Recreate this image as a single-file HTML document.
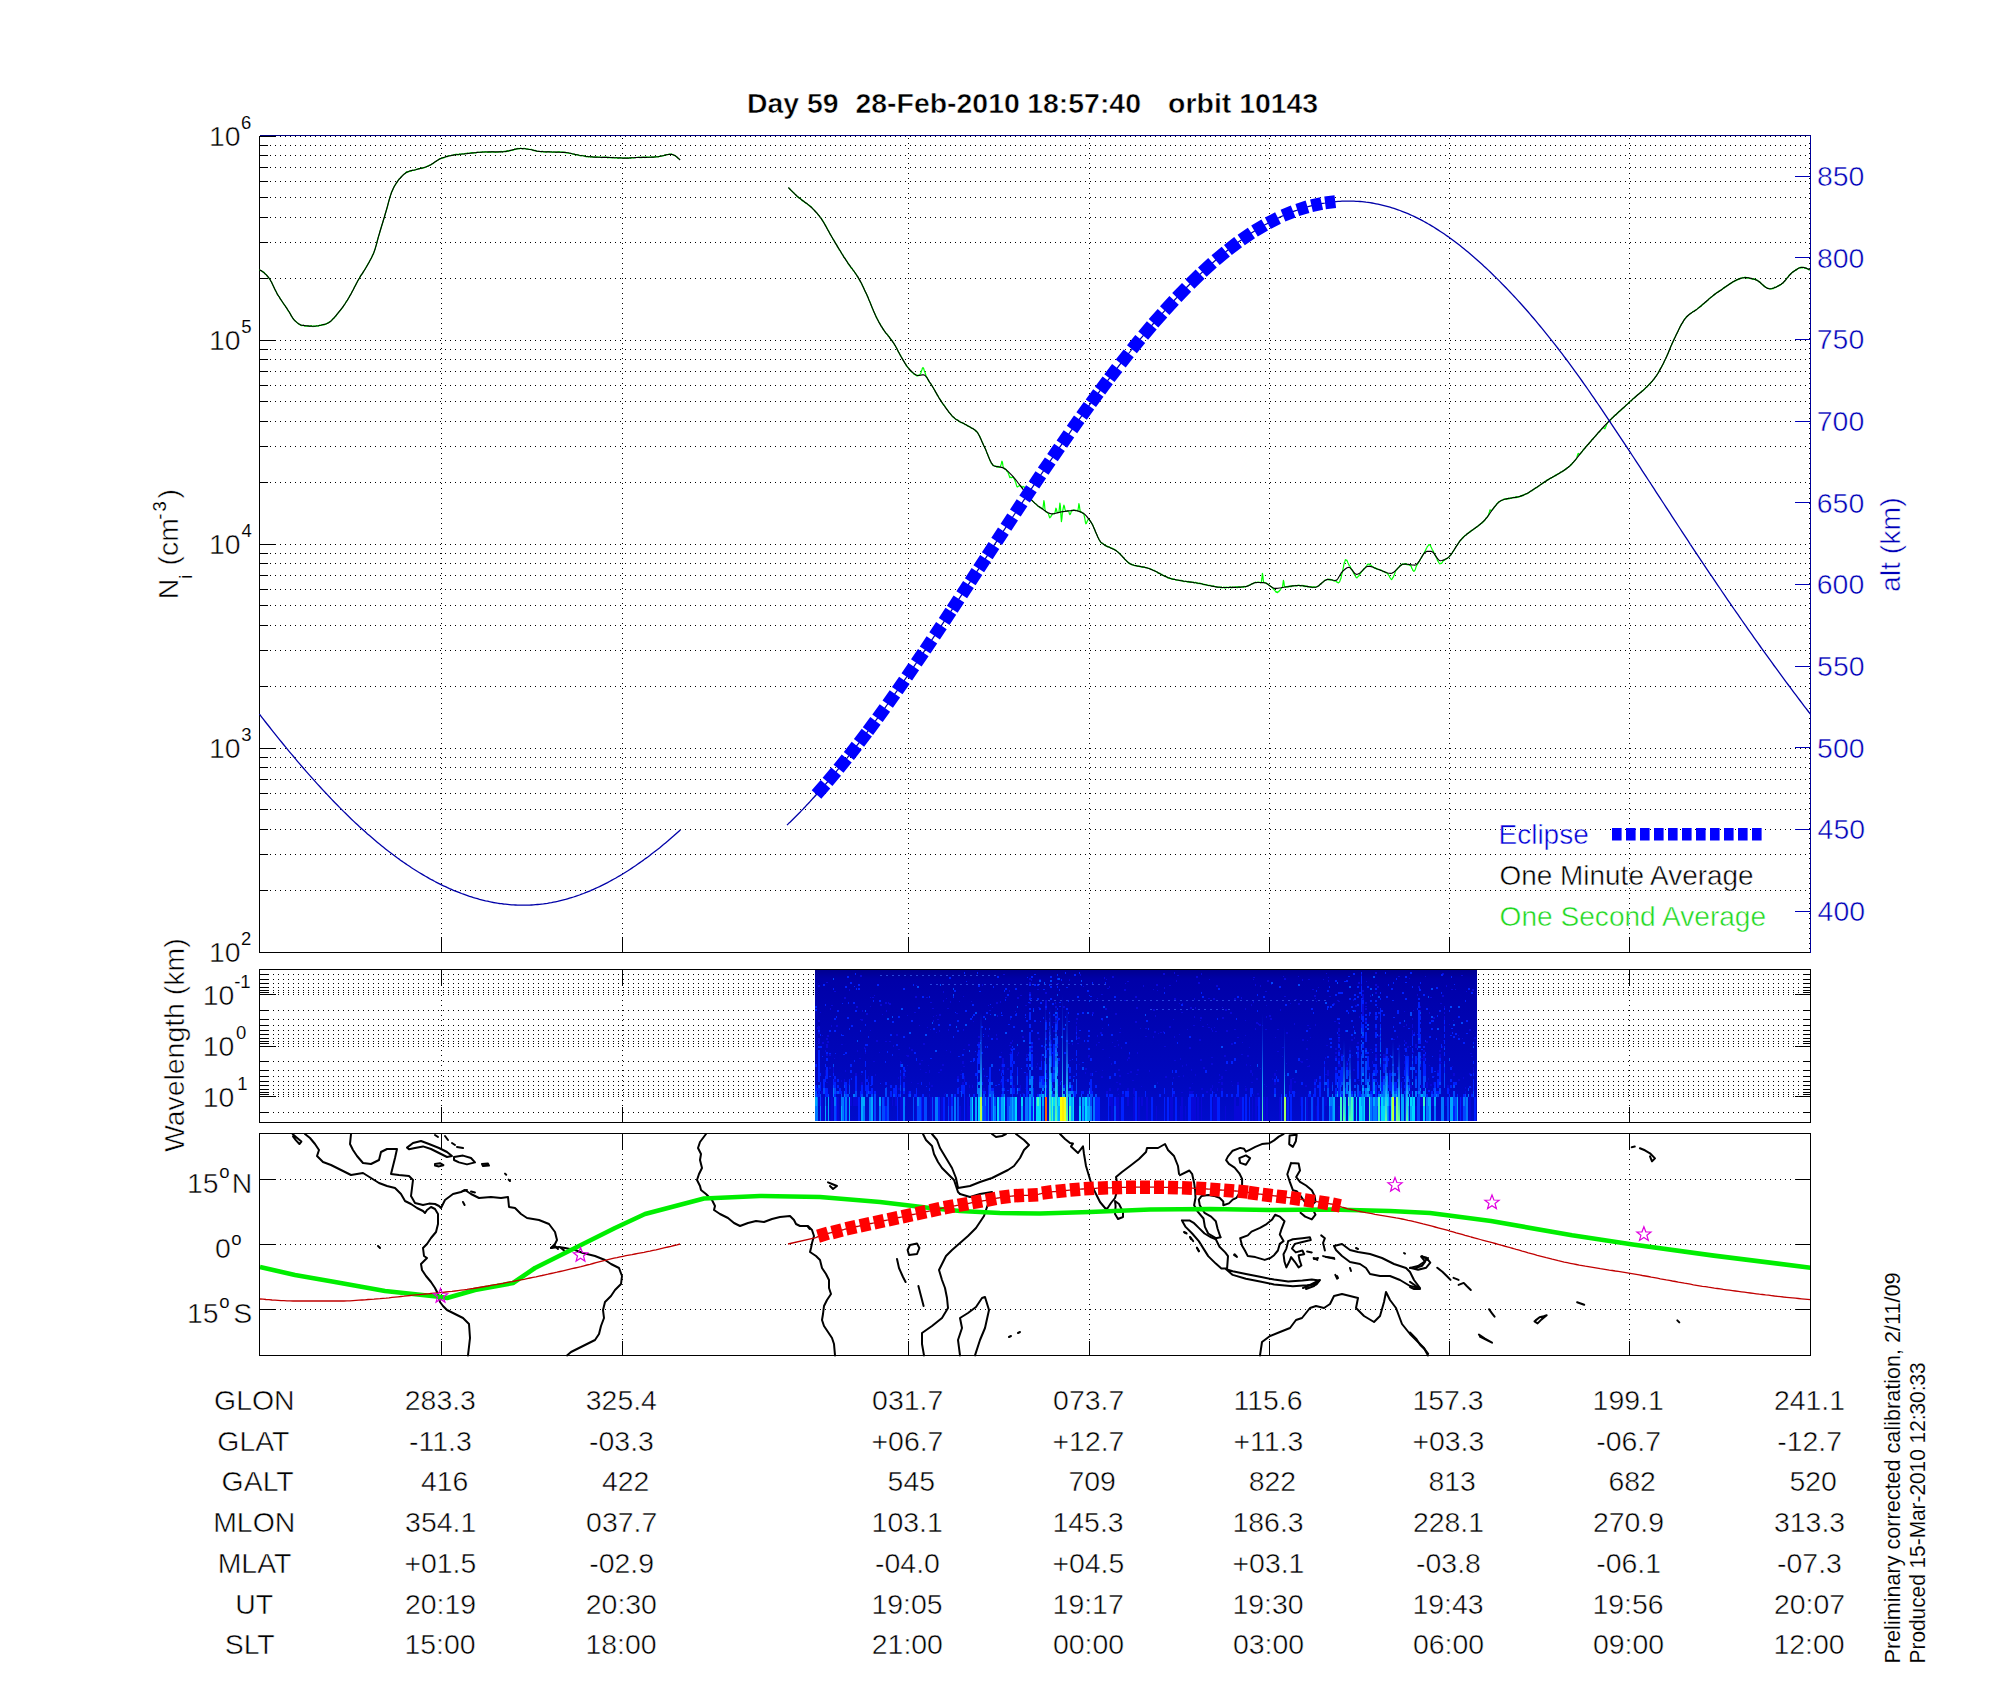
<!DOCTYPE html><html><head><meta charset="utf-8"><style>html,body{margin:0;padding:0;background:#fff;}svg{display:block;}text{font-family:"Liberation Sans",sans-serif;stroke:#fff;stroke-width:0.5;paint-order:fill stroke;}</style></head><body>
<svg width="2000" height="1700" viewBox="0 0 2000 1700">
<rect x="0" y="0" width="2000" height="1700" fill="#fff"/>
<text x="746.9" y="113" font-size="28" fill="#000" font-weight="bold" textLength="91.6" lengthAdjust="spacingAndGlyphs">Day 59</text>
<text x="855.5" y="113" font-size="28" fill="#000" font-weight="bold" textLength="164.3" lengthAdjust="spacingAndGlyphs">28-Feb-2010</text>
<text x="1027.2" y="113" font-size="28" fill="#000" font-weight="bold" textLength="113.8" lengthAdjust="spacingAndGlyphs">18:57:40</text>
<text x="1168.1" y="113" font-size="28" fill="#000" font-weight="bold" textLength="150.1" lengthAdjust="spacingAndGlyphs">orbit 10143</text>
<g shape-rendering="crispEdges">
<line x1="264.5" y1="890.5" x2="1810.5" y2="890.5" stroke="#000" stroke-width="1" stroke-dasharray="1 4" stroke-dashoffset="0"/>
<line x1="264.5" y1="854.5" x2="1810.5" y2="854.5" stroke="#000" stroke-width="1" stroke-dasharray="1 4" stroke-dashoffset="0"/>
<line x1="264.5" y1="829.5" x2="1810.5" y2="829.5" stroke="#000" stroke-width="1" stroke-dasharray="1 4" stroke-dashoffset="0"/>
<line x1="264.5" y1="809.5" x2="1810.5" y2="809.5" stroke="#000" stroke-width="1" stroke-dasharray="1 4" stroke-dashoffset="0"/>
<line x1="264.5" y1="793.5" x2="1810.5" y2="793.5" stroke="#000" stroke-width="1" stroke-dasharray="1 4" stroke-dashoffset="0"/>
<line x1="264.5" y1="779.5" x2="1810.5" y2="779.5" stroke="#000" stroke-width="1" stroke-dasharray="1 4" stroke-dashoffset="0"/>
<line x1="264.5" y1="767.5" x2="1810.5" y2="767.5" stroke="#000" stroke-width="1" stroke-dasharray="1 4" stroke-dashoffset="0"/>
<line x1="264.5" y1="757.5" x2="1810.5" y2="757.5" stroke="#000" stroke-width="1" stroke-dasharray="1 4" stroke-dashoffset="0"/>
<line x1="264.5" y1="748.5" x2="1810.5" y2="748.5" stroke="#000" stroke-width="1" stroke-dasharray="1 4" stroke-dashoffset="0"/>
<line x1="264.5" y1="686.5" x2="1810.5" y2="686.5" stroke="#000" stroke-width="1" stroke-dasharray="1 4" stroke-dashoffset="0"/>
<line x1="264.5" y1="650.5" x2="1810.5" y2="650.5" stroke="#000" stroke-width="1" stroke-dasharray="1 4" stroke-dashoffset="0"/>
<line x1="264.5" y1="625.5" x2="1810.5" y2="625.5" stroke="#000" stroke-width="1" stroke-dasharray="1 4" stroke-dashoffset="0"/>
<line x1="264.5" y1="605.5" x2="1810.5" y2="605.5" stroke="#000" stroke-width="1" stroke-dasharray="1 4" stroke-dashoffset="0"/>
<line x1="264.5" y1="589.5" x2="1810.5" y2="589.5" stroke="#000" stroke-width="1" stroke-dasharray="1 4" stroke-dashoffset="0"/>
<line x1="264.5" y1="575.5" x2="1810.5" y2="575.5" stroke="#000" stroke-width="1" stroke-dasharray="1 4" stroke-dashoffset="0"/>
<line x1="264.5" y1="563.5" x2="1810.5" y2="563.5" stroke="#000" stroke-width="1" stroke-dasharray="1 4" stroke-dashoffset="0"/>
<line x1="264.5" y1="553.5" x2="1810.5" y2="553.5" stroke="#000" stroke-width="1" stroke-dasharray="1 4" stroke-dashoffset="0"/>
<line x1="264.5" y1="544.5" x2="1810.5" y2="544.5" stroke="#000" stroke-width="1" stroke-dasharray="1 4" stroke-dashoffset="0"/>
<line x1="264.5" y1="482.5" x2="1810.5" y2="482.5" stroke="#000" stroke-width="1" stroke-dasharray="1 4" stroke-dashoffset="0"/>
<line x1="264.5" y1="446.5" x2="1810.5" y2="446.5" stroke="#000" stroke-width="1" stroke-dasharray="1 4" stroke-dashoffset="0"/>
<line x1="264.5" y1="421.5" x2="1810.5" y2="421.5" stroke="#000" stroke-width="1" stroke-dasharray="1 4" stroke-dashoffset="0"/>
<line x1="264.5" y1="401.5" x2="1810.5" y2="401.5" stroke="#000" stroke-width="1" stroke-dasharray="1 4" stroke-dashoffset="0"/>
<line x1="264.5" y1="385.5" x2="1810.5" y2="385.5" stroke="#000" stroke-width="1" stroke-dasharray="1 4" stroke-dashoffset="0"/>
<line x1="264.5" y1="371.5" x2="1810.5" y2="371.5" stroke="#000" stroke-width="1" stroke-dasharray="1 4" stroke-dashoffset="0"/>
<line x1="264.5" y1="359.5" x2="1810.5" y2="359.5" stroke="#000" stroke-width="1" stroke-dasharray="1 4" stroke-dashoffset="0"/>
<line x1="264.5" y1="349.5" x2="1810.5" y2="349.5" stroke="#000" stroke-width="1" stroke-dasharray="1 4" stroke-dashoffset="0"/>
<line x1="264.5" y1="340.5" x2="1810.5" y2="340.5" stroke="#000" stroke-width="1" stroke-dasharray="1 4" stroke-dashoffset="0"/>
<line x1="264.5" y1="278.5" x2="1810.5" y2="278.5" stroke="#000" stroke-width="1" stroke-dasharray="1 4" stroke-dashoffset="0"/>
<line x1="264.5" y1="242.5" x2="1810.5" y2="242.5" stroke="#000" stroke-width="1" stroke-dasharray="1 4" stroke-dashoffset="0"/>
<line x1="264.5" y1="217.5" x2="1810.5" y2="217.5" stroke="#000" stroke-width="1" stroke-dasharray="1 4" stroke-dashoffset="0"/>
<line x1="264.5" y1="197.5" x2="1810.5" y2="197.5" stroke="#000" stroke-width="1" stroke-dasharray="1 4" stroke-dashoffset="0"/>
<line x1="264.5" y1="181.5" x2="1810.5" y2="181.5" stroke="#000" stroke-width="1" stroke-dasharray="1 4" stroke-dashoffset="0"/>
<line x1="264.5" y1="167.5" x2="1810.5" y2="167.5" stroke="#000" stroke-width="1" stroke-dasharray="1 4" stroke-dashoffset="0"/>
<line x1="264.5" y1="155.5" x2="1810.5" y2="155.5" stroke="#000" stroke-width="1" stroke-dasharray="1 4" stroke-dashoffset="0"/>
<line x1="264.5" y1="145.5" x2="1810.5" y2="145.5" stroke="#000" stroke-width="1" stroke-dasharray="1 4" stroke-dashoffset="0"/>
<line x1="264.5" y1="136.5" x2="1810.5" y2="136.5" stroke="#000" stroke-width="1" stroke-dasharray="1 4" stroke-dashoffset="0"/>
<line x1="441.5" y1="138" x2="441.5" y2="952.5" stroke="#000" stroke-width="1" stroke-dasharray="1 4" stroke-dashoffset="0"/>
<line x1="622.5" y1="138" x2="622.5" y2="952.5" stroke="#000" stroke-width="1" stroke-dasharray="1 4" stroke-dashoffset="0"/>
<line x1="908.5" y1="138" x2="908.5" y2="952.5" stroke="#000" stroke-width="1" stroke-dasharray="1 4" stroke-dashoffset="0"/>
<line x1="1089.5" y1="138" x2="1089.5" y2="952.5" stroke="#000" stroke-width="1" stroke-dasharray="1 4" stroke-dashoffset="0"/>
<line x1="1269.5" y1="138" x2="1269.5" y2="952.5" stroke="#000" stroke-width="1" stroke-dasharray="1 4" stroke-dashoffset="0"/>
<line x1="1449.5" y1="138" x2="1449.5" y2="952.5" stroke="#000" stroke-width="1" stroke-dasharray="1 4" stroke-dashoffset="0"/>
<line x1="1629.5" y1="138" x2="1629.5" y2="952.5" stroke="#000" stroke-width="1" stroke-dasharray="1 4" stroke-dashoffset="0"/>
<line x1="259.5" y1="952.5" x2="275.5" y2="952.5" stroke="#000" stroke-width="1"/>
<line x1="259.5" y1="890.5" x2="268" y2="890.5" stroke="#000" stroke-width="1"/>
<line x1="259.5" y1="854.5" x2="268" y2="854.5" stroke="#000" stroke-width="1"/>
<line x1="259.5" y1="829.5" x2="268" y2="829.5" stroke="#000" stroke-width="1"/>
<line x1="259.5" y1="809.5" x2="268" y2="809.5" stroke="#000" stroke-width="1"/>
<line x1="259.5" y1="793.5" x2="268" y2="793.5" stroke="#000" stroke-width="1"/>
<line x1="259.5" y1="779.5" x2="268" y2="779.5" stroke="#000" stroke-width="1"/>
<line x1="259.5" y1="767.5" x2="268" y2="767.5" stroke="#000" stroke-width="1"/>
<line x1="259.5" y1="757.5" x2="268" y2="757.5" stroke="#000" stroke-width="1"/>
<line x1="259.5" y1="748.5" x2="275.5" y2="748.5" stroke="#000" stroke-width="1"/>
<line x1="259.5" y1="686.5" x2="268" y2="686.5" stroke="#000" stroke-width="1"/>
<line x1="259.5" y1="650.5" x2="268" y2="650.5" stroke="#000" stroke-width="1"/>
<line x1="259.5" y1="625.5" x2="268" y2="625.5" stroke="#000" stroke-width="1"/>
<line x1="259.5" y1="605.5" x2="268" y2="605.5" stroke="#000" stroke-width="1"/>
<line x1="259.5" y1="589.5" x2="268" y2="589.5" stroke="#000" stroke-width="1"/>
<line x1="259.5" y1="575.5" x2="268" y2="575.5" stroke="#000" stroke-width="1"/>
<line x1="259.5" y1="563.5" x2="268" y2="563.5" stroke="#000" stroke-width="1"/>
<line x1="259.5" y1="553.5" x2="268" y2="553.5" stroke="#000" stroke-width="1"/>
<line x1="259.5" y1="544.5" x2="275.5" y2="544.5" stroke="#000" stroke-width="1"/>
<line x1="259.5" y1="482.5" x2="268" y2="482.5" stroke="#000" stroke-width="1"/>
<line x1="259.5" y1="446.5" x2="268" y2="446.5" stroke="#000" stroke-width="1"/>
<line x1="259.5" y1="421.5" x2="268" y2="421.5" stroke="#000" stroke-width="1"/>
<line x1="259.5" y1="401.5" x2="268" y2="401.5" stroke="#000" stroke-width="1"/>
<line x1="259.5" y1="385.5" x2="268" y2="385.5" stroke="#000" stroke-width="1"/>
<line x1="259.5" y1="371.5" x2="268" y2="371.5" stroke="#000" stroke-width="1"/>
<line x1="259.5" y1="359.5" x2="268" y2="359.5" stroke="#000" stroke-width="1"/>
<line x1="259.5" y1="349.5" x2="268" y2="349.5" stroke="#000" stroke-width="1"/>
<line x1="259.5" y1="340.5" x2="275.5" y2="340.5" stroke="#000" stroke-width="1"/>
<line x1="259.5" y1="278.5" x2="268" y2="278.5" stroke="#000" stroke-width="1"/>
<line x1="259.5" y1="242.5" x2="268" y2="242.5" stroke="#000" stroke-width="1"/>
<line x1="259.5" y1="217.5" x2="268" y2="217.5" stroke="#000" stroke-width="1"/>
<line x1="259.5" y1="197.5" x2="268" y2="197.5" stroke="#000" stroke-width="1"/>
<line x1="259.5" y1="181.5" x2="268" y2="181.5" stroke="#000" stroke-width="1"/>
<line x1="259.5" y1="167.5" x2="268" y2="167.5" stroke="#000" stroke-width="1"/>
<line x1="259.5" y1="155.5" x2="268" y2="155.5" stroke="#000" stroke-width="1"/>
<line x1="259.5" y1="145.5" x2="268" y2="145.5" stroke="#000" stroke-width="1"/>
<line x1="259.5" y1="136.5" x2="275.5" y2="136.5" stroke="#000" stroke-width="1"/>
<line x1="441.5" y1="936.5" x2="441.5" y2="952.5" stroke="#000" stroke-width="1"/>
<line x1="622.5" y1="936.5" x2="622.5" y2="952.5" stroke="#000" stroke-width="1"/>
<line x1="908.5" y1="936.5" x2="908.5" y2="952.5" stroke="#000" stroke-width="1"/>
<line x1="1089.5" y1="936.5" x2="1089.5" y2="952.5" stroke="#000" stroke-width="1"/>
<line x1="1269.5" y1="936.5" x2="1269.5" y2="952.5" stroke="#000" stroke-width="1"/>
<line x1="1449.5" y1="936.5" x2="1449.5" y2="952.5" stroke="#000" stroke-width="1"/>
<line x1="1629.5" y1="936.5" x2="1629.5" y2="952.5" stroke="#000" stroke-width="1"/>
<line x1="1794.5" y1="911.5" x2="1810.5" y2="911.5" stroke="#0000b8" stroke-width="1"/>
<line x1="1794.5" y1="829.5" x2="1810.5" y2="829.5" stroke="#0000b8" stroke-width="1"/>
<line x1="1794.5" y1="747.5" x2="1810.5" y2="747.5" stroke="#0000b8" stroke-width="1"/>
<line x1="1794.5" y1="666.5" x2="1810.5" y2="666.5" stroke="#0000b8" stroke-width="1"/>
<line x1="1794.5" y1="584.5" x2="1810.5" y2="584.5" stroke="#0000b8" stroke-width="1"/>
<line x1="1794.5" y1="502.5" x2="1810.5" y2="502.5" stroke="#0000b8" stroke-width="1"/>
<line x1="1794.5" y1="421.5" x2="1810.5" y2="421.5" stroke="#0000b8" stroke-width="1"/>
<line x1="1794.5" y1="339.5" x2="1810.5" y2="339.5" stroke="#0000b8" stroke-width="1"/>
<line x1="1794.5" y1="257.5" x2="1810.5" y2="257.5" stroke="#0000b8" stroke-width="1"/>
<line x1="1794.5" y1="176.5" x2="1810.5" y2="176.5" stroke="#0000b8" stroke-width="1"/>
<line x1="259.5" y1="135.5" x2="259.5" y2="953" stroke="#000" stroke-width="1"/>
<line x1="259.5" y1="952.5" x2="1810.5" y2="952.5" stroke="#000" stroke-width="1"/>
<line x1="1810.5" y1="135.5" x2="1810.5" y2="953" stroke="#00009a" stroke-width="1"/>
<line x1="1809.5" y1="143" x2="1809.5" y2="952.5" stroke="#000" stroke-width="1" stroke-dasharray="1 4" stroke-dashoffset="0"/>
<line x1="259.5" y1="135.5" x2="1811" y2="135.5" stroke="#000080" stroke-width="1"/>
</g>
<text x="208.9" y="962" font-size="28" fill="#000" textLength="31.6" lengthAdjust="spacingAndGlyphs">10</text>
<text x="241.1" y="945.2" font-size="18.5" fill="#000" style="stroke-width:0.1">2</text>
<text x="208.9" y="758" font-size="28" fill="#000" textLength="31.6" lengthAdjust="spacingAndGlyphs">10</text>
<text x="241.3" y="741.2" font-size="18.5" fill="#000" style="stroke-width:0.1">3</text>
<text x="208.9" y="554" font-size="28" fill="#000" textLength="31.6" lengthAdjust="spacingAndGlyphs">10</text>
<text x="241.6" y="537.2" font-size="18.5" fill="#000" style="stroke-width:0.1">4</text>
<text x="208.9" y="350" font-size="28" fill="#000" textLength="31.6" lengthAdjust="spacingAndGlyphs">10</text>
<text x="241.3" y="333.2" font-size="18.5" fill="#000" style="stroke-width:0.1">5</text>
<text x="208.9" y="146" font-size="28" fill="#000" textLength="31.6" lengthAdjust="spacingAndGlyphs">10</text>
<text x="241.1" y="129.2" font-size="18.5" fill="#000" style="stroke-width:0.1">6</text>
<text x="1817.6" y="920.9" font-size="28" fill="#0000b8" textLength="47.4" lengthAdjust="spacingAndGlyphs">400</text>
<text x="1817.6" y="839.2" font-size="28" fill="#0000b8" textLength="47.4" lengthAdjust="spacingAndGlyphs">450</text>
<text x="1817.1" y="757.6" font-size="28" fill="#0000b8" textLength="47.4" lengthAdjust="spacingAndGlyphs">500</text>
<text x="1817.1" y="675.9" font-size="28" fill="#0000b8" textLength="47.4" lengthAdjust="spacingAndGlyphs">550</text>
<text x="1816.8" y="594.2" font-size="28" fill="#0000b8" textLength="47.4" lengthAdjust="spacingAndGlyphs">600</text>
<text x="1816.8" y="512.6" font-size="28" fill="#0000b8" textLength="47.4" lengthAdjust="spacingAndGlyphs">650</text>
<text x="1816.8" y="430.9" font-size="28" fill="#0000b8" textLength="47.4" lengthAdjust="spacingAndGlyphs">700</text>
<text x="1816.8" y="349.2" font-size="28" fill="#0000b8" textLength="47.4" lengthAdjust="spacingAndGlyphs">750</text>
<text x="1817" y="267.6" font-size="28" fill="#0000b8" textLength="47.4" lengthAdjust="spacingAndGlyphs">800</text>
<text x="1817" y="185.9" font-size="28" fill="#0000b8" textLength="47.4" lengthAdjust="spacingAndGlyphs">850</text>
<g transform="translate(178,597) rotate(-90)">
<text x="-2.3" y="0" font-size="28" fill="#000" textLength="20.5" lengthAdjust="spacingAndGlyphs">N</text>
<text x="18.3" y="14" font-size="18.5" fill="#000" style="stroke-width:0.1">i</text>
<text x="31.6" y="0" font-size="28" fill="#000" textLength="47.3" lengthAdjust="spacingAndGlyphs">(cm</text>
<text x="77.3" y="-12.5" font-size="18.5" fill="#000" style="stroke-width:0.1">-</text>
<text x="85.5" y="-12.3" font-size="18.5" fill="#000" style="stroke-width:0.1">3</text>
<text x="98.4" y="0" font-size="28" fill="#000" textLength="9.5" lengthAdjust="spacingAndGlyphs">)</text>
</g>
<g transform="translate(1899.5,590.9) rotate(-90)">
<text x="-1.2" y="0" font-size="28" fill="#0000b8" textLength="94.7" lengthAdjust="spacingAndGlyphs">alt (km)</text>
</g>
<polyline points="259.5,269.7 260.3,270.3 261.1,270.5 261.9,271.2 262.7,271.8 263.5,271.9 264.3,272.5 265.1,274.1 265.9,274.3 266.7,275.1 267.5,276.8 268.3,277.1 269.1,278.5 269.9,279.3 270.7,280.8 271.5,281.8 272.3,283.9 273.1,285.8 273.9,287.2 274.7,289.1 275.5,290.7 276.3,291.7 277.1,293.9 277.9,295.1 278.7,296.1 279.5,297 280.3,299.1 281.1,299.9 281.9,301.3 282.7,302.6 283.5,303.6 284.3,305 285.1,305.6 285.9,307.2 286.7,308 287.5,309.8 288.3,311.1 289.1,311.7 289.9,313.1 290.7,314.5 291.5,316.6 292.3,317.3 293.1,318.7 293.9,319.4 294.7,320.6 295.5,321.2 296.3,321.8 297.1,322.7 297.9,323.3 298.7,324.2 299.5,324.4 300.3,325.1 301.1,325.4 301.9,325.7 302.7,325.5 303.5,325.1 304.3,325.9 305.1,326.1 305.9,326.2 306.7,325.9 307.5,326.1 308.3,325.7 309.1,326.4 309.9,326.2 310.7,325.9 311.5,325.7 312.3,326.5 313.1,326.7 313.9,325.8 314.7,326.5 315.5,326 316.3,325.7 317.1,325.8 317.9,326.1 318.7,326.1 319.5,325.1 320.3,325.5 321.1,324.8 321.9,325.2 322.7,324.6 323.5,325 324.3,324.8 325.1,324.1 325.9,324.4 326.7,323.4 327.5,322.9 328.3,323 329.1,322 329.9,321.6 330.7,321.2 331.5,320.7 332.3,319.4 333.1,318.5 333.9,318.4 334.7,317 335.5,316.7 336.3,315.6 337.1,314.1 337.9,313.2 338.7,312.3 339.5,311.4 340.3,310.3 341.1,309.3 341.9,308.3 342.7,307.6 343.5,306 344.3,304.7 345.1,303.8 345.9,302.1 346.7,300.9 347.5,300.3 348.3,298.5 349.1,297.2 349.9,295.3 350.7,294.3 351.5,293 352.3,291 353.1,290 353.9,288.5 354.7,286.3 355.5,285.3 356.3,283.6 357.1,282.3 357.9,280.5 358.7,279.5 359.5,278.1 360.3,276.1 361.1,274.9 361.9,274.2 362.7,273.3 363.5,271.3 364.3,270.3 365.1,269.2 365.9,267.6 366.7,266.3 367.5,264.8 368.3,263.4 369.1,262.3 369.9,260.5 370.7,259.1 371.5,258 372.3,255.6 373.1,254.4 373.9,252.6 374.7,250.1 375.5,247.4 376.3,245.2 377.1,241.6 377.9,238.5 378.7,235.9 379.5,233.4 380.3,230.2 381.1,227.7 381.9,225 382.7,222.9 383.5,219.8 384.3,217.6 385.1,214.3 385.9,211.7 386.7,209.2 387.5,206.5 388.3,203.1 389.1,200 389.9,197.1 390.7,194.9 391.5,192.3 392.3,190.9 393.1,189.3 393.9,187 394.7,185.6 395.5,184.7 396.3,183.3 397.1,182.3 397.9,180.7 398.7,179.5 399.5,178.7 400.3,178.3 401.1,176.9 401.9,176.1 402.7,175.4 403.5,174.6 404.3,173.9 405.1,173.7 405.9,172.4 406.7,171.7 407.5,172.3 408.3,171.9 409.1,171.7 409.9,170.9 410.7,171.2 411.5,171 412.3,170.1 413.1,170.5 413.9,170.4 414.7,170.1 415.5,169.8 416.3,169.4 417.1,169.2 417.9,168.9 418.7,168.5 419.5,168.8 420.3,168.3 421.1,168.6 421.9,167.6 422.7,168.3 423.5,167.8 424.3,167.8 425.1,167.5 425.9,167.3 426.7,166.7 427.5,165.8 428.3,166.2 429.1,165.3 429.9,165 430.7,165 431.5,164.3 432.3,163.7 433.1,163.7 433.9,162.9 434.7,162 435.5,161.4 436.3,161.5 437.1,160.5 437.9,160.3 438.7,159.4 439.5,158.8 440.3,158.7 441.1,158.7 441.9,157.7 442.7,158.1 443.5,157.9 444.3,157.6 445.1,157.3 445.9,156.3 446.7,156.7 447.5,156.7 448.3,155.7 449.1,155.7 449.9,155.6 450.7,155.6 451.5,155.4 452.3,155.3 453.1,155.5 453.9,154.6 454.7,154.5 455.5,154.4 456.3,154.3 457.1,154.2 457.9,155 458.7,154.8 459.5,153.9 460.3,154.2 461.1,154 461.9,153.9 462.7,153.8 463.5,154 464.3,153.9 465.1,153.6 465.9,153.4 466.7,153.4 467.5,153.1 468.3,153.5 469.1,153.5 469.9,153.1 470.7,152.7 471.5,152.7 472.3,152.8 473.1,153 473.9,153.1 474.7,152.6 475.5,152.9 476.3,152.7 477.1,152.4 477.9,152.3 478.7,152.3 479.5,152.5 480.3,152.1 481.1,152.3 481.9,152.1 482.7,151.8 483.5,152.1 484.3,152.2 485.1,151.6 485.9,151.9 486.7,151.9 487.5,152.3 488.3,152.4 489.1,151.8 489.9,152.3 490.7,152.2 491.5,151.7 492.3,151.9 493.1,151.5 493.9,152.2 494.7,152.1 495.5,152.3 496.3,152.2 497.1,152 497.9,152.1 498.7,151.9 499.5,151.5 500.3,151.9 501.1,151.3 501.9,151.5 502.7,152.1 503.5,151.3 504.3,151.3 505.1,151.2 505.9,151.8 506.7,151 507.5,150.6 508.3,151.3 509.1,150.4 509.9,150.9 510.7,150.5 511.5,150.4 512.3,150.3 513.1,149.8 513.9,149.8 514.7,148.8 515.5,149.4 516.3,149 517.1,149 517.9,148.3 518.7,148.8 519.5,149 520.3,148.1 521.1,148.3 521.9,148.6 522.7,148.9 523.5,148.4 524.3,148.4 525.1,148.5 525.9,149 526.7,149.3 527.5,149 528.3,149.1 529.1,149.3 529.9,149.3 530.7,149.5 531.5,149.3 532.3,149.9 533.1,150.6 533.9,150.2 534.7,150.8 535.5,150.4 536.3,151.2 537.1,151.4 537.9,151.5 538.7,151.4 539.5,151.5 540.3,151.7 541.1,152 541.9,151.3 542.7,151.3 543.5,152 544.3,152.2 545.1,151.8 545.9,151.8 546.7,152.1 547.5,151.5 548.3,151.7 549.1,151.6 549.9,152 550.7,151.8 551.5,151.7 552.3,152.2 553.1,152.5 553.9,151.8 554.7,152.2 555.5,152 556.3,152.4 557.1,152.2 557.9,151.9 558.7,151.9 559.5,151.7 560.3,152.2 561.1,152.1 561.9,152 562.7,152.2 563.5,152.2 564.3,152.7 565.1,152.1 565.9,153 566.7,152.6 567.5,152.8 568.3,152.8 569.1,153.3 569.9,153.5 570.7,153.4 571.5,153.5 572.3,153.9 573.1,154.3 573.9,154 574.7,154.5 575.5,155 576.3,154.6 577.1,154.6 577.9,154.7 578.7,155.4 579.5,155.5 580.3,155.9 581.1,155.9 581.9,155.4 582.7,155.5 583.5,155.7 584.3,155.8 585.1,156.4 585.9,156.7 586.7,156.8 587.5,156.3 588.3,157 589.1,156.5 589.9,156.7 590.7,157.1 591.5,156.5 592.3,156.6 593.1,157.4 593.9,156.9 594.7,157 595.5,157.2 596.3,157.3 597.1,156.7 597.9,157 598.7,157.2 599.5,157.2 600.3,157 601.1,157.4 601.9,157.7 602.7,157.2 603.5,157.4 604.3,157 605.1,157.1 605.9,157.5 606.7,157 607.5,157.8 608.3,157.8 609.1,157.1 609.9,157.9 610.7,157.4 611.5,157.8 612.3,157.8 613.1,157.4 613.9,157.8 614.7,157.8 615.5,158 616.3,157.5 617.1,158.1 617.9,158.3 618.7,158.1 619.5,158 620.3,157.6 621.1,158 621.9,157.9 622.7,158.3 623.5,158.2 624.3,158.1 625.1,157.8 625.9,158.2 626.7,158.2 627.5,157.8 628.3,158.4 629.1,158.2 629.9,157.6 630.7,158.4 631.5,157.5 632.3,157.7 633.1,158 633.9,157.8 634.7,157.7 635.5,157.7 636.3,157.5 637.1,157.3 637.9,157.2 638.7,157 639.5,157.6 640.3,157.7 641.1,157.4 641.9,157.6 642.7,157.2 643.5,157.1 644.3,157.2 645.1,157.7 645.9,156.8 646.7,157.3 647.5,157 648.3,157.5 649.1,157.1 649.9,157 650.7,157.1 651.5,157.2 652.3,157.4 653.1,157 653.9,157.4 654.7,156.6 655.5,156.8 656.3,156.5 657.1,156.5 657.9,157 658.7,156.8 659.5,156.1 660.3,156 661.1,156 661.9,156.2 662.7,156 663.5,155.8 664.3,155.4 665.1,154.8 665.9,154.9 666.7,154.5 667.5,154.7 668.3,154.6 669.1,154.1 669.9,154.1 670.7,154.6 671.5,153.8 672.3,154.7 673.1,155 673.9,155.4 674.7,155.3 675.5,156 676.3,156.6 677.1,157.3 677.9,158.3 678.7,158.8 679.5,159.1" fill="none" stroke="#00ff00" stroke-width="1.2" stroke-linejoin="round"/>
<polyline points="788.4,187.9 788.9,188 789.4,188.7 789.9,189.3 790.4,189.1 790.9,190.4 791.4,190.8 791.9,191.1 792.4,191.7 792.9,192.1 793.4,192.3 793.9,193.2 794.4,193.2 794.9,194.1 795.4,194.7 795.9,195 796.4,195.6 796.9,196.4 797.4,196.8 797.9,196.5 798.4,197.6 798.9,197.8 799.4,197.7 799.9,198.4 800.4,198.7 800.9,198.9 801.4,199.7 801.9,200.5 802.4,200.2 802.9,201.2 803.4,201.3 803.9,201.1 804.4,202.2 804.9,202.3 805.4,203 805.9,203.1 806.4,203.5 806.9,203.4 807.4,204.3 807.9,204.8 808.4,205.1 808.9,205.1 809.4,205.9 809.9,206 810.4,206.1 810.9,206.5 811.4,207 811.9,207.6 812.4,208 812.9,208.8 813.4,209.5 813.9,209.9 814.4,210.3 814.9,211.1 815.4,211.2 815.9,212 816.4,212.8 816.9,213 817.4,213.4 817.9,214.7 818.4,215.1 818.9,215.4 819.4,216 819.9,216.8 820.4,217.5 820.9,217.9 821.4,218.4 821.9,219.3 822.4,220.7 822.9,220.8 823.4,221.9 823.9,222.5 824.4,223.4 824.9,224.2 825.4,225.4 825.9,226 826.4,226.8 826.9,227.8 827.4,228.8 827.9,230 828.4,230.5 828.9,231.4 829.4,232.7 829.9,233.6 830.4,234.8 830.9,235 831.4,236.3 831.9,237.1 832.4,237.6 832.9,239.4 833.4,239.5 833.9,240.2 834.4,241.4 834.9,241.9 835.4,243.2 835.9,243.8 836.4,244.4 836.9,245.1 837.4,246.7 837.9,247 838.4,248.4 838.9,248.9 839.4,250.2 839.9,250.3 840.4,251.1 840.9,251.9 841.4,253.3 841.9,253.9 842.4,254.4 842.9,255 843.4,256.4 843.9,257.4 844.4,257.9 844.9,258 845.4,258.8 845.9,259.7 846.4,260.5 846.9,261.1 847.4,261.9 847.9,263.2 848.4,264.2 848.9,264.2 849.4,265.6 849.9,265.8 850.4,266.8 850.9,267.6 851.4,268.3 851.9,268 852.4,269 852.9,270 853.4,271 853.9,270.8 854.4,271.7 854.9,272.9 855.4,272.9 855.9,273.9 856.4,274.6 856.9,275.7 857.4,276.7 857.9,276.8 858.4,278.2 858.9,279 859.4,280 859.9,280.6 860.4,281.9 860.9,282.3 861.4,283.3 861.9,284.1 862.4,285.7 862.9,286.4 863.4,287.3 863.9,288.2 864.4,289.9 864.9,290.8 865.4,292 865.9,292.7 866.4,293.9 866.9,294.7 867.4,296.4 867.9,296.8 868.4,298.4 868.9,299.9 869.4,301 869.9,301.7 870.4,303 870.9,304.8 871.4,305.8 871.9,307.3 872.4,308.5 872.9,309.3 873.4,310.9 873.9,311.9 874.4,312.7 874.9,313.9 875.4,314.7 875.9,316.1 876.4,317.7 876.9,317.9 877.4,319.4 877.9,319.9 878.4,320.8 878.9,322.3 879.4,322.8 879.9,323.5 880.4,324.4 880.9,325.7 881.4,326.5 881.9,326.7 882.4,327.7 882.9,329.2 883.4,329.2 883.9,330.3 884.4,330.8 884.9,331.9 885.4,332.4 885.9,333.2 886.4,333.6 886.9,333.9 887.4,334.5 887.9,335 888.4,336.4 888.9,336.3 889.4,336.8 889.9,338.4 890.4,338.3 890.9,339.6 891.4,339.5 891.9,340.5 892.4,341 892.9,342.3 893.4,342.8 893.9,343.6 894.4,344.5 894.9,345.5 895.4,345.8 895.9,347 896.4,347.7 896.9,348.3 897.4,350 897.9,350.7 898.4,351.9 898.9,352.2 899.4,353.5 899.9,354.4 900.4,355.6 900.9,355.8 901.4,357 901.9,358 902.4,358.4 902.9,359.7 903.4,360.7 903.9,361.3 904.4,362.3 904.9,363.1 905.4,363.6 905.9,364.5 906.4,366 906.9,366.1 907.4,366.9 907.9,367.2 908.4,368 908.9,368.5 909.4,369.8 909.9,370.1 910.4,370.8 910.9,371.4 911.4,371.5 911.9,372.3 912.4,372.4 912.9,372.7 913.4,373.7 913.9,374 914.4,374.5 914.9,374.4 915.4,375 915.9,374.9 916.4,375.7 916.9,375.8 917.4,375.3 917.9,376 918.4,375.2 918.9,375.1 919.4,375.4 919.9,374.6 920.4,374 920.9,373 921.4,370.9 921.9,370 922.4,368.2 922.9,367.7 923.4,367.9 923.9,369.3 924.4,371 924.9,372.3 925.4,373.7 925.9,375.3 926.4,376.5 926.9,377.2 927.4,378.1 927.9,379.6 928.4,380.3 928.9,381.5 929.4,382.3 929.9,383 930.4,383.2 930.9,383.7 931.4,384.6 931.9,385.6 932.4,386.4 932.9,387.3 933.4,387.9 933.9,389.3 934.4,389.6 934.9,390.7 935.4,392 935.9,392.8 936.4,393.2 936.9,394 937.4,395.5 937.9,395.5 938.4,396.5 938.9,397.8 939.4,398.6 939.9,399 940.4,399.7 940.9,400.6 941.4,401.8 941.9,402.3 942.4,403.5 942.9,404 943.4,405 943.9,404.7 944.4,405.6 944.9,406.1 945.4,407.3 945.9,407.9 946.4,408.3 946.9,409.5 947.4,409.7 947.9,410.6 948.4,411.2 948.9,412.4 949.4,412.6 949.9,413.1 950.4,413.5 950.9,414.4 951.4,415.2 951.9,415.8 952.4,416.6 952.9,417 953.4,416.9 953.9,417.2 954.4,418.3 954.9,418.7 955.4,418.8 955.9,419.5 956.4,419.6 956.9,419.6 957.4,419.8 957.9,420 958.4,420.9 958.9,421.5 959.4,421.8 959.9,421.6 960.4,422 960.9,422.6 961.4,422.7 961.9,422.7 962.4,422.8 962.9,423.2 963.4,423.1 963.9,423.3 964.4,424.1 964.9,424.7 965.4,424.5 965.9,424.6 966.4,424.8 966.9,425.2 967.4,425.9 967.9,425.8 968.4,426.6 968.9,426.1 969.4,426.5 969.9,427 970.4,427.2 970.9,427.9 971.4,428.1 971.9,428.5 972.4,428.5 972.9,428.2 973.4,429.1 973.9,429.4 974.4,429.7 974.9,429.8 975.4,430.6 975.9,431.3 976.4,430.9 976.9,432 977.4,432.2 977.9,433.1 978.4,434.2 978.9,435.2 979.4,435.9 979.9,436.5 980.4,438.3 980.9,438.7 981.4,440 981.9,441.7 982.4,442.3 982.9,443.4 983.4,445.1 983.9,446.1 984.4,446.6 984.9,447.8 985.4,448.8 985.9,449.9 986.4,451.3 986.9,453.3 987.4,453.6 987.9,455.1 988.4,456.3 988.9,457.4 989.4,459 989.9,460.4 990.4,461.5 990.9,462.3 991.4,463.4 991.9,463.4 992.4,464.4 992.9,465.6 993.4,465.1 993.9,465.6 994.4,466 994.9,465.9 995.4,466.4 995.9,466 996.4,466.2 996.9,467.1 997.4,466.3 997.9,467.1 998.4,466.5 998.9,467.4 999.4,467.1 999.9,467.1 1000.4,466.3 1000.9,465 1001.4,463.4 1001.9,461.2 1002.4,462.1 1002.9,465.4 1003.4,467.5 1003.9,467.6 1004.4,469 1004.9,468.9 1005.4,469.1 1005.9,469.3 1006.4,470.1 1006.9,471.3 1007.4,471.4 1007.9,472.3 1008.4,473.6 1008.9,474.9 1009.4,476.3 1009.9,477.7 1010.4,477.2 1010.9,477.3 1011.4,477.7 1011.9,477.4 1012.4,477.3 1012.9,476.7 1013.4,477.2 1013.9,478.5 1014.4,479.1 1014.9,480.6 1015.4,481.8 1015.9,483.2 1016.4,485.1 1016.9,486.5 1017.4,487 1017.9,486.7 1018.4,486.2 1018.9,485.9 1019.4,485.6 1019.9,485.7 1020.4,486.3 1020.9,486.1 1021.4,487 1021.9,487.6 1022.4,487.5 1022.9,486.4 1023.4,486.8 1023.9,486.8 1024.4,487.1 1024.9,488.8 1025.4,490.6 1025.9,492 1026.4,494.1 1026.9,494.4 1027.4,495.6 1027.9,495.5 1028.4,496 1028.9,497.5 1029.4,498 1029.9,498.8 1030.4,499 1030.9,499.4 1031.4,500.2 1031.9,500 1032.4,500.9 1032.9,501.3 1033.4,501.5 1033.9,502.4 1034.4,502.6 1034.9,503.2 1035.4,503.5 1035.9,503.9 1036.4,504.4 1036.9,505 1037.4,505.8 1037.9,506.2 1038.4,506.5 1038.9,506.8 1039.4,506.7 1039.9,507.7 1040.4,507.4 1040.9,507.6 1041.4,508.3 1041.9,508.8 1042.4,508.7 1042.9,508.6 1043.4,504.6 1043.9,500.7 1044.4,503.1 1044.9,508.8 1045.4,510.9 1045.9,511.8 1046.4,512.2 1046.9,512.1 1047.4,512.5 1047.9,513.3 1048.4,513.7 1048.9,515.4 1049.4,517.1 1049.9,517.8 1050.4,516.9 1050.9,516.9 1051.4,515.3 1051.9,515.1 1052.4,514 1052.9,513.6 1053.4,513.8 1053.9,514 1054.4,513.4 1054.9,513.1 1055.4,510.7 1055.9,508.2 1056.4,509 1056.9,511.6 1057.4,512.5 1057.9,512.6 1058.4,512.7 1058.9,512.1 1059.4,508.1 1059.9,503.1 1060.4,506.2 1060.9,514.9 1061.4,521.6 1061.9,518.6 1062.4,512.8 1062.9,509.9 1063.4,507.2 1063.9,505.1 1064.4,506.4 1064.9,509.1 1065.4,510.5 1065.9,511.3 1066.4,511.4 1066.9,511.4 1067.4,511.4 1067.9,510.9 1068.4,511.3 1068.9,511.6 1069.4,513.9 1069.9,514.5 1070.4,514 1070.9,512.7 1071.4,510.8 1071.9,510.3 1072.4,510.8 1072.9,510.5 1073.4,510 1073.9,509.9 1074.4,510.3 1074.9,510 1075.4,510.8 1075.9,510.2 1076.4,510.4 1076.9,510.6 1077.4,510.8 1077.9,510.3 1078.4,507.5 1078.9,503.6 1079.4,505.7 1079.9,509.7 1080.4,512.2 1080.9,512.3 1081.4,511.9 1081.9,512.4 1082.4,513 1082.9,513.5 1083.4,513.2 1083.9,514.2 1084.4,516.5 1084.9,519 1085.4,522.2 1085.9,523.8 1086.4,523.3 1086.9,522.1 1087.4,520.7 1087.9,519.9 1088.4,518.9 1088.9,519.3 1089.4,519.5 1089.9,520.7 1090.4,520.8 1090.9,522.4 1091.4,522.8 1091.9,523.7 1092.4,524.1 1092.9,525.3 1093.4,526.6 1093.9,528.1 1094.4,529 1094.9,529.9 1095.4,531.9 1095.9,532.8 1096.4,533.8 1096.9,534.7 1097.4,535.9 1097.9,537.6 1098.4,537.9 1098.9,539.3 1099.4,540.3 1099.9,540.8 1100.4,541.9 1100.9,542.6 1101.4,543 1101.9,543.3 1102.4,543.2 1102.9,543.4 1103.4,544.2 1103.9,544.4 1104.4,544.6 1104.9,545.5 1105.4,545.2 1105.9,546 1106.4,546.4 1106.9,545.8 1107.4,546.9 1107.9,546.6 1108.4,546.6 1108.9,546.8 1109.4,546.9 1109.9,547.6 1110.4,547.7 1110.9,548.3 1111.4,548.5 1111.9,548 1112.4,548.6 1112.9,548.8 1113.4,548.8 1113.9,549.2 1114.4,549.4 1114.9,550.2 1115.4,550.1 1115.9,550.2 1116.4,550.6 1116.9,551.2 1117.4,551.7 1117.9,551.8 1118.4,552.7 1118.9,552.7 1119.4,553.6 1119.9,554 1120.4,554.1 1120.9,555.2 1121.4,555.4 1121.9,556 1122.4,556.6 1122.9,557.2 1123.4,557.6 1123.9,557.7 1124.4,559 1124.9,559.6 1125.4,559.7 1125.9,560.3 1126.4,560.5 1126.9,561.6 1127.4,561.9 1127.9,561.8 1128.4,562.9 1128.9,563.4 1129.4,563.1 1129.9,564.1 1130.4,563.9 1130.9,563.8 1131.4,564.6 1131.9,564.4 1132.4,565 1132.9,565 1133.4,564.7 1133.9,565.2 1134.4,565.7 1134.9,565.4 1135.4,565.6 1135.9,566 1136.4,565.7 1136.9,565.9 1137.4,566.1 1137.9,566.4 1138.4,565.9 1138.9,565.8 1139.4,566.6 1139.9,566.5 1140.4,566.3 1140.9,567 1141.4,567.1 1141.9,566.8 1142.4,567.4 1142.9,567.3 1143.4,567.3 1143.9,566.9 1144.4,566.8 1144.9,567.5 1145.4,567.7 1145.9,567.5 1146.4,567.7 1146.9,567.9 1147.4,567.8 1147.9,568.4 1148.4,568.4 1148.9,568.4 1149.4,568.3 1149.9,568.9 1150.4,568.9 1150.9,569.5 1151.4,569.2 1151.9,569.6 1152.4,569.6 1152.9,570.1 1153.4,570.5 1153.9,570.2 1154.4,570.4 1154.9,571.1 1155.4,571.1 1155.9,571.6 1156.4,571.5 1156.9,571.7 1157.4,572.4 1157.9,573.1 1158.4,573.3 1158.9,573.2 1159.4,573.3 1159.9,573.2 1160.4,573.7 1160.9,574 1161.4,574.9 1161.9,574.3 1162.4,575.4 1162.9,575.2 1163.4,575.4 1163.9,575.5 1164.4,576.4 1164.9,575.9 1165.4,576.5 1165.9,576.7 1166.4,576.6 1166.9,576.8 1167.4,577.8 1167.9,577.8 1168.4,577.9 1168.9,578.3 1169.4,577.7 1169.9,578.4 1170.4,578.7 1170.9,578.3 1171.4,578.7 1171.9,579.3 1172.4,578.8 1172.9,579.4 1173.4,578.9 1173.9,579.5 1174.4,579.2 1174.9,579.5 1175.4,579.5 1175.9,580.1 1176.4,580.1 1176.9,580 1177.4,580.2 1177.9,580.1 1178.4,580.5 1178.9,580.1 1179.4,580.5 1179.9,580.6 1180.4,580.5 1180.9,580.2 1181.4,580.4 1181.9,581 1182.4,580.6 1182.9,581.2 1183.4,581.1 1183.9,581.6 1184.4,581.6 1184.9,581.5 1185.4,581.2 1185.9,581 1186.4,581.6 1186.9,581.8 1187.4,582.1 1187.9,581.4 1188.4,581.4 1188.9,582.3 1189.4,582.2 1189.9,582 1190.4,582.3 1190.9,581.8 1191.4,582.2 1191.9,582.4 1192.4,582.4 1192.9,582.1 1193.4,582.1 1193.9,582.7 1194.4,583 1194.9,582.3 1195.4,582.3 1195.9,582.4 1196.4,583.2 1196.9,582.9 1197.4,583.1 1197.9,583.7 1198.4,583.4 1198.9,583.1 1199.4,583.6 1199.9,583 1200.4,583.4 1200.9,583.9 1201.4,583.5 1201.9,583.5 1202.4,584.1 1202.9,584 1203.4,584.7 1203.9,584 1204.4,584.8 1204.9,584.5 1205.4,585 1205.9,584.8 1206.4,585.1 1206.9,584.9 1207.4,584.9 1207.9,585.2 1208.4,585.7 1208.9,585.3 1209.4,585.3 1209.9,585.6 1210.4,585.4 1210.9,585.7 1211.4,586.1 1211.9,586.2 1212.4,586.3 1212.9,586.1 1213.4,585.9 1213.9,586 1214.4,586.4 1214.9,586.4 1215.4,586.8 1215.9,586.6 1216.4,587.2 1216.9,587.1 1217.4,587.2 1217.9,587.4 1218.4,587.2 1218.9,587.2 1219.4,587.1 1219.9,586.9 1220.4,587.7 1220.9,587.4 1221.4,587 1221.9,587.9 1222.4,587.6 1222.9,587.6 1223.4,587.4 1223.9,587.1 1224.4,588 1224.9,587.2 1225.4,587.4 1225.9,588 1226.4,587.1 1226.9,587.5 1227.4,587.5 1227.9,587.2 1228.4,587.9 1228.9,587.4 1229.4,587 1229.9,587.4 1230.4,586.9 1230.9,587.6 1231.4,587.8 1231.9,587.8 1232.4,586.9 1232.9,587.5 1233.4,587.1 1233.9,587.3 1234.4,587.1 1234.9,587.1 1235.4,586.9 1235.9,587.4 1236.4,586.8 1236.9,587.7 1237.4,586.7 1237.9,587.6 1238.4,586.9 1238.9,586.7 1239.4,587.4 1239.9,587.1 1240.4,587.4 1240.9,587.1 1241.4,587.2 1241.9,586.6 1242.4,587.1 1242.9,586.9 1243.4,587.3 1243.9,586.3 1244.4,586.3 1244.9,586.9 1245.4,587 1245.9,586.5 1246.4,586.6 1246.9,586.3 1247.4,586 1247.9,585.9 1248.4,585.8 1248.9,585 1249.4,585 1249.9,585.2 1250.4,584.4 1250.9,584.4 1251.4,583.9 1251.9,583.8 1252.4,583.8 1252.9,583.7 1253.4,583.7 1253.9,583 1254.4,582.5 1254.9,582.5 1255.4,582.2 1255.9,582.3 1256.4,582.6 1256.9,582.6 1257.4,582.2 1257.9,582.2 1258.4,582.1 1258.9,582.2 1259.4,582.5 1259.9,582.3 1260.4,582.9 1260.9,582.6 1261.4,581.7 1261.9,578.2 1262.4,573.3 1262.9,576.4 1263.4,581.2 1263.9,582.4 1264.4,582.9 1264.9,582.6 1265.4,582.7 1265.9,582.9 1266.4,583.1 1266.9,583.7 1267.4,584.1 1267.9,584.5 1268.4,584.2 1268.9,585.3 1269.4,585.4 1269.9,585.7 1270.4,586.2 1270.9,586.5 1271.4,586.6 1271.9,587.2 1272.4,587.9 1272.9,588.4 1273.4,589.1 1273.9,588.9 1274.4,590.2 1274.9,590.7 1275.4,591.2 1275.9,592 1276.4,591.6 1276.9,592.5 1277.4,592.7 1277.9,591.7 1278.4,591.8 1278.9,591.7 1279.4,590.4 1279.9,590.3 1280.4,589.8 1280.9,588.7 1281.4,588 1281.9,587.7 1282.4,587.5 1282.9,584.1 1283.4,580.4 1283.9,582.2 1284.4,586.3 1284.9,586.7 1285.4,586.5 1285.9,587.4 1286.4,586.7 1286.9,586.7 1287.4,587.2 1287.9,586.4 1288.4,586.2 1288.9,586.9 1289.4,586.2 1289.9,586.1 1290.4,586.7 1290.9,585.9 1291.4,586.5 1291.9,585.9 1292.4,585.8 1292.9,585.6 1293.4,585.9 1293.9,585.9 1294.4,585.6 1294.9,585.7 1295.4,585.4 1295.9,585.9 1296.4,586 1296.9,585.8 1297.4,585.8 1297.9,585.1 1298.4,585.3 1298.9,585.2 1299.4,585.2 1299.9,586 1300.4,586 1300.9,586 1301.4,585.7 1301.9,585.3 1302.4,585.7 1302.9,585.4 1303.4,586.3 1303.9,585.7 1304.4,585.8 1304.9,586.6 1305.4,585.9 1305.9,586.7 1306.4,586.2 1306.9,586.6 1307.4,586.1 1307.9,587 1308.4,586.6 1308.9,586.6 1309.4,587 1309.9,587 1310.4,586.7 1310.9,586.7 1311.4,587.2 1311.9,586.7 1312.4,587.6 1312.9,587.1 1313.4,586.9 1313.9,587.1 1314.4,586.9 1314.9,587.1 1315.4,587.3 1315.9,587.1 1316.4,586.8 1316.9,586.6 1317.4,586.5 1317.9,586.5 1318.4,585.8 1318.9,585.8 1319.4,585.1 1319.9,584.3 1320.4,583.9 1320.9,584.1 1321.4,583.3 1321.9,582.8 1322.4,582.5 1322.9,582.4 1323.4,581.5 1323.9,581.1 1324.4,580.7 1324.9,580 1325.4,580.2 1325.9,579.9 1326.4,579.7 1326.9,579.5 1327.4,579.4 1327.9,579.6 1328.4,579.1 1328.9,579.9 1329.4,579.1 1329.9,579.9 1330.4,579.3 1330.9,580 1331.4,579.6 1331.9,579.5 1332.4,580.1 1332.9,580.5 1333.4,580.7 1333.9,580.8 1334.4,581.1 1334.9,580.4 1335.4,580.9 1335.9,581 1336.4,582 1336.9,581.9 1337.4,582.4 1337.9,582.6 1338.4,582.9 1338.9,582.4 1339.4,582.1 1339.9,581 1340.4,579.4 1340.9,578.6 1341.4,575.9 1341.9,573.7 1342.4,572.2 1342.9,569.3 1343.4,567.3 1343.9,564.3 1344.4,562.5 1344.9,561.4 1345.4,559.7 1345.9,559.8 1346.4,560.3 1346.9,560.2 1347.4,561.6 1347.9,562.7 1348.4,563.7 1348.9,564.9 1349.4,565.8 1349.9,566 1350.4,567 1350.9,568.2 1351.4,569.4 1351.9,569.5 1352.4,570.7 1352.9,571.2 1353.4,572.9 1353.9,573.4 1354.4,574.5 1354.9,575.6 1355.4,575.9 1355.9,577.2 1356.4,577.7 1356.9,577.8 1357.4,577.1 1357.9,576.7 1358.4,576.1 1358.9,576.1 1359.4,574.9 1359.9,574.1 1360.4,573.4 1360.9,572.9 1361.4,571.8 1361.9,571.2 1362.4,571 1362.9,570.4 1363.4,569.3 1363.9,568.6 1364.4,568.8 1364.9,568.1 1365.4,567.3 1365.9,566.5 1366.4,566.5 1366.9,565.4 1367.4,564.7 1367.9,564.2 1368.4,564.1 1368.9,564.3 1369.4,564.1 1369.9,564.9 1370.4,564.9 1370.9,565.1 1371.4,565.7 1371.9,566.1 1372.4,566.5 1372.9,566.8 1373.4,567.1 1373.9,567.4 1374.4,568 1374.9,567.6 1375.4,568.5 1375.9,568.2 1376.4,569 1376.9,568.4 1377.4,569 1377.9,569.2 1378.4,569.6 1378.9,569.3 1379.4,569.5 1379.9,569.6 1380.4,570.2 1380.9,570.4 1381.4,570.1 1381.9,570.5 1382.4,570.7 1382.9,571.7 1383.4,571.4 1383.9,571.7 1384.4,571.6 1384.9,572.2 1385.4,572.6 1385.9,572.7 1386.4,572.3 1386.9,573.1 1387.4,573.6 1387.9,573.7 1388.4,575.1 1388.9,575.4 1389.4,576.3 1389.9,577.5 1390.4,578.3 1390.9,578.9 1391.4,579.6 1391.9,579.2 1392.4,578.6 1392.9,577.5 1393.4,576.9 1393.9,575.5 1394.4,574.5 1394.9,573.1 1395.4,571.6 1395.9,570.6 1396.4,569.9 1396.9,569.1 1397.4,569.1 1397.9,568.2 1398.4,567.3 1398.9,567.3 1399.4,566.7 1399.9,565.6 1400.4,565.9 1400.9,565 1401.4,565.4 1401.9,564.2 1402.4,564.1 1402.9,563.9 1403.4,564.4 1403.9,564.3 1404.4,564.1 1404.9,563.7 1405.4,564 1405.9,564.3 1406.4,563.7 1406.9,564.6 1407.4,564.6 1407.9,564.8 1408.4,564.7 1408.9,564.7 1409.4,565.3 1409.9,564.9 1410.4,565.4 1410.9,566 1411.4,566.9 1411.9,568.6 1412.4,568.9 1412.9,570.5 1413.4,570.8 1413.9,571.4 1414.4,571 1414.9,570.2 1415.4,569.4 1415.9,567.3 1416.4,566.3 1416.9,565.3 1417.4,564.3 1417.9,563.6 1418.4,562.9 1418.9,561.9 1419.4,561.3 1419.9,560.2 1420.4,559 1420.9,558.3 1421.4,557.7 1421.9,556.9 1422.4,555.7 1422.9,554.8 1423.4,554.3 1423.9,553.1 1424.4,552.9 1424.9,551.1 1425.4,550.8 1425.9,549.6 1426.4,548.3 1426.9,547.6 1427.4,546.5 1427.9,546.1 1428.4,545.3 1428.9,544.6 1429.4,544.8 1429.9,545.2 1430.4,545.1 1430.9,546.7 1431.4,547.6 1431.9,548.9 1432.4,549.8 1432.9,550.5 1433.4,551.4 1433.9,552.8 1434.4,553.4 1434.9,554.9 1435.4,555.7 1435.9,556.9 1436.4,557.5 1436.9,558.6 1437.4,560.3 1437.9,561.1 1438.4,561.8 1438.9,562.8 1439.4,563.3 1439.9,563.8 1440.4,563.7 1440.9,563.2 1441.4,563.5 1441.9,562.9 1442.4,562.2 1442.9,561.2 1443.4,560.6 1443.9,560.6 1444.4,560.3 1444.9,559.8 1445.4,559 1445.9,559.2 1446.4,558.8 1446.9,558.3 1447.4,558.3 1447.9,557.8 1448.4,557.5 1448.9,557.2 1449.4,556.9 1449.9,555.5 1450.4,555.3 1450.9,555.1 1451.4,554.1 1451.9,553.3 1452.4,552.9 1452.9,551.3 1453.4,551.3 1453.9,550.4 1454.4,549.5 1454.9,548.4 1455.4,547.9 1455.9,546.6 1456.4,546.2 1456.9,545.2 1457.4,545.1 1457.9,544.2 1458.4,543.1 1458.9,542.6 1459.4,541.5 1459.9,541 1460.4,540 1460.9,540.1 1461.4,539.4 1461.9,538.9 1462.4,537.7 1462.9,537.9 1463.4,536.7 1463.9,536.7 1464.4,536.2 1464.9,535.3 1465.4,535.3 1465.9,535.3 1466.4,534.6 1466.9,533.9 1467.4,534 1467.9,533.2 1468.4,533.3 1468.9,532.5 1469.4,531.8 1469.9,532.3 1470.4,531 1470.9,530.8 1471.4,531 1471.9,530 1472.4,530.1 1472.9,530 1473.4,529.4 1473.9,528.8 1474.4,528.9 1474.9,528.6 1475.4,528 1475.9,527.6 1476.4,527 1476.9,526.7 1477.4,526.9 1477.9,526.5 1478.4,525.2 1478.9,525 1479.4,524.6 1479.9,524.8 1480.4,523.8 1480.9,523.3 1481.4,523.5 1481.9,522.4 1482.4,522.8 1482.9,521.8 1483.4,521.8 1483.9,521.2 1484.4,520.1 1484.9,520.1 1485.4,519.2 1485.9,518.4 1486.4,517.6 1486.9,517.6 1487.4,516.8 1487.9,515.9 1488.4,515.5 1488.9,513.5 1489.4,511.9 1489.9,509.9 1490.4,509.9 1490.9,510.9 1491.4,510.8 1491.9,510.1 1492.4,509.5 1492.9,509.2 1493.4,508.2 1493.9,508.1 1494.4,506.6 1494.9,506.8 1495.4,505.9 1495.9,505.5 1496.4,504.4 1496.9,503.6 1497.4,503.2 1497.9,503.1 1498.4,502 1498.9,501.6 1499.4,501.9 1499.9,501.6 1500.4,501.3 1500.9,500.9 1501.4,500.4 1501.9,500.5 1502.4,500.2 1502.9,499.9 1503.4,499.6 1503.9,499 1504.4,498.9 1504.9,499 1505.4,499.1 1505.9,498.6 1506.4,499.3 1506.9,498.8 1507.4,498.9 1507.9,498.9 1508.4,498.2 1508.9,498.8 1509.4,498.8 1509.9,498 1510.4,497.8 1510.9,498.4 1511.4,498.4 1511.9,498.2 1512.4,497.7 1512.9,497.8 1513.4,497.3 1513.9,497.3 1514.4,497.4 1514.9,497.7 1515.4,496.9 1515.9,497.7 1516.4,496.7 1516.9,497.5 1517.4,496.7 1517.9,497.2 1518.4,497.1 1518.9,497.1 1519.4,496.5 1519.9,496.6 1520.4,496 1520.9,496.4 1521.4,495.5 1521.9,496.1 1522.4,495.6 1522.9,494.9 1523.4,495.6 1523.9,494.8 1524.4,494.3 1524.9,494.3 1525.4,493.8 1525.9,493.8 1526.4,494 1526.9,494 1527.4,493.4 1527.9,493.3 1528.4,493 1528.9,492.6 1529.4,492 1529.9,491.6 1530.4,491.2 1530.9,491.2 1531.4,490.6 1531.9,490.8 1532.4,490.1 1532.9,490 1533.4,489.6 1533.9,489.4 1534.4,488.6 1534.9,488.3 1535.4,488.4 1535.9,487.6 1536.4,487.7 1536.9,487.6 1537.4,486.7 1537.9,486.9 1538.4,486.2 1538.9,486.2 1539.4,485.5 1539.9,485.3 1540.4,484.9 1540.9,484.1 1541.4,484 1541.9,483.8 1542.4,483.3 1542.9,483.2 1543.4,483.1 1543.9,482.6 1544.4,482.3 1544.9,481.3 1545.4,481.5 1545.9,481.1 1546.4,481.1 1546.9,479.9 1547.4,479.7 1547.9,480.2 1548.4,479.3 1548.9,479.4 1549.4,479 1549.9,478.5 1550.4,478.2 1550.9,478.1 1551.4,478.2 1551.9,477.5 1552.4,477.4 1552.9,476.7 1553.4,476.8 1553.9,476.4 1554.4,476.3 1554.9,476.1 1555.4,475.1 1555.9,475.7 1556.4,475 1556.9,474.4 1557.4,474.3 1557.9,473.7 1558.4,473.5 1558.9,473.8 1559.4,473.4 1559.9,473.3 1560.4,472.3 1560.9,471.9 1561.4,471.9 1561.9,471.7 1562.4,471.6 1562.9,470.9 1563.4,471 1563.9,470.5 1564.4,469.9 1564.9,470 1565.4,468.9 1565.9,469.1 1566.4,468.3 1566.9,467.8 1567.4,467.9 1567.9,467.5 1568.4,467.2 1568.9,466.6 1569.4,466.7 1569.9,466.1 1570.4,465 1570.9,464.4 1571.4,464.9 1571.9,463.8 1572.4,463 1572.9,462.5 1573.4,462.4 1573.9,461.4 1574.4,461 1574.9,460.7 1575.4,459.8 1575.9,459.4 1576.4,458.9 1576.9,457.5 1577.4,455.5 1577.9,453.9 1578.4,453.4 1578.9,454.3 1579.4,454.6 1579.9,454.3 1580.4,453.6 1580.9,453.2 1581.4,452.1 1581.9,451.9 1582.4,451.6 1582.9,450 1583.4,449.6 1583.9,449.8 1584.4,448.3 1584.9,448.4 1585.4,447.6 1585.9,446.5 1586.4,446.5 1586.9,445.3 1587.4,445.6 1587.9,444.5 1588.4,444.5 1588.9,443.9 1589.4,442.6 1589.9,442.3 1590.4,441.4 1590.9,441.5 1591.4,440.2 1591.9,439.6 1592.4,439.1 1592.9,439.3 1593.4,438.1 1593.9,437.6 1594.4,437.1 1594.9,436.7 1595.4,436 1595.9,435.9 1596.4,434.7 1596.9,434.3 1597.4,434.1 1597.9,432.9 1598.4,432.3 1598.9,432.4 1599.4,431.3 1599.9,431.3 1600.4,430.7 1600.9,429.7 1601.4,429.1 1601.9,428.4 1602.4,428.7 1602.9,428 1603.4,427.9 1603.9,428 1604.4,428.3 1604.9,428.8 1605.4,427.4 1605.9,426.6 1606.4,425.3 1606.9,424 1607.4,423.1 1607.9,422.3 1608.4,421.5 1608.9,421.6 1609.4,421.2 1609.9,420.4 1610.4,419.5 1610.9,419.7 1611.4,418.5 1611.9,418 1612.4,418 1612.9,417.7 1613.4,417 1613.9,416 1614.4,416.4 1614.9,415.1 1615.4,414.8 1615.9,415 1616.4,414.4 1616.9,413.9 1617.4,412.7 1617.9,413 1618.4,412.1 1618.9,411.3 1619.4,411.6 1619.9,411.3 1620.4,410 1620.9,409.9 1621.4,409.9 1621.9,408.9 1622.4,408.4 1622.9,408.4 1623.4,407.6 1623.9,407.8 1624.4,407.2 1624.9,406.7 1625.4,406.1 1625.9,405.1 1626.4,405.2 1626.9,404.6 1627.4,404.1 1627.9,403.7 1628.4,403 1628.9,402.4 1629.4,402.6 1629.9,401.6 1630.4,400.9 1630.9,401.3 1631.4,400.4 1631.9,400.1 1632.4,399.3 1632.9,398.7 1633.4,398.4 1633.9,398.5 1634.4,397.5 1634.9,397.7 1635.4,396.6 1635.9,396.8 1636.4,395.7 1636.9,395.5 1637.4,394.8 1637.9,394.4 1638.4,394.3 1638.9,393.8 1639.4,393.5 1639.9,392.8 1640.4,392.4 1640.9,392 1641.4,392.2 1641.9,390.9 1642.4,390.8 1642.9,390.8 1643.4,390.1 1643.9,389.3 1644.4,389.6 1644.9,388.3 1645.4,387.9 1645.9,387.3 1646.4,387.2 1646.9,387.2 1647.4,386.1 1647.9,385.6 1648.4,385.6 1648.9,384.4 1649.4,383.8 1649.9,383.9 1650.4,382.8 1650.9,382.7 1651.4,381.8 1651.9,381.7 1652.4,381.3 1652.9,380.3 1653.4,379.5 1653.9,379.3 1654.4,378.7 1654.9,377.4 1655.4,376.9 1655.9,376.4 1656.4,375.8 1656.9,374.8 1657.4,374.4 1657.9,373.1 1658.4,373 1658.9,371.5 1659.4,370.5 1659.9,369.5 1660.4,368.6 1660.9,367.8 1661.4,367.5 1661.9,366.1 1662.4,365.2 1662.9,364.7 1663.4,363.7 1663.9,362.6 1664.4,361 1664.9,360.1 1665.4,359.3 1665.9,358 1666.4,357 1666.9,355.7 1667.4,354.6 1667.9,353.9 1668.4,352.6 1668.9,351.2 1669.4,350 1669.9,348.9 1670.4,347.8 1670.9,345.9 1671.4,345.5 1671.9,344 1672.4,342.8 1672.9,342.3 1673.4,341.1 1673.9,339.6 1674.4,338.2 1674.9,337.6 1675.4,336.6 1675.9,335.4 1676.4,334.1 1676.9,333.6 1677.4,332.2 1677.9,331.7 1678.4,330.4 1678.9,329.1 1679.4,328.7 1679.9,327.3 1680.4,326 1680.9,325.2 1681.4,324.1 1681.9,323.6 1682.4,323.2 1682.9,322.4 1683.4,321.3 1683.9,320 1684.4,319.4 1684.9,318.6 1685.4,318.2 1685.9,317.8 1686.4,316.6 1686.9,316.6 1687.4,316 1687.9,315.8 1688.4,315.5 1688.9,314.7 1689.4,314.5 1689.9,313.8 1690.4,313.6 1690.9,313.4 1691.4,312.5 1691.9,312.6 1692.4,312.2 1692.9,311.6 1693.4,311.3 1693.9,311.6 1694.4,310.8 1694.9,310.3 1695.4,310.1 1695.9,310 1696.4,309.5 1696.9,309.1 1697.4,308.6 1697.9,308.1 1698.4,308 1698.9,307.7 1699.4,306.8 1699.9,306.9 1700.4,306.2 1700.9,306.5 1701.4,306 1701.9,304.8 1702.4,304.9 1702.9,304.1 1703.4,303.5 1703.9,303.8 1704.4,303.4 1704.9,302.8 1705.4,302.2 1705.9,302.1 1706.4,301.3 1706.9,301 1707.4,300.5 1707.9,300.3 1708.4,299.8 1708.9,298.9 1709.4,298.3 1709.9,298.2 1710.4,297.9 1710.9,297.2 1711.4,297.3 1711.9,296.9 1712.4,296.3 1712.9,295.8 1713.4,295.5 1713.9,294.6 1714.4,294.9 1714.9,293.8 1715.4,294.2 1715.9,293.5 1716.4,292.8 1716.9,292.4 1717.4,292.5 1717.9,292 1718.4,291.9 1718.9,291 1719.4,291.4 1719.9,290.6 1720.4,290.3 1720.9,290.3 1721.4,289.8 1721.9,289.3 1722.4,288.8 1722.9,288.6 1723.4,287.9 1723.9,287.7 1724.4,288 1724.9,286.9 1725.4,286.5 1725.9,286.9 1726.4,286.1 1726.9,285.9 1727.4,285.6 1727.9,285.4 1728.4,284.7 1728.9,284.8 1729.4,283.7 1729.9,284.2 1730.4,283.3 1730.9,283.3 1731.4,282.7 1731.9,282.8 1732.4,282.1 1732.9,282 1733.4,281.4 1733.9,281.7 1734.4,281.3 1734.9,280.5 1735.4,280.8 1735.9,280.7 1736.4,279.8 1736.9,279.5 1737.4,280 1737.9,279.8 1738.4,278.8 1738.9,279.2 1739.4,279.2 1739.9,278.3 1740.4,278.7 1740.9,278.1 1741.4,278.4 1741.9,278 1742.4,277.9 1742.9,277.4 1743.4,277.9 1743.9,277.9 1744.4,277.4 1744.9,277.2 1745.4,277.2 1745.9,277.4 1746.4,278.1 1746.9,277.9 1747.4,278.1 1747.9,278 1748.4,277.5 1748.9,277.8 1749.4,278.5 1749.9,278.5 1750.4,278.7 1750.9,278.7 1751.4,278.7 1751.9,278.9 1752.4,279.2 1752.9,278.9 1753.4,278.6 1753.9,279.1 1754.4,278.9 1754.9,279.3 1755.4,279.8 1755.9,279.7 1756.4,279.8 1756.9,279.9 1757.4,280.4 1757.9,280.8 1758.4,281.2 1758.9,281.9 1759.4,281.4 1759.9,282 1760.4,282.3 1760.9,283.6 1761.4,283.7 1761.9,284.2 1762.4,284.8 1762.9,284.5 1763.4,285.8 1763.9,285.7 1764.4,286.4 1764.9,286.6 1765.4,287.3 1765.9,287.2 1766.4,287.5 1766.9,287.8 1767.4,288.5 1767.9,288.4 1768.4,288.3 1768.9,288.6 1769.4,288.9 1769.9,288.7 1770.4,288.9 1770.9,289.1 1771.4,288.8 1771.9,288.8 1772.4,288.2 1772.9,288.6 1773.4,288.6 1773.9,288 1774.4,287.3 1774.9,287.1 1775.4,287.6 1775.9,287.5 1776.4,287.1 1776.9,286.6 1777.4,286.4 1777.9,285.7 1778.4,285.9 1778.9,286.1 1779.4,285 1779.9,285.1 1780.4,285.1 1780.9,284.6 1781.4,283.9 1781.9,283.4 1782.4,283.5 1782.9,283.3 1783.4,282.7 1783.9,281.7 1784.4,281.5 1784.9,281 1785.4,280 1785.9,279.8 1786.4,278.8 1786.9,278 1787.4,277.2 1787.9,277.4 1788.4,276.8 1788.9,275.5 1789.4,274.9 1789.9,274.6 1790.4,273.9 1790.9,273.9 1791.4,272.9 1791.9,272.8 1792.4,272.3 1792.9,271.7 1793.4,271.9 1793.9,271.1 1794.4,270.9 1794.9,270.7 1795.4,270.1 1795.9,269.5 1796.4,270 1796.9,269.5 1797.4,268.9 1797.9,268.6 1798.4,268.5 1798.9,267.9 1799.4,267.5 1799.9,267.7 1800.4,268 1800.9,267.1 1801.4,267.9 1801.9,267.3 1802.4,267.9 1802.9,267.7 1803.4,267.3 1803.9,267.3 1804.4,268.1 1804.9,268.3 1805.4,268.2 1805.9,268.1 1806.4,268.3 1806.9,268.7 1807.4,269 1807.9,269.3 1808.4,269 1808.9,269.9 1809.4,270.3" fill="none" stroke="#00ff00" stroke-width="1.2" stroke-linejoin="round"/>
<polyline points="259.5,270 261,270.6 262.5,271.6 264,272.8 265.5,274.2 267,275.7 268.5,277.4 270,279.5 271.5,282.2 273,285.3 274.5,288.5 276,291.6 277.5,294.4 279,296.8 280.5,299.1 282,301.3 283.5,303.5 285,305.7 286.5,307.9 288.1,310.3 289.6,312.8 291.1,315.4 292.6,317.8 294.1,319.8 295.6,321.4 297.1,322.6 298.6,323.7 300.1,324.6 301.6,325.2 303.1,325.4 304.6,325.6 306.1,325.8 307.6,325.9 309.1,326.1 310.6,326.1 312.1,326.2 313.6,326.2 315.1,326.2 316.6,326 318.1,325.8 319.6,325.5 321.1,325.2 322.6,324.8 324.1,324.4 325.6,324 327.1,323.5 328.6,322.8 330.1,321.7 331.6,320.4 333.1,318.9 334.6,317.2 336.1,315.4 337.6,313.6 339.1,311.7 340.6,309.8 342.1,307.9 343.6,305.8 345.2,303.5 346.7,301.2 348.2,298.7 349.7,296.2 351.2,293.6 352.7,290.7 354.2,287.8 355.7,284.9 357.2,282 358.7,279.3 360.2,276.8 361.7,274.4 363.2,272.1 364.7,269.7 366.2,267.3 367.7,264.7 369.2,262 370.7,259.3 372.2,256.3 373.7,252.9 375.2,248.7 376.7,243.3 378.2,237.7 379.7,232.5 381.2,227.5 382.7,222.5 384.2,217.5 385.7,212.5 387.2,207.1 388.7,201.6 390.2,196.4 391.7,192 393.2,188.6 394.7,185.8 396.2,183.2 397.7,181.1 399.2,179.2 400.8,177.5 402.3,175.9 403.8,174.4 405.3,173.2 406.8,172.2 408.3,171.5 409.8,171 411.3,170.6 412.8,170.3 414.3,170 415.8,169.7 417.3,169.3 418.8,168.9 420.3,168.5 421.8,168.1 423.3,167.7 424.8,167.2 426.3,166.7 427.8,166.2 429.3,165.5 430.8,164.7 432.3,163.8 433.8,162.8 435.3,161.8 436.8,160.7 438.3,159.8 439.8,158.9 441.3,158.3 442.8,157.7 444.3,157.2 445.8,156.8 447.3,156.4 448.8,156 450.3,155.7 451.8,155.4 453.3,155.1 454.8,154.9 456.4,154.7 457.9,154.5 459.4,154.3 460.9,154.2 462.4,154 463.9,153.9 465.4,153.7 466.9,153.6 468.4,153.4 469.9,153.2 471.4,153.1 472.9,152.9 474.4,152.7 475.9,152.6 477.4,152.4 478.9,152.3 480.4,152.2 481.9,152.1 483.4,152 484.9,152 486.4,152 487.9,151.9 489.4,151.9 490.9,151.9 492.4,151.9 493.9,151.9 495.4,151.9 496.9,151.9 498.4,151.9 499.9,151.8 501.4,151.8 502.9,151.8 504.4,151.7 505.9,151.4 507.4,151.1 508.9,150.8 510.4,150.4 512,150 513.5,149.6 515,149.2 516.5,148.9 518,148.7 519.5,148.5 521,148.5 522.5,148.6 524,148.7 525.5,148.8 527,149 528.5,149.3 530,149.5 531.5,149.8 533,150.1 534.5,150.5 536,150.9 537.5,151.3 539,151.4 540.5,151.5 542,151.6 543.5,151.7 545,151.8 546.5,151.8 548,151.9 549.5,151.9 551,152 552.5,152 554,152 555.5,152.1 557,152.1 558.5,152.1 560,152.2 561.5,152.3 563,152.3 564.5,152.4 566,152.5 567.5,152.7 569.1,153 570.6,153.3 572.1,153.7 573.6,154 575.1,154.4 576.6,154.7 578.1,155 579.6,155.3 581.1,155.5 582.6,155.8 584.1,156 585.6,156.3 587.1,156.5 588.6,156.7 590.1,156.8 591.6,156.9 593.1,157 594.6,157.1 596.1,157.1 597.6,157.2 599.1,157.2 600.6,157.3 602.1,157.3 603.6,157.3 605.1,157.4 606.6,157.4 608.1,157.4 609.6,157.5 611.1,157.5 612.6,157.6 614.1,157.7 615.6,157.7 617.1,157.8 618.6,157.9 620.1,157.9 621.6,158 623.1,158.1 624.7,158.1 626.2,158.1 627.7,158.1 629.2,158 630.7,157.9 632.2,157.8 633.7,157.7 635.2,157.6 636.7,157.5 638.2,157.5 639.7,157.4 641.2,157.4 642.7,157.4 644.2,157.3 645.7,157.3 647.2,157.3 648.7,157.2 650.2,157.2 651.7,157.1 653.2,157.1 654.7,157 656.2,157 657.7,156.8 659.2,156.5 660.7,156.2 662.2,155.8 663.7,155.5 665.2,155.1 666.7,154.8 668.2,154.5 669.7,154.4 671.2,154.3 672.7,154.5 674.2,155.2 675.7,156.1 677.2,157.3 678.7,158.6 680.2,160" fill="none" stroke="#000" stroke-width="1.15" stroke-linejoin="round"/>
<polyline points="788.4,187.5 789.9,189.1 791.4,190.7 792.9,192.2 794.4,193.6 795.9,195 797.4,196.4 798.9,197.7 800.4,198.9 801.9,200.1 803.4,201.1 804.9,202.2 806.4,203.3 807.9,204.4 809.4,205.6 810.9,207 812.4,208.4 813.9,209.9 815.4,211.5 816.9,213.2 818.4,214.9 819.9,216.8 821.4,218.9 822.9,221.2 824.4,223.8 825.9,226.4 827.4,229.2 829,232 830.5,234.7 832,237.3 833.5,239.8 835,242.4 836.5,244.9 838,247.4 839.5,249.8 841,252.3 842.5,254.7 844,257.1 845.5,259.4 847,261.7 848.5,263.9 850,265.9 851.5,268 853,270 854.5,272 856,274.2 857.5,276.4 859,278.9 860.5,281.6 862,284.6 863.5,287.7 865,290.9 866.5,294.1 868,297.5 869.5,301.1 871,304.7 872.5,308.4 874,312 875.5,315.4 877,318.6 878.5,321.5 880,324.1 881.5,326.6 883,328.9 884.5,331.1 886,333.1 887.5,335 889,336.9 890.5,338.8 892,340.8 893.5,342.9 895,345.3 896.5,348 898,350.9 899.5,353.7 901,356.5 902.5,359.1 904,361.6 905.5,364.1 907.1,366.5 908.6,368.5 910.1,370 911.6,371.5 913.1,372.9 914.6,374.1 916.1,375 917.6,375.5 919.1,375.5 920.6,375.2 922.1,374.9 923.6,374.8 925.1,375.5 926.6,377.3 928.1,379.6 929.6,382.1 931.1,384.3 932.6,386.7 934.1,389.3 935.6,391.9 937.1,394.6 938.6,397.2 940.1,399.6 941.6,401.9 943.1,404 944.6,406.2 946.1,408.3 947.6,410.4 949.1,412.3 950.6,414.2 952.1,415.8 953.6,417.3 955.1,418.6 956.6,419.7 958.1,420.6 959.6,421.5 961.1,422.3 962.6,423 964.1,423.8 965.6,424.6 967.1,425.4 968.6,426.3 970.1,427.1 971.6,427.9 973.1,428.8 974.6,429.8 976.1,431.1 977.6,432.7 979.1,435.2 980.6,438.4 982.1,441.9 983.6,445.2 985.2,448.5 986.7,452.1 988.2,456 989.7,459.6 991.2,462.6 992.7,464.9 994.2,466 995.7,466.4 997.2,466.6 998.7,466.8 1000.2,467.1 1001.7,467.4 1003.2,467.9 1004.7,468.7 1006.2,469.8 1007.7,471.2 1009.2,472.6 1010.7,474.1 1012.2,475.6 1013.7,477.3 1015.2,479.1 1016.7,481 1018.2,483 1019.7,484.8 1021.2,486.8 1022.7,488.8 1024.2,490.9 1025.7,492.9 1027.2,495 1028.7,496.9 1030.2,498.6 1031.7,500.2 1033.2,501.7 1034.7,503.1 1036.2,504.4 1037.7,505.6 1039.2,506.7 1040.7,507.8 1042.2,508.8 1043.7,509.9 1045.2,510.9 1046.7,511.9 1048.2,512.8 1049.7,513.4 1051.2,513.8 1052.7,513.8 1054.2,513.6 1055.7,513.3 1057.2,512.9 1058.7,512.5 1060.2,512.1 1061.7,511.8 1063.2,511.6 1064.8,511.4 1066.3,511.1 1067.8,510.9 1069.3,510.7 1070.8,510.6 1072.3,510.4 1073.8,510.4 1075.3,510.5 1076.8,510.7 1078.3,511.1 1079.8,511.6 1081.3,512.2 1082.8,512.9 1084.3,513.9 1085.8,515.3 1087.3,517.1 1088.8,519.1 1090.3,521.1 1091.8,523.4 1093.3,526.4 1094.8,529.9 1096.3,533.5 1097.8,537 1099.3,540 1100.8,542.1 1102.3,543.4 1103.8,544.5 1105.3,545.4 1106.8,546.2 1108.3,546.9 1109.8,547.5 1111.3,548.2 1112.8,548.9 1114.3,549.6 1115.8,550.5 1117.3,551.6 1118.8,552.9 1120.3,554.3 1121.8,555.9 1123.3,557.5 1124.8,559.2 1126.3,560.7 1127.8,562.1 1129.3,563.2 1130.8,564.1 1132.3,564.7 1133.8,565.2 1135.3,565.5 1136.8,565.9 1138.3,566.2 1139.8,566.4 1141.3,566.7 1142.9,566.9 1144.4,567.2 1145.9,567.6 1147.4,568 1148.9,568.5 1150.4,569.1 1151.9,569.7 1153.4,570.4 1154.9,571.1 1156.4,571.8 1157.9,572.6 1159.4,573.4 1160.9,574.2 1162.4,575 1163.9,575.7 1165.4,576.4 1166.9,577.1 1168.4,577.7 1169.9,578.2 1171.4,578.7 1172.9,579.1 1174.4,579.4 1175.9,579.7 1177.4,580 1178.9,580.3 1180.4,580.6 1181.9,580.8 1183.4,581.1 1184.9,581.3 1186.4,581.5 1187.9,581.7 1189.4,581.9 1190.9,582.1 1192.4,582.3 1193.9,582.6 1195.4,582.8 1196.9,583 1198.4,583.3 1199.9,583.5 1201.4,583.8 1202.9,584.2 1204.4,584.5 1205.9,584.8 1207.4,585.2 1208.9,585.5 1210.4,585.8 1211.9,586.1 1213.4,586.4 1214.9,586.7 1216.4,586.9 1217.9,587.1 1219.4,587.3 1221,587.4 1222.5,587.5 1224,587.5 1225.5,587.5 1227,587.5 1228.5,587.5 1230,587.4 1231.5,587.4 1233,587.4 1234.5,587.3 1236,587.3 1237.5,587.2 1239,587.1 1240.5,587.1 1242,587 1243.5,586.8 1245,586.7 1246.5,586.4 1248,585.9 1249.5,585.2 1251,584.4 1252.5,583.6 1254,583 1255.5,582.6 1257,582.5 1258.5,582.5 1260,582.5 1261.5,582.6 1263,582.6 1264.5,582.7 1266,583.2 1267.5,584 1269,585.1 1270.5,586.2 1272,587.3 1273.5,588.1 1275,588.4 1276.5,588.4 1278,588.2 1279.5,588 1281,587.8 1282.5,587.5 1284,587.2 1285.5,587 1287,586.8 1288.5,586.6 1290,586.3 1291.5,586.1 1293,585.9 1294.5,585.7 1296,585.6 1297.5,585.5 1299,585.5 1300.6,585.6 1302.1,585.7 1303.6,585.9 1305.1,586.2 1306.6,586.4 1308.1,586.6 1309.6,586.9 1311.1,587.1 1312.6,587.2 1314.1,587.3 1315.6,587.2 1317.1,586.7 1318.6,585.7 1320.1,584.5 1321.6,583.2 1323.1,581.9 1324.6,580.7 1326.1,579.9 1327.6,579.4 1329.1,579.5 1330.6,579.7 1332.1,580 1333.6,580.3 1335.1,580.5 1336.6,580.1 1338.1,578.3 1339.6,575.7 1341.1,573.2 1342.6,571.4 1344.1,570 1345.6,568.8 1347.1,567.8 1348.6,567.3 1350.1,567.8 1351.6,569.4 1353.1,571.4 1354.6,573.3 1356.1,574.4 1357.6,574.3 1359.1,573.6 1360.6,572.4 1362.1,570.9 1363.6,569.3 1365.1,567.9 1366.6,566.8 1368.1,566.3 1369.6,566.3 1371.1,566.6 1372.6,567 1374.1,567.7 1375.6,568.3 1377.1,569 1378.7,569.5 1380.2,570.1 1381.7,570.7 1383.2,571.3 1384.7,571.9 1386.2,572.5 1387.7,573 1389.2,573.3 1390.7,573.4 1392.2,573.1 1393.7,572.2 1395.2,570.9 1396.7,569.4 1398.2,567.8 1399.7,566.3 1401.2,565 1402.7,564.2 1404.2,564 1405.7,564.1 1407.2,564.2 1408.7,564.4 1410.2,564.7 1411.7,564.9 1413.2,565 1414.7,565.1 1416.2,564.7 1417.7,563.2 1419.2,561.1 1420.7,558.7 1422.2,556.1 1423.7,553.9 1425.2,552.2 1426.7,551.4 1428.2,551.4 1429.7,551.4 1431.2,551.4 1432.7,552 1434.2,553.7 1435.7,555.9 1437.2,558.2 1438.7,560 1440.2,560.7 1441.7,560.5 1443.2,560.1 1444.7,559.5 1446.2,558.8 1447.7,557.9 1449.2,556.6 1450.7,554.8 1452.2,552.8 1453.7,550.5 1455.2,548.1 1456.8,545.6 1458.3,543.3 1459.8,541.2 1461.3,539.3 1462.8,537.8 1464.3,536.4 1465.8,535.1 1467.3,533.8 1468.8,532.7 1470.3,531.6 1471.8,530.5 1473.3,529.4 1474.8,528.3 1476.3,527.2 1477.8,526.1 1479.3,525 1480.8,523.7 1482.3,522.4 1483.8,521 1485.3,519.4 1486.8,517.6 1488.3,515.6 1489.8,513.5 1491.3,511.3 1492.8,509.2 1494.3,507.2 1495.8,505.3 1497.3,503.6 1498.8,502.1 1500.3,501 1501.8,500.2 1503.3,499.7 1504.8,499.2 1506.3,498.9 1507.8,498.6 1509.3,498.3 1510.8,498.1 1512.3,497.8 1513.8,497.6 1515.3,497.4 1516.8,497.1 1518.3,496.8 1519.8,496.4 1521.3,495.9 1522.8,495.4 1524.3,494.8 1525.8,494.1 1527.3,493.3 1528.8,492.4 1530.3,491.5 1531.8,490.6 1533.3,489.6 1534.9,488.6 1536.4,487.6 1537.9,486.5 1539.4,485.5 1540.9,484.4 1542.4,483.4 1543.9,482.3 1545.4,481.4 1546.9,480.4 1548.4,479.5 1549.9,478.6 1551.4,477.7 1552.9,476.9 1554.4,476.1 1555.9,475.2 1557.4,474.4 1558.9,473.5 1560.4,472.6 1561.9,471.7 1563.4,470.7 1564.9,469.7 1566.4,468.7 1567.9,467.5 1569.4,466.3 1570.9,464.9 1572.4,463.4 1573.9,461.7 1575.4,459.9 1576.9,458 1578.4,456.2 1579.9,454.2 1581.4,452.3 1582.9,450.5 1584.4,448.7 1585.9,447 1587.4,445.2 1588.9,443.5 1590.4,441.8 1591.9,440 1593.4,438.3 1594.9,436.6 1596.4,434.9 1597.9,433.2 1599.4,431.5 1600.9,429.8 1602.4,428.1 1603.9,426.5 1605.4,424.9 1606.9,423.3 1608.4,421.8 1609.9,420.2 1611.4,418.8 1612.9,417.3 1614.5,415.9 1616,414.5 1617.5,413.1 1619,411.7 1620.5,410.4 1622,409 1623.5,407.6 1625,406.3 1626.5,404.9 1628,403.6 1629.5,402.2 1631,400.8 1632.5,399.4 1634,398.1 1635.5,396.8 1637,395.5 1638.5,394.2 1640,393 1641.5,391.7 1643,390.4 1644.5,389.1 1646,387.7 1647.5,386.2 1649,384.7 1650.5,383.1 1652,381.4 1653.5,379.7 1655,377.7 1656.5,375.6 1658,373.2 1659.5,370.6 1661,367.9 1662.5,365 1664,362.1 1665.5,359.1 1667,355.8 1668.5,352.2 1670,348.5 1671.5,344.9 1673,341.6 1674.5,338.5 1676,335.3 1677.5,332.2 1679,329.1 1680.5,326.1 1682,323.4 1683.5,320.9 1685,318.8 1686.5,317 1688,315.5 1689.5,314.3 1691,313.2 1692.6,312.1 1694.1,311.2 1695.6,310.2 1697.1,309.1 1698.6,307.9 1700.1,306.7 1701.6,305.4 1703.1,304.1 1704.6,302.8 1706.1,301.5 1707.6,300.2 1709.1,298.9 1710.6,297.6 1712.1,296.4 1713.6,295.2 1715.1,294 1716.6,292.9 1718.1,291.9 1719.6,290.9 1721.1,289.9 1722.6,288.9 1724.1,287.8 1725.6,286.8 1727.1,285.7 1728.6,284.7 1730.1,283.7 1731.6,282.7 1733.1,281.8 1734.6,280.9 1736.1,280.2 1737.6,279.5 1739.1,278.9 1740.6,278.4 1742.1,278 1743.6,277.7 1745.1,277.6 1746.6,277.6 1748.1,277.8 1749.6,278.1 1751.1,278.4 1752.6,278.9 1754.1,279.3 1755.6,279.8 1757.1,280.4 1758.6,281.3 1760.1,282.5 1761.6,283.8 1763.1,285.2 1764.6,286.5 1766.1,287.6 1767.6,288.4 1769.1,288.8 1770.7,288.7 1772.2,288.5 1773.7,288 1775.2,287.4 1776.7,286.7 1778.2,286 1779.7,285.1 1781.2,284.3 1782.7,283 1784.2,281.5 1785.7,279.8 1787.2,278 1788.7,276.2 1790.2,274.5 1791.7,272.9 1793.2,271.7 1794.7,270.7 1796.2,269.7 1797.7,268.7 1799.2,268 1800.7,267.5 1802.2,267.4 1803.7,267.5 1805.2,267.9 1806.7,268.4 1808.2,269.1 1809.7,270.1" fill="none" stroke="#000" stroke-width="1.15" stroke-linejoin="round"/>
<polyline points="787,825.1 788,824.1 789,823.1 790,822.2 791,821.2 792,820.2 793,819.2 794,818.2 795,817.2 796,816.2 797,815.2 798,814.2 799,813.2 800,812.2 801,811.1 802,810.1 803,809.1 804,808 805,807 806,805.9 807,804.8 808,803.8 809,802.7 810,801.6 811,800.5 812,799.4 813,798.3 814,797.2 815,796.1 816,795" fill="none" stroke="#0000a8" stroke-width="1.3" stroke-linejoin="round"/>
<polyline points="1334,201.8 1336,201.6 1338,201.4 1340,201.3 1342,201.2 1344,201.1 1346,201.1 1348,201.1 1350,201.1 1352,201.1 1354,201.2 1356,201.3 1358,201.4 1360,201.5 1362,201.7 1364,201.9 1366,202.2 1368,202.4 1370,202.7 1372,203 1374,203.4 1376,203.8 1378,204.2 1380,204.6 1382,205.1 1384,205.6 1386,206.1 1388,206.6 1390,207.2 1392,207.8 1394,208.4 1396,209.1 1398,209.8 1400,210.5 1402,211.3 1404,212.1 1406,212.9 1408,213.7 1410,214.6 1412,215.5 1414,216.4 1416,217.4 1418,218.4 1420,219.4 1422,220.4 1424,221.5 1426,222.6 1428,223.8 1430,224.9 1432,226.1 1434,227.3 1436,228.6 1438,229.9 1440,231.2 1442,232.5 1444,233.8 1446,235.2 1448,236.6 1450,238.1 1452,239.5 1454,241 1456,242.5 1458,244 1460,245.6 1462,247.2 1464,248.8 1466,250.4 1468,252.1 1470,253.8 1472,255.5 1474,257.2 1476,258.9 1478,260.7 1480,262.5 1482,264.3 1484,266.2 1486,268 1488,269.9 1490,271.8 1492,273.7 1494,275.7 1496,277.6 1498,279.6 1500,281.6 1502,283.7 1504,285.7 1506,287.8 1508,289.9 1510,292 1512,294.1 1514,296.2 1516,298.4 1518,300.6 1520,302.8 1522,305 1524,307.3 1526,309.5 1528,311.8 1530,314.1 1532,316.5 1534,318.8 1536,321.2 1538,323.6 1540,326 1542,328.4 1544,330.8 1546,333.3 1548,335.8 1550,338.3 1552,340.8 1554,343.4 1556,345.9 1558,348.5 1560,351.1 1562,353.7 1564,356.4 1566,359 1568,361.7 1570,364.4 1572,367.1 1574,369.8 1576,372.6 1578,375.4 1580,378.2 1582,381 1584,383.8 1586,386.6 1588,389.5 1590,392.4 1592,395.3 1594,398.2 1596,401.1 1598,404 1600,406.9 1602,409.9 1604,412.8 1606,415.8 1608,418.8 1610,421.8 1612,424.8 1614,427.8 1616,430.8 1618,433.8 1620,436.8 1622,439.8 1624,442.8 1626,445.9 1628,448.9 1630,451.9 1632,455 1634,458 1636,461.1 1638,464.1 1640,467.2 1642,470.3 1644,473.3 1646,476.4 1648,479.5 1650,482.5 1652,485.6 1654,488.7 1656,491.8 1658,494.8 1660,497.9 1662,501 1664,504 1666,507.1 1668,510.2 1670,513.2 1672,516.3 1674,519.4 1676,522.4 1678,525.5 1680,528.5 1682,531.6 1684,534.6 1686,537.7 1688,540.7 1690,543.8 1692,546.8 1694,549.8 1696,552.8 1698,555.8 1700,558.8 1702,561.8 1704,564.8 1706,567.8 1708,570.8 1710,573.8 1712,576.7 1714,579.7 1716,582.7 1718,585.6 1720,588.5 1722,591.5 1724,594.4 1726,597.3 1728,600.3 1730,603.2 1732,606.1 1734,609 1736,611.9 1738,614.7 1740,617.6 1742,620.5 1744,623.4 1746,626.2 1748,629.1 1750,631.9 1752,634.7 1754,637.6 1756,640.4 1758,643.2 1760,646 1762,648.8 1764,651.6 1766,654.4 1768,657.2 1770,659.9 1772,662.7 1774,665.5 1776,668.2 1778,670.9 1780,673.7 1782,676.4 1784,679.1 1786,681.8 1788,684.5 1790,687.2 1792,689.9 1794,692.6 1796,695.2 1798,697.9 1800,700.5 1802,703.2 1804,705.8 1806,708.4 1808,711 1810,713.6 1810.5,714.2" fill="none" stroke="#0000a8" stroke-width="1.3" stroke-linejoin="round"/>
<polyline points="259.5,714.2 261.5,716.8 263.5,719.4 265.5,722 267.5,724.5 269.5,727 271.5,729.6 273.5,732.1 275.5,734.6 277.5,737.1 279.5,739.6 281.5,742 283.5,744.5 285.5,746.9 287.5,749.3 289.5,751.8 291.5,754.2 293.5,756.5 295.5,758.9 297.5,761.3 299.5,763.6 301.5,766 303.5,768.3 305.5,770.6 307.5,772.9 309.5,775.1 311.5,777.4 313.5,779.6 315.5,781.9 317.5,784.1 319.5,786.3 321.5,788.5 323.5,790.6 325.5,792.8 327.5,794.9 329.5,797 331.5,799.1 333.5,801.2 335.5,803.3 337.5,805.3 339.5,807.4 341.5,809.4 343.5,811.4 345.5,813.3 347.5,815.3 349.5,817.2 351.5,819.2 353.5,821.1 355.5,823 357.5,824.8 359.5,826.7 361.5,828.5 363.5,830.3 365.5,832.1 367.5,833.9 369.5,835.6 371.5,837.3 373.5,839 375.5,840.7 377.5,842.4 379.5,844.1 381.5,845.7 383.5,847.3 385.5,848.9 387.5,850.5 389.5,852 391.5,853.5 393.5,855 395.5,856.5 397.5,858 399.5,859.4 401.5,860.9 403.5,862.3 405.5,863.6 407.5,865 409.5,866.3 411.5,867.7 413.5,869 415.5,870.2 417.5,871.5 419.5,872.7 421.5,873.9 423.5,875.1 425.5,876.3 427.5,877.4 429.5,878.6 431.5,879.7 433.5,880.7 435.5,881.8 437.5,882.8 439.5,883.8 441.5,884.8 443.5,885.8 445.5,886.7 447.5,887.7 449.5,888.6 451.5,889.4 453.5,890.3 455.5,891.1 457.5,891.9 459.5,892.7 461.5,893.5 463.5,894.2 465.5,894.9 467.5,895.6 469.5,896.3 471.5,896.9 473.5,897.6 475.5,898.2 477.5,898.7 479.5,899.3 481.5,899.8 483.5,900.3 485.5,900.8 487.5,901.2 489.5,901.7 491.5,902.1 493.5,902.5 495.5,902.8 497.5,903.2 499.5,903.5 501.5,903.7 503.5,904 505.5,904.2 507.5,904.4 509.5,904.6 511.5,904.8 513.5,904.9 515.5,905 517.5,905.1 519.5,905.2 521.5,905.2 523.5,905.2 525.5,905.2 527.5,905.1 529.5,905.1 531.5,905 533.5,904.9 535.5,904.7 537.5,904.5 539.5,904.3 541.5,904.1 543.5,903.9 545.5,903.6 547.5,903.3 549.5,902.9 551.5,902.6 553.5,902.2 555.5,901.8 557.5,901.4 559.5,900.9 561.5,900.4 563.5,899.9 565.5,899.4 567.5,898.8 569.5,898.2 571.5,897.6 573.5,897 575.5,896.3 577.5,895.7 579.5,895 581.5,894.2 583.5,893.5 585.5,892.7 587.5,891.9 589.5,891.1 591.5,890.2 593.5,889.3 595.5,888.4 597.5,887.5 599.5,886.6 601.5,885.6 603.5,884.6 605.5,883.6 607.5,882.6 609.5,881.5 611.5,880.4 613.5,879.3 615.5,878.2 617.5,877 619.5,875.9 621.5,874.7 623.5,873.5 625.5,872.2 627.5,871 629.5,869.7 631.5,868.4 633.5,867 635.5,865.7 637.5,864.3 639.5,862.9 641.5,861.5 643.5,860.1 645.5,858.6 647.5,857.2 649.5,855.7 651.5,854.1 653.5,852.6 655.5,851 657.5,849.5 659.5,847.9 661.5,846.2 663.5,844.6 665.5,842.9 667.5,841.3 669.5,839.5 671.5,837.8 673.5,836.1 675.5,834.3 677.5,832.5 679.5,830.7 680.4,829.9" fill="none" stroke="#0000a8" stroke-width="1.3" stroke-linejoin="round"/>
<polyline points="815,796.1 817,793.9 819,791.7 821,789.4 823,787.1 825,784.8 827,782.5 829,780.1 831,777.8 833,775.4 835,773 837,770.6 839,768.1 841,765.7 843,763.2 845,760.7 847,758.2 849,755.7 851,753.1 853,750.6 855,748 857,745.4 859,742.8 861,740.2 863,737.6 865,735 867,732.3 869,729.6 871,726.9 873,724.2 875,721.5 877,718.8 879,716.1 881,713.3 883,710.6 885,707.8 887,705 889,702.2 891,699.4 893,696.6 895,693.7 897,690.9 899,688 901,685.2 903,682.3 905,679.4 907,676.5 909,673.6 911,670.7 913,667.8 915,664.9 917,662 919,659 921,656.1 923,653.1 925,650.2 927,647.2 929,644.2 931,641.2 933,638.2 935,635.2 937,632.2 939,629.2 941,626.2 943,623.2 945,620.2 947,617.2 949,614.1 951,611.1 953,608.1 955,605 957,602 959,598.9 961,595.9 963,592.8 965,589.8 967,586.7 969,583.7 971,580.6 973,577.5 975,574.5 977,571.4 979,568.4 981,565.3 983,562.2 985,559.2 987,556.1 989,553.1 991,550 993,546.9 995,543.9 997,540.8 999,537.8 1001,534.7 1003,531.7 1005,528.6 1007,525.6 1009,522.5 1011,519.5 1013,516.5 1015,513.5 1017,510.4 1019,507.4 1021,504.4 1023,501.4 1025,498.4 1027,495.4 1029,492.4 1031,489.4 1033,486.4 1035,483.4 1037,480.4 1039,477.5 1041,474.5 1043,471.6 1045,468.6 1047,465.7 1049,462.7 1051,459.8 1053,456.9 1055,454 1057,451.1 1059,448.2 1061,445.3 1063,442.4 1065,439.5 1067,436.7 1069,433.8 1071,430.9 1073,428.1 1075,425.3 1077,422.5 1079,419.6 1081,416.8 1083,414.1 1085,411.3 1087,408.5 1089,405.7 1091,403 1093,400.3 1095,397.5 1097,394.8 1099,392.1 1101,389.4 1103,386.7 1105,384.1 1107,381.4 1109,378.8 1111,376.1 1113,373.5 1115,370.9 1117,368.3 1119,365.7 1121,363.1 1123,360.6 1125,358.1 1127,355.5 1129,353 1131,350.5 1133,348 1135,345.6 1137,343.1 1139,340.7 1141,338.2 1143,335.8 1145,333.4 1147,331 1149,328.7 1151,326.3 1153,324 1155,321.7 1157,319.4 1159,317.1 1161,314.8 1163,312.6 1165,310.4 1167,308.2 1169,306 1171,303.8 1173,301.6 1175,299.5 1177,297.4 1179,295.3 1181,293.2 1183,291.1 1185,289.1 1187,287 1189,285 1191,283 1193,281.1 1195,279.1 1197,277.2 1199,275.3 1201,273.4 1203,271.5 1205,269.7 1207,267.8 1209,266 1211,264.3 1213,262.5 1215,260.7 1217,259 1219,257.3 1221,255.7 1223,254 1225,252.4 1227,250.8 1229,249.2 1231,247.6 1233,246.1 1235,244.6 1237,243.1 1239,241.6 1241,240.2 1243,238.8 1245,237.4 1247,236 1249,234.7 1251,233.3 1253,232 1255,230.8 1257,229.5 1259,228.3 1261,227.1 1263,226 1265,224.8 1267,223.7 1269,222.6 1271,221.6 1273,220.5 1275,219.5 1277,218.5 1279,217.6 1281,216.6 1283,215.7 1285,214.9 1287,214 1289,213.2 1291,212.4 1293,211.6 1295,210.9 1297,210.2 1299,209.5 1301,208.8 1303,208.2 1305,207.6 1307,207 1309,206.4 1311,205.9 1313,205.4 1315,204.9 1317,204.5 1319,204.1 1321,203.7 1323,203.3 1325,203 1327,202.6 1329,202.4 1331,202.1 1333,201.9 1335,201.7" fill="none" stroke="#0000a8" stroke-width="1.2" stroke-linejoin="round"/>
<path d="M830.3 788.5L820.7 780.1L811.7 790.3L821.3 798.7ZM841 775.8L831.2 767.6L822.6 777.8L832.4 786ZM851.7 762.6L841.7 754.6L833.5 764.8L843.5 772.8ZM861.8 749.7L851.7 741.8L843.8 752L853.9 759.9ZM871.9 736.5L861.7 728.8L853.9 739L864.1 746.7ZM880.6 724.7L870.3 717.1L862.8 727.3L873.1 734.9ZM890.1 711.7L879.7 704.2L872.3 714.4L882.7 721.9ZM900.1 697.6L889.7 690.2L882.5 700.4L892.9 707.8ZM909.6 684L899.1 676.7L892 686.9L902.5 694.2ZM919.1 670.3L908.5 663L901.5 673.2L912.1 680.5ZM928.6 656.3L918 649.1L911 659.3L921.6 666.5ZM937.2 643.4L926.6 636.3L919.8 646.5L930.4 653.6ZM946.7 629.2L936.1 622.1L929.3 632.3L939.9 639.4ZM956.2 614.8L945.5 607.8L938.8 618L949.5 625ZM964.3 602.5L953.6 595.5L946.9 605.7L957.6 612.7ZM973.8 588L963.1 581L956.4 591.2L967.1 598.2ZM982.3 575L971.6 568L964.9 578.2L975.6 585.2ZM990.8 562L980.1 555L973.4 565.2L984.1 572.2ZM999.3 549L988.6 542L981.9 552.2L992.6 559.2ZM1008.7 534.7L998 527.6L991.3 537.8L1002 544.9ZM1018 520.5L1007.3 513.5L1000.6 523.7L1011.3 530.7ZM1027.4 506.3L1016.7 499.2L1010 509.4L1020.7 516.5ZM1036.7 492.3L1026.1 485.2L1019.3 495.4L1029.9 502.5ZM1046.1 478.3L1035.5 471.2L1028.7 481.4L1039.3 488.5ZM1055.5 464.6L1044.9 457.4L1037.9 467.6L1048.5 474.8ZM1064.8 451L1054.2 443.8L1047.2 454L1057.8 461.2ZM1074.2 437.5L1063.7 430.2L1056.6 440.4L1067.1 447.7ZM1084.4 423L1074 415.6L1066.8 425.8L1077.2 433.2ZM1094.2 409.5L1083.8 402L1076.4 412.2L1086.8 419.7ZM1103.5 396.8L1093.2 389.2L1085.7 399.4L1096 407ZM1112.8 384.3L1102.6 376.6L1095 386.8L1105.2 394.5ZM1122.3 371.9L1112.1 364.1L1104.3 374.3L1114.5 382.1ZM1133.7 357.3L1123.7 349.4L1115.7 359.6L1125.7 367.5ZM1145.2 343.1L1135.3 335.1L1127 345.3L1136.9 353.3ZM1156.7 329.5L1146.9 321.2L1138.3 331.4L1148.1 339.7ZM1167.3 317.4L1157.7 308.9L1148.7 319.1L1158.3 327.6ZM1178.8 304.7L1169.4 296.1L1160 306.3L1169.4 314.9ZM1191.2 291.8L1182 282.9L1172.2 293.1L1181.4 302ZM1204.6 278.8L1195.6 269.6L1185.4 279.5L1194.4 288.7ZM1216.8 267.6L1208.2 258.1L1198 267.4L1206.6 276.8ZM1229.9 256.6L1221.7 246.7L1211.5 255.2L1219.7 265.1ZM1242 247.3L1234.2 237.1L1224 244.9L1231.8 255.1ZM1255 238.3L1247.8 227.7L1237.6 234.7L1244.8 245.2ZM1268 230.4L1261.4 219.4L1251.2 225.5L1257.8 236.5ZM1280.9 223.7L1275.1 212.3L1264.9 217.5L1270.7 228.9ZM1295.6 217.4L1290.8 205.5L1280.6 209.7L1285.4 221.6ZM1309.4 212.9L1305.6 200.6L1295.4 203.9L1299.2 216.1ZM1323.1 209.7L1320.3 197.2L1310.1 199.4L1312.9 211.9ZM1336.1 207.9L1334.5 195.2L1324.3 196.5L1325.9 209.2Z" fill="#0000ff"/>
<text x="1498.5" y="843.6" font-size="28" fill="#0000d8">Eclipse</text>
<path d="M1612 834.2h9.6M1626 834.2h9.6M1640 834.2h9.6M1654 834.2h9.6M1668 834.2h9.6M1682 834.2h9.6M1696 834.2h9.6M1710 834.2h9.6M1724 834.2h9.6M1738 834.2h9.6M1752 834.2h9.6" stroke="#0000ff" stroke-width="12.4" fill="none"/>
<text x="1499.6" y="884.8" font-size="28" fill="#000" textLength="254" lengthAdjust="spacingAndGlyphs">One Minute Average</text>
<text x="1499.6" y="926" font-size="28" fill="#20d820" textLength="266.5" lengthAdjust="spacingAndGlyphs">One Second Average</text>
<g shape-rendering="crispEdges">
<line x1="264.5" y1="974.5" x2="1808.5" y2="974.5" stroke="#000" stroke-width="1" stroke-dasharray="1 4" stroke-dashoffset="2"/>
<line x1="264.5" y1="979.5" x2="1808.5" y2="979.5" stroke="#000" stroke-width="1" stroke-dasharray="1 4" stroke-dashoffset="2"/>
<line x1="264.5" y1="983.5" x2="1808.5" y2="983.5" stroke="#000" stroke-width="1" stroke-dasharray="1 4" stroke-dashoffset="2"/>
<line x1="264.5" y1="987.5" x2="1808.5" y2="987.5" stroke="#000" stroke-width="1" stroke-dasharray="1 4" stroke-dashoffset="2"/>
<line x1="264.5" y1="990.5" x2="1808.5" y2="990.5" stroke="#000" stroke-width="1" stroke-dasharray="1 4" stroke-dashoffset="2"/>
<line x1="264.5" y1="992.5" x2="1808.5" y2="992.5" stroke="#000" stroke-width="1" stroke-dasharray="1 4" stroke-dashoffset="2"/>
<line x1="264.5" y1="994.5" x2="1808.5" y2="994.5" stroke="#000" stroke-width="1" stroke-dasharray="1 4" stroke-dashoffset="2"/>
<line x1="264.5" y1="1010.5" x2="1808.5" y2="1010.5" stroke="#000" stroke-width="1" stroke-dasharray="1 4" stroke-dashoffset="2"/>
<line x1="264.5" y1="1019.5" x2="1808.5" y2="1019.5" stroke="#000" stroke-width="1" stroke-dasharray="1 4" stroke-dashoffset="2"/>
<line x1="264.5" y1="1025.5" x2="1808.5" y2="1025.5" stroke="#000" stroke-width="1" stroke-dasharray="1 4" stroke-dashoffset="2"/>
<line x1="264.5" y1="1030.5" x2="1808.5" y2="1030.5" stroke="#000" stroke-width="1" stroke-dasharray="1 4" stroke-dashoffset="2"/>
<line x1="264.5" y1="1034.5" x2="1808.5" y2="1034.5" stroke="#000" stroke-width="1" stroke-dasharray="1 4" stroke-dashoffset="2"/>
<line x1="264.5" y1="1038.5" x2="1808.5" y2="1038.5" stroke="#000" stroke-width="1" stroke-dasharray="1 4" stroke-dashoffset="2"/>
<line x1="264.5" y1="1041.5" x2="1808.5" y2="1041.5" stroke="#000" stroke-width="1" stroke-dasharray="1 4" stroke-dashoffset="2"/>
<line x1="264.5" y1="1043.5" x2="1808.5" y2="1043.5" stroke="#000" stroke-width="1" stroke-dasharray="1 4" stroke-dashoffset="2"/>
<line x1="264.5" y1="1046.5" x2="1808.5" y2="1046.5" stroke="#000" stroke-width="1" stroke-dasharray="1 4" stroke-dashoffset="2"/>
<line x1="264.5" y1="1061.5" x2="1808.5" y2="1061.5" stroke="#000" stroke-width="1" stroke-dasharray="1 4" stroke-dashoffset="2"/>
<line x1="264.5" y1="1070.5" x2="1808.5" y2="1070.5" stroke="#000" stroke-width="1" stroke-dasharray="1 4" stroke-dashoffset="2"/>
<line x1="264.5" y1="1076.5" x2="1808.5" y2="1076.5" stroke="#000" stroke-width="1" stroke-dasharray="1 4" stroke-dashoffset="2"/>
<line x1="264.5" y1="1081.5" x2="1808.5" y2="1081.5" stroke="#000" stroke-width="1" stroke-dasharray="1 4" stroke-dashoffset="2"/>
<line x1="264.5" y1="1085.5" x2="1808.5" y2="1085.5" stroke="#000" stroke-width="1" stroke-dasharray="1 4" stroke-dashoffset="2"/>
<line x1="264.5" y1="1089.5" x2="1808.5" y2="1089.5" stroke="#000" stroke-width="1" stroke-dasharray="1 4" stroke-dashoffset="2"/>
<line x1="264.5" y1="1092.5" x2="1808.5" y2="1092.5" stroke="#000" stroke-width="1" stroke-dasharray="1 4" stroke-dashoffset="2"/>
<line x1="264.5" y1="1094.5" x2="1808.5" y2="1094.5" stroke="#000" stroke-width="1" stroke-dasharray="1 4" stroke-dashoffset="2"/>
<line x1="264.5" y1="1096.5" x2="1808.5" y2="1096.5" stroke="#000" stroke-width="1" stroke-dasharray="1 4" stroke-dashoffset="2"/>
<line x1="264.5" y1="1112.5" x2="1808.5" y2="1112.5" stroke="#000" stroke-width="1" stroke-dasharray="1 4" stroke-dashoffset="2"/>
<line x1="441.5" y1="974.5" x2="441.5" y2="1122.5" stroke="#000" stroke-width="1" stroke-dasharray="1 4" stroke-dashoffset="0"/>
<line x1="622.5" y1="974.5" x2="622.5" y2="1122.5" stroke="#000" stroke-width="1" stroke-dasharray="1 4" stroke-dashoffset="0"/>
<line x1="908.5" y1="974.5" x2="908.5" y2="1122.5" stroke="#000" stroke-width="1" stroke-dasharray="1 4" stroke-dashoffset="0"/>
<line x1="1089.5" y1="974.5" x2="1089.5" y2="1122.5" stroke="#000" stroke-width="1" stroke-dasharray="1 4" stroke-dashoffset="0"/>
<line x1="1269.5" y1="974.5" x2="1269.5" y2="1122.5" stroke="#000" stroke-width="1" stroke-dasharray="1 4" stroke-dashoffset="0"/>
<line x1="1449.5" y1="974.5" x2="1449.5" y2="1122.5" stroke="#000" stroke-width="1" stroke-dasharray="1 4" stroke-dashoffset="0"/>
<line x1="1629.5" y1="974.5" x2="1629.5" y2="1122.5" stroke="#000" stroke-width="1" stroke-dasharray="1 4" stroke-dashoffset="0"/>
</g>
<g shape-rendering="crispEdges">
<line x1="259.5" y1="974.5" x2="267.5" y2="974.5" stroke="#000" stroke-width="1"/>
<line x1="1802.5" y1="974.5" x2="1810.5" y2="974.5" stroke="#000" stroke-width="1"/>
<line x1="259.5" y1="979.5" x2="267.5" y2="979.5" stroke="#000" stroke-width="1"/>
<line x1="1802.5" y1="979.5" x2="1810.5" y2="979.5" stroke="#000" stroke-width="1"/>
<line x1="259.5" y1="983.5" x2="267.5" y2="983.5" stroke="#000" stroke-width="1"/>
<line x1="1802.5" y1="983.5" x2="1810.5" y2="983.5" stroke="#000" stroke-width="1"/>
<line x1="259.5" y1="987.5" x2="267.5" y2="987.5" stroke="#000" stroke-width="1"/>
<line x1="1802.5" y1="987.5" x2="1810.5" y2="987.5" stroke="#000" stroke-width="1"/>
<line x1="259.5" y1="990.5" x2="267.5" y2="990.5" stroke="#000" stroke-width="1"/>
<line x1="1802.5" y1="990.5" x2="1810.5" y2="990.5" stroke="#000" stroke-width="1"/>
<line x1="259.5" y1="992.5" x2="267.5" y2="992.5" stroke="#000" stroke-width="1"/>
<line x1="1802.5" y1="992.5" x2="1810.5" y2="992.5" stroke="#000" stroke-width="1"/>
<line x1="259.5" y1="994.5" x2="275.5" y2="994.5" stroke="#000" stroke-width="1"/>
<line x1="1794.5" y1="994.5" x2="1810.5" y2="994.5" stroke="#000" stroke-width="1"/>
<line x1="259.5" y1="1010.5" x2="267.5" y2="1010.5" stroke="#000" stroke-width="1"/>
<line x1="1802.5" y1="1010.5" x2="1810.5" y2="1010.5" stroke="#000" stroke-width="1"/>
<line x1="259.5" y1="1019.5" x2="267.5" y2="1019.5" stroke="#000" stroke-width="1"/>
<line x1="1802.5" y1="1019.5" x2="1810.5" y2="1019.5" stroke="#000" stroke-width="1"/>
<line x1="259.5" y1="1025.5" x2="267.5" y2="1025.5" stroke="#000" stroke-width="1"/>
<line x1="1802.5" y1="1025.5" x2="1810.5" y2="1025.5" stroke="#000" stroke-width="1"/>
<line x1="259.5" y1="1030.5" x2="267.5" y2="1030.5" stroke="#000" stroke-width="1"/>
<line x1="1802.5" y1="1030.5" x2="1810.5" y2="1030.5" stroke="#000" stroke-width="1"/>
<line x1="259.5" y1="1034.5" x2="267.5" y2="1034.5" stroke="#000" stroke-width="1"/>
<line x1="1802.5" y1="1034.5" x2="1810.5" y2="1034.5" stroke="#000" stroke-width="1"/>
<line x1="259.5" y1="1038.5" x2="267.5" y2="1038.5" stroke="#000" stroke-width="1"/>
<line x1="1802.5" y1="1038.5" x2="1810.5" y2="1038.5" stroke="#000" stroke-width="1"/>
<line x1="259.5" y1="1041.5" x2="267.5" y2="1041.5" stroke="#000" stroke-width="1"/>
<line x1="1802.5" y1="1041.5" x2="1810.5" y2="1041.5" stroke="#000" stroke-width="1"/>
<line x1="259.5" y1="1043.5" x2="267.5" y2="1043.5" stroke="#000" stroke-width="1"/>
<line x1="1802.5" y1="1043.5" x2="1810.5" y2="1043.5" stroke="#000" stroke-width="1"/>
<line x1="259.5" y1="1046.5" x2="275.5" y2="1046.5" stroke="#000" stroke-width="1"/>
<line x1="1794.5" y1="1046.5" x2="1810.5" y2="1046.5" stroke="#000" stroke-width="1"/>
<line x1="259.5" y1="1061.5" x2="267.5" y2="1061.5" stroke="#000" stroke-width="1"/>
<line x1="1802.5" y1="1061.5" x2="1810.5" y2="1061.5" stroke="#000" stroke-width="1"/>
<line x1="259.5" y1="1070.5" x2="267.5" y2="1070.5" stroke="#000" stroke-width="1"/>
<line x1="1802.5" y1="1070.5" x2="1810.5" y2="1070.5" stroke="#000" stroke-width="1"/>
<line x1="259.5" y1="1076.5" x2="267.5" y2="1076.5" stroke="#000" stroke-width="1"/>
<line x1="1802.5" y1="1076.5" x2="1810.5" y2="1076.5" stroke="#000" stroke-width="1"/>
<line x1="259.5" y1="1081.5" x2="267.5" y2="1081.5" stroke="#000" stroke-width="1"/>
<line x1="1802.5" y1="1081.5" x2="1810.5" y2="1081.5" stroke="#000" stroke-width="1"/>
<line x1="259.5" y1="1085.5" x2="267.5" y2="1085.5" stroke="#000" stroke-width="1"/>
<line x1="1802.5" y1="1085.5" x2="1810.5" y2="1085.5" stroke="#000" stroke-width="1"/>
<line x1="259.5" y1="1089.5" x2="267.5" y2="1089.5" stroke="#000" stroke-width="1"/>
<line x1="1802.5" y1="1089.5" x2="1810.5" y2="1089.5" stroke="#000" stroke-width="1"/>
<line x1="259.5" y1="1092.5" x2="267.5" y2="1092.5" stroke="#000" stroke-width="1"/>
<line x1="1802.5" y1="1092.5" x2="1810.5" y2="1092.5" stroke="#000" stroke-width="1"/>
<line x1="259.5" y1="1094.5" x2="267.5" y2="1094.5" stroke="#000" stroke-width="1"/>
<line x1="1802.5" y1="1094.5" x2="1810.5" y2="1094.5" stroke="#000" stroke-width="1"/>
<line x1="259.5" y1="1096.5" x2="275.5" y2="1096.5" stroke="#000" stroke-width="1"/>
<line x1="1794.5" y1="1096.5" x2="1810.5" y2="1096.5" stroke="#000" stroke-width="1"/>
<line x1="259.5" y1="1112.5" x2="267.5" y2="1112.5" stroke="#000" stroke-width="1"/>
<line x1="1802.5" y1="1112.5" x2="1810.5" y2="1112.5" stroke="#000" stroke-width="1"/>
<line x1="441.5" y1="969.5" x2="441.5" y2="985.5" stroke="#000" stroke-width="1"/>
<line x1="441.5" y1="1106.5" x2="441.5" y2="1122.5" stroke="#000" stroke-width="1"/>
<line x1="622.5" y1="969.5" x2="622.5" y2="985.5" stroke="#000" stroke-width="1"/>
<line x1="622.5" y1="1106.5" x2="622.5" y2="1122.5" stroke="#000" stroke-width="1"/>
<line x1="908.5" y1="969.5" x2="908.5" y2="985.5" stroke="#000" stroke-width="1"/>
<line x1="908.5" y1="1106.5" x2="908.5" y2="1122.5" stroke="#000" stroke-width="1"/>
<line x1="1089.5" y1="969.5" x2="1089.5" y2="985.5" stroke="#000" stroke-width="1"/>
<line x1="1089.5" y1="1106.5" x2="1089.5" y2="1122.5" stroke="#000" stroke-width="1"/>
<line x1="1269.5" y1="969.5" x2="1269.5" y2="985.5" stroke="#000" stroke-width="1"/>
<line x1="1269.5" y1="1106.5" x2="1269.5" y2="1122.5" stroke="#000" stroke-width="1"/>
<line x1="1449.5" y1="969.5" x2="1449.5" y2="985.5" stroke="#000" stroke-width="1"/>
<line x1="1449.5" y1="1106.5" x2="1449.5" y2="1122.5" stroke="#000" stroke-width="1"/>
<line x1="1629.5" y1="969.5" x2="1629.5" y2="985.5" stroke="#000" stroke-width="1"/>
<line x1="1629.5" y1="1106.5" x2="1629.5" y2="1122.5" stroke="#000" stroke-width="1"/>
</g>
<defs><linearGradient id="sbg" x1="0" y1="0" x2="0" y2="1"><stop offset="0" stop-color="#000090"/><stop offset="0.06" stop-color="#0000a8"/><stop offset="0.4" stop-color="#0004b4"/><stop offset="0.75" stop-color="#0008c0"/><stop offset="1" stop-color="#000ccc"/></linearGradient><linearGradient id="stk" x1="0" y1="1" x2="0" y2="0"><stop offset="0" stop-color="#1070ff" stop-opacity="0.9"/><stop offset="0.5" stop-color="#1050ff" stop-opacity="0.5"/><stop offset="1" stop-color="#0030ff" stop-opacity="0"/></linearGradient><linearGradient id="stk2" x1="0" y1="1" x2="0" y2="0"><stop offset="0" stop-color="#60ffa0" stop-opacity="1"/><stop offset="0.35" stop-color="#20c0ff" stop-opacity="0.85"/><stop offset="1" stop-color="#0040ff" stop-opacity="0"/></linearGradient></defs>
<rect x="815" y="970" width="662" height="151" fill="url(#sbg)"/>
<g shape-rendering="crispEdges">
<path fill="#0808d8" d="M816.6 1091h1.6v3h-1.6zM818.2 1097h1.6v9h-1.6zM818.2 1042h1.6v2h-1.6zM818.2 1040h1.6v2h-1.6zM818.2 1038h1.6v2h-1.6zM818.2 1032h1.6v2h-1.6zM818.2 1028h1.6v2h-1.6zM818.2 1026h1.6v2h-1.6zM818.2 1020h1.6v2h-1.6zM821.4 1097h1.6v9h-1.6zM821.4 1106h1.6v15h-1.6zM821.4 1091h1.6v3h-1.6zM824.6 1073h1.6v3h-1.6zM824.6 1070h1.6v3h-1.6zM824.6 1050h1.6v2h-1.6zM826.2 1106h1.6v15h-1.6zM826.2 1054h1.6v2h-1.6zM826.2 1046h1.6v2h-1.6zM826.2 1044h1.6v2h-1.6zM826.2 1038h1.6v2h-1.6zM831 1097h1.6v9h-1.6zM831 1106h1.6v15h-1.6zM832.6 1070h1.6v3h-1.6zM832.6 1067h1.6v3h-1.6zM834.2 1079h1.6v3h-1.6zM837.4 1097h1.6v9h-1.6zM837.4 1106h1.6v15h-1.6zM843.8 1079h1.6v3h-1.6zM847 1097h1.6v9h-1.6zM847 1106h1.6v15h-1.6zM850.2 1097h1.6v9h-1.6zM853.4 1097h1.6v9h-1.6zM855 1097h1.6v9h-1.6zM855 1073h1.6v3h-1.6zM856.6 1097h1.6v9h-1.6zM861.4 1082h1.6v3h-1.6zM864.6 1052h1.6v2h-1.6zM864.6 1048h1.6v2h-1.6zM867.8 1076h1.6v3h-1.6zM872.6 1097h1.6v9h-1.6zM872.6 1106h1.6v15h-1.6zM885.4 1097h1.6v9h-1.6zM891.8 1097h1.6v9h-1.6zM895 1097h1.6v9h-1.6zM899.8 1097h1.6v9h-1.6zM899.8 1106h1.6v15h-1.6zM899.8 1073h1.6v3h-1.6zM899.8 1061h1.6v3h-1.6zM901.4 1097h1.6v9h-1.6zM901.4 1106h1.6v15h-1.6zM903 1076h1.6v3h-1.6zM903 1070h1.6v3h-1.6zM904.6 1097h1.6v9h-1.6zM907.8 1091h1.6v3h-1.6zM915.8 1097h1.6v9h-1.6zM915.8 1106h1.6v15h-1.6zM922.2 1097h1.6v9h-1.6zM922.2 1106h1.6v15h-1.6zM928.6 1094h1.6v3h-1.6zM928.6 1082h1.6v3h-1.6zM928.6 1070h1.6v3h-1.6zM930.2 1097h1.6v9h-1.6zM930.2 1106h1.6v15h-1.6zM933.4 1097h1.6v9h-1.6zM933.4 1106h1.6v15h-1.6zM941.4 1097h1.6v9h-1.6zM941.4 1106h1.6v15h-1.6zM949.4 1097h1.6v9h-1.6zM949.4 1106h1.6v15h-1.6zM957.4 1076h1.6v3h-1.6zM959 1106h1.6v15h-1.6zM962.2 1082h1.6v3h-1.6zM962.2 1061h1.6v3h-1.6zM963.8 1079h1.6v3h-1.6zM963.8 1076h1.6v3h-1.6zM967 1097h1.6v9h-1.6zM967 1106h1.6v15h-1.6zM968.6 1106h1.6v15h-1.6zM968.6 1085h1.6v3h-1.6zM971.8 1085h1.6v3h-1.6zM976.6 1106h1.6v15h-1.6zM976.6 1052h1.6v2h-1.6zM978.2 1048h1.6v2h-1.6zM978.2 1042h1.6v2h-1.6zM978.2 1036h1.6v2h-1.6zM983 1088h1.6v3h-1.6zM989.4 1097h1.6v9h-1.6zM989.4 1106h1.6v15h-1.6zM1000.6 1088h1.6v3h-1.6zM1000.6 1082h1.6v3h-1.6zM1000.6 1070h1.6v3h-1.6zM1000.6 1064h1.6v3h-1.6zM1000.6 1056h1.6v2h-1.6zM1002.2 1067h1.6v3h-1.6zM1002.2 1061h1.6v3h-1.6zM1002.2 1058h1.6v3h-1.6zM1005.4 1097h1.6v9h-1.6zM1010.2 1052h1.6v2h-1.6zM1010.2 1048h1.6v2h-1.6zM1010.2 1042h1.6v2h-1.6zM1011.8 1061h1.6v3h-1.6zM1011.8 1040h1.6v2h-1.6zM1013.4 1085h1.6v3h-1.6zM1016.6 1054h1.6v2h-1.6zM1018.2 1097h1.6v9h-1.6zM1018.2 1106h1.6v15h-1.6zM1019.8 1088h1.6v3h-1.6zM1019.8 1085h1.6v3h-1.6zM1023 1106h1.6v15h-1.6zM1026.2 1073h1.6v3h-1.6zM1029.4 1002h1.6v2h-1.6zM1029.4 996h1.6v2h-1.6zM1029.4 992h1.6v2h-1.6zM1029.4 982h1.6v2h-1.6zM1029.4 978h1.6v2h-1.6zM1031 1048h1.6v2h-1.6zM1031 1044h1.6v2h-1.6zM1032.6 1082h1.6v3h-1.6zM1032.6 1079h1.6v3h-1.6zM1034.2 1097h1.6v9h-1.6zM1034.2 1106h1.6v15h-1.6zM1040.6 1097h1.6v9h-1.6zM1040.6 1058h1.6v3h-1.6zM1040.6 1056h1.6v2h-1.6zM1040.6 1054h1.6v2h-1.6zM1043.8 1048h1.6v2h-1.6zM1045.4 1036h1.6v2h-1.6zM1045.4 1034h1.6v2h-1.6zM1045.4 1032h1.6v2h-1.6zM1045.4 1020h1.6v2h-1.6zM1045.4 1008h1.6v2h-1.6zM1045.4 1002h1.6v2h-1.6zM1045.4 1000h1.6v2h-1.6zM1045.4 992h1.6v2h-1.6zM1048.6 1034h1.6v2h-1.6zM1048.6 1030h1.6v2h-1.6zM1048.6 1018h1.6v2h-1.6zM1050.2 1046h1.6v2h-1.6zM1050.2 1042h1.6v2h-1.6zM1050.2 1040h1.6v2h-1.6zM1051.8 1082h1.6v3h-1.6zM1053.4 1030h1.6v2h-1.6zM1055 1022h1.6v2h-1.6zM1055 1018h1.6v2h-1.6zM1055 1006h1.6v2h-1.6zM1056.6 1018h1.6v2h-1.6zM1067.8 1097h1.6v9h-1.6zM1075.8 1034h1.6v2h-1.6zM1075.8 1030h1.6v2h-1.6zM1075.8 1028h1.6v2h-1.6zM1075.8 1026h1.6v2h-1.6zM1075.8 1022h1.6v2h-1.6zM1075.8 1018h1.6v2h-1.6zM1087 1091h1.6v3h-1.6zM1090.2 1073h1.6v3h-1.6zM1106.2 1091h1.6v3h-1.6zM1109.4 1097h1.6v9h-1.6zM1109.4 1088h1.6v3h-1.6zM1111 1097h1.6v9h-1.6zM1111 1106h1.6v15h-1.6zM1115.8 1097h1.6v9h-1.6zM1115.8 1106h1.6v15h-1.6zM1117.4 1097h1.6v9h-1.6zM1117.4 1106h1.6v15h-1.6zM1122.2 1094h1.6v3h-1.6zM1127 1097h1.6v9h-1.6zM1127 1088h1.6v3h-1.6zM1133.4 1097h1.6v9h-1.6zM1133.4 1106h1.6v15h-1.6zM1133.4 1091h1.6v3h-1.6zM1133.4 1088h1.6v3h-1.6zM1138.2 1097h1.6v9h-1.6zM1138.2 1106h1.6v15h-1.6zM1141.4 1097h1.6v9h-1.6zM1146.2 1097h1.6v9h-1.6zM1146.2 1106h1.6v15h-1.6zM1155.8 1106h1.6v15h-1.6zM1170.2 1097h1.6v9h-1.6zM1170.2 1106h1.6v15h-1.6zM1171.8 1097h1.6v9h-1.6zM1171.8 1106h1.6v15h-1.6zM1173.4 1094h1.6v3h-1.6zM1179.8 1106h1.6v15h-1.6zM1181.4 1097h1.6v9h-1.6zM1181.4 1106h1.6v15h-1.6zM1184.6 1106h1.6v15h-1.6zM1189.4 1091h1.6v3h-1.6zM1191 1097h1.6v9h-1.6zM1191 1106h1.6v15h-1.6zM1191 1091h1.6v3h-1.6zM1192.6 1097h1.6v9h-1.6zM1192.6 1106h1.6v15h-1.6zM1194.2 1097h1.6v9h-1.6zM1194.2 1106h1.6v15h-1.6zM1197.4 1097h1.6v9h-1.6zM1197.4 1106h1.6v15h-1.6zM1200.6 1097h1.6v9h-1.6zM1200.6 1106h1.6v15h-1.6zM1210.2 1088h1.6v3h-1.6zM1211.8 1085h1.6v3h-1.6zM1213.4 1097h1.6v9h-1.6zM1213.4 1106h1.6v15h-1.6zM1215 1097h1.6v9h-1.6zM1215 1106h1.6v15h-1.6zM1216.6 1088h1.6v3h-1.6zM1221.4 1088h1.6v3h-1.6zM1221.4 1082h1.6v3h-1.6zM1221.4 1076h1.6v3h-1.6zM1224.6 1106h1.6v15h-1.6zM1234.2 1097h1.6v9h-1.6zM1234.2 1106h1.6v15h-1.6zM1235.8 1106h1.6v15h-1.6zM1237.4 1106h1.6v15h-1.6zM1237.4 1082h1.6v3h-1.6zM1239 1097h1.6v9h-1.6zM1239 1106h1.6v15h-1.6zM1240.6 1097h1.6v9h-1.6zM1240.6 1106h1.6v15h-1.6zM1245.4 1088h1.6v3h-1.6zM1250.2 1070h1.6v3h-1.6zM1251.8 1097h1.6v9h-1.6zM1251.8 1106h1.6v15h-1.6zM1251.8 1073h1.6v3h-1.6zM1255 1097h1.6v9h-1.6zM1255 1106h1.6v15h-1.6zM1256.6 1097h1.6v9h-1.6zM1263 1097h1.6v9h-1.6zM1263 1106h1.6v15h-1.6zM1266.2 1097h1.6v9h-1.6zM1266.2 1106h1.6v15h-1.6zM1274.2 1082h1.6v3h-1.6zM1274.2 1073h1.6v3h-1.6zM1279 1097h1.6v9h-1.6zM1279 1106h1.6v15h-1.6zM1288.6 1088h1.6v3h-1.6zM1288.6 1085h1.6v3h-1.6zM1290.2 1088h1.6v3h-1.6zM1290.2 1085h1.6v3h-1.6zM1290.2 1082h1.6v3h-1.6zM1290.2 1079h1.6v3h-1.6zM1299.8 1097h1.6v9h-1.6zM1306.2 1097h1.6v9h-1.6zM1306.2 1106h1.6v15h-1.6zM1307.8 1091h1.6v3h-1.6zM1312.6 1097h1.6v9h-1.6zM1312.6 1106h1.6v15h-1.6zM1314.2 1085h1.6v3h-1.6zM1314.2 1079h1.6v3h-1.6zM1315.8 1106h1.6v15h-1.6zM1319 1079h1.6v3h-1.6zM1323.8 1097h1.6v9h-1.6zM1323.8 1106h1.6v15h-1.6zM1323.8 1064h1.6v3h-1.6zM1325.4 1097h1.6v9h-1.6zM1327 1073h1.6v3h-1.6zM1327 1070h1.6v3h-1.6zM1335 1070h1.6v3h-1.6zM1335 1056h1.6v2h-1.6zM1335 1052h1.6v2h-1.6zM1335 1048h1.6v2h-1.6zM1338.2 1106h1.6v15h-1.6zM1338.2 1064h1.6v3h-1.6zM1338.2 1058h1.6v3h-1.6zM1338.2 1050h1.6v2h-1.6zM1338.2 1040h1.6v2h-1.6zM1338.2 1038h1.6v2h-1.6zM1338.2 1034h1.6v2h-1.6zM1338.2 1030h1.6v2h-1.6zM1338.2 1028h1.6v2h-1.6zM1338.2 1022h1.6v2h-1.6zM1339.8 1064h1.6v3h-1.6zM1341.4 1054h1.6v2h-1.6zM1344.6 1085h1.6v3h-1.6zM1346.2 1064h1.6v3h-1.6zM1346.2 1061h1.6v3h-1.6zM1349.4 1097h1.6v9h-1.6zM1349.4 1070h1.6v3h-1.6zM1349.4 1050h1.6v2h-1.6zM1357.4 1097h1.6v9h-1.6zM1357.4 1106h1.6v15h-1.6zM1357.4 1058h1.6v3h-1.6zM1357.4 1050h1.6v2h-1.6zM1357.4 1042h1.6v2h-1.6zM1360.6 984h1.6v2h-1.6zM1360.6 974h1.6v2h-1.6zM1362.2 1014h1.6v2h-1.6zM1362.2 1012h1.6v2h-1.6zM1362.2 1010h1.6v2h-1.6zM1362.2 1008h1.6v2h-1.6zM1362.2 1006h1.6v2h-1.6zM1362.2 1004h1.6v2h-1.6zM1362.2 998h1.6v2h-1.6zM1362.2 996h1.6v2h-1.6zM1362.2 994h1.6v2h-1.6zM1362.2 990h1.6v2h-1.6zM1365.4 1020h1.6v2h-1.6zM1365.4 1008h1.6v2h-1.6zM1365.4 1002h1.6v2h-1.6zM1371.8 1061h1.6v3h-1.6zM1375 1056h1.6v2h-1.6zM1375 1054h1.6v2h-1.6zM1375 1046h1.6v2h-1.6zM1375 1028h1.6v2h-1.6zM1375 1014h1.6v2h-1.6zM1375 992h1.6v2h-1.6zM1375 984h1.6v2h-1.6zM1375 972h1.6v2h-1.6zM1381.4 1079h1.6v3h-1.6zM1381.4 1076h1.6v3h-1.6zM1383 1061h1.6v3h-1.6zM1383 1056h1.6v2h-1.6zM1383 1054h1.6v2h-1.6zM1384.6 1070h1.6v3h-1.6zM1384.6 1056h1.6v2h-1.6zM1387.8 1082h1.6v3h-1.6zM1389.4 1070h1.6v3h-1.6zM1392.6 1097h1.6v9h-1.6zM1397.4 1070h1.6v3h-1.6zM1403.8 1067h1.6v3h-1.6zM1403.8 1061h1.6v3h-1.6zM1403.8 1048h1.6v2h-1.6zM1403.8 1040h1.6v2h-1.6zM1405.4 1042h1.6v2h-1.6zM1407 1046h1.6v2h-1.6zM1410.2 1091h1.6v3h-1.6zM1410.2 1085h1.6v3h-1.6zM1411.8 1034h1.6v2h-1.6zM1411.8 1032h1.6v2h-1.6zM1411.8 1030h1.6v2h-1.6zM1411.8 1026h1.6v2h-1.6zM1411.8 1024h1.6v2h-1.6zM1411.8 1018h1.6v2h-1.6zM1415 1106h1.6v15h-1.6zM1415 1046h1.6v2h-1.6zM1415 1044h1.6v2h-1.6zM1418.2 986h1.6v2h-1.6zM1419.8 1097h1.6v9h-1.6zM1419.8 1014h1.6v2h-1.6zM1419.8 1010h1.6v2h-1.6zM1419.8 1006h1.6v2h-1.6zM1421.4 1097h1.6v9h-1.6zM1421.4 1085h1.6v3h-1.6zM1423 1058h1.6v3h-1.6zM1423 1056h1.6v2h-1.6zM1423 1050h1.6v2h-1.6zM1424.6 1097h1.6v9h-1.6zM1424.6 1106h1.6v15h-1.6zM1424.6 1054h1.6v2h-1.6zM1426.2 1085h1.6v3h-1.6zM1426.2 1082h1.6v3h-1.6zM1431 1097h1.6v9h-1.6zM1432.6 1097h1.6v9h-1.6zM1432.6 1082h1.6v3h-1.6zM1437.4 1070h1.6v3h-1.6zM1439 1061h1.6v3h-1.6zM1439 1056h1.6v2h-1.6zM1439 1054h1.6v2h-1.6zM1439 1050h1.6v2h-1.6zM1443.8 1024h1.6v2h-1.6zM1443.8 1018h1.6v2h-1.6zM1443.8 1016h1.6v2h-1.6zM1443.8 1012h1.6v2h-1.6zM1443.8 1006h1.6v2h-1.6zM1445.4 1097h1.6v9h-1.6zM1447 1085h1.6v3h-1.6zM1453.4 1073h1.6v3h-1.6zM1461.4 1097h1.6v9h-1.6zM1461.4 1106h1.6v15h-1.6zM1464.6 1091h1.6v3h-1.6zM1469.4 1097h1.6v9h-1.6zM1469.4 1106h1.6v15h-1.6zM1472.6 1070h1.6v3h-1.6zM1472.6 1067h1.6v3h-1.6zM1421.3 1057.9h1.5v1.5h-1.5zM940.3 1069.1h1.5v1.5h-1.5zM1211 1056.9h1.5v1.5h-1.5zM911.2 1049h1.5v1.5h-1.5zM957.5 1087h1.5v1.5h-1.5zM1293.7 1023.4h1.5v1.5h-1.5zM1405.9 1084.4h1.5v1.5h-1.5zM1325.6 972.6h1.5v1.5h-1.5zM873.9 994.8h1.5v1.5h-1.5zM834.3 990.9h1.5v1.5h-1.5zM1136 1007h1.5v1.5h-1.5zM826.3 981.5h1.5v1.5h-1.5zM1403.7 1010.9h1.5v1.5h-1.5zM1206.4 1091.3h1.5v1.5h-1.5zM1068.1 1087h1.5v1.5h-1.5zM1334.2 1020.8h1.5v1.5h-1.5zM1174.4 998.3h1.5v1.5h-1.5zM1156.5 1082.2h1.5v1.5h-1.5zM844.6 1070.3h1.5v1.5h-1.5zM889.3 1040.6h1.5v1.5h-1.5zM1230.2 1012.4h1.5v1.5h-1.5zM947.7 1029h1.5v1.5h-1.5zM1405.6 1086.8h1.5v1.5h-1.5zM1035.9 1066.1h1.5v1.5h-1.5zM942.8 991.2h1.5v1.5h-1.5zM1163.2 973.1h1.5v1.5h-1.5zM962.6 1029h1.5v1.5h-1.5zM1322.7 978.8h1.5v1.5h-1.5zM1289.5 1002.7h1.5v1.5h-1.5zM1095 1070.5h1.5v1.5h-1.5zM833.6 1057.7h1.5v1.5h-1.5zM958.8 1000.7h1.5v1.5h-1.5zM1366.5 1080.4h1.5v1.5h-1.5zM918.5 1024.5h1.5v1.5h-1.5zM829.4 1054.1h1.5v1.5h-1.5zM898.1 1088.1h1.5v1.5h-1.5zM1424.6 975.6h1.5v1.5h-1.5zM1172.7 1077.3h1.5v1.5h-1.5zM1358.8 1016.4h1.5v1.5h-1.5zM1353.1 1069.4h1.5v1.5h-1.5zM925.3 1071.6h1.5v1.5h-1.5zM1174.3 1059.5h1.5v1.5h-1.5zM1064.2 1083.9h1.5v1.5h-1.5zM872.2 996.6h1.5v1.5h-1.5zM1108.6 1056.7h1.5v1.5h-1.5zM1182.6 1075.3h1.5v1.5h-1.5zM869.5 996.7h1.5v1.5h-1.5zM1231.1 1043.3h1.5v1.5h-1.5zM1120.6 1047.2h1.5v1.5h-1.5zM1265.6 1016.4h1.5v1.5h-1.5zM942.4 1064.1h1.5v1.5h-1.5zM1200.6 973h1.5v1.5h-1.5zM1172.5 1018.5h1.5v1.5h-1.5zM1105.7 978.7h1.5v1.5h-1.5zM956.3 1012.9h1.5v1.5h-1.5zM1349.2 1071.9h1.5v1.5h-1.5zM1142.8 985.3h1.5v1.5h-1.5zM836.3 1025.2h1.5v1.5h-1.5zM949.4 977h1.5v1.5h-1.5zM1408.6 977.7h1.5v1.5h-1.5zM1213.7 1026.8h1.5v1.5h-1.5zM906.8 1014.5h1.5v1.5h-1.5zM1428.7 1064.7h1.5v1.5h-1.5zM1365.6 980.7h1.5v1.5h-1.5zM1292 1077.7h1.5v1.5h-1.5zM1426.1 1041.4h1.5v1.5h-1.5zM1145 1027.6h1.5v1.5h-1.5zM861.9 1010.4h1.5v1.5h-1.5zM1003.1 973.5h1.5v1.5h-1.5zM873.3 1060.6h1.5v1.5h-1.5zM856.9 1050h1.5v1.5h-1.5zM1165.2 1076.2h1.5v1.5h-1.5zM1451.7 1065.9h1.5v1.5h-1.5zM1152.5 988.5h1.5v1.5h-1.5zM1054.5 1093.8h1.5v1.5h-1.5zM921.4 1059.5h1.5v1.5h-1.5zM1009.2 1044.7h1.5v1.5h-1.5zM1101.6 1027.7h1.5v1.5h-1.5zM943.8 1094.4h1.5v1.5h-1.5zM1172.3 1088.1h1.5v1.5h-1.5zM1076.2 1018.4h1.5v1.5h-1.5zM861 1019.4h1.5v1.5h-1.5zM1469.2 1073.2h1.5v1.5h-1.5zM1181.3 1091.8h1.5v1.5h-1.5zM829.4 1067.3h1.5v1.5h-1.5zM915.6 984.5h1.5v1.5h-1.5zM1078.5 1063.6h1.5v1.5h-1.5zM1324.6 1073.7h1.5v1.5h-1.5zM1096.9 1035h1.5v1.5h-1.5zM1057 982.7h1.5v1.5h-1.5zM1337.4 999.8h1.5v1.5h-1.5zM1206.7 1023.6h1.5v1.5h-1.5zM1244.8 1008.3h1.5v1.5h-1.5zM1257 1093.1h1.5v1.5h-1.5zM904.6 1075.7h1.5v1.5h-1.5zM1470.5 1086.8h1.5v1.5h-1.5zM1231.9 1084.9h1.5v1.5h-1.5zM1252.6 978.7h1.5v1.5h-1.5zM1211.2 1063.4h1.5v1.5h-1.5zM938.8 1030.4h1.5v1.5h-1.5zM1005 996.9h1.5v1.5h-1.5zM1117.9 1093.7h1.5v1.5h-1.5zM938.3 1071.7h1.5v1.5h-1.5zM990 983.6h1.5v1.5h-1.5zM1199.2 1039.2h1.5v1.5h-1.5zM1442.3 973.1h1.5v1.5h-1.5zM863.6 1047.1h1.5v1.5h-1.5zM1005.2 1079.9h1.5v1.5h-1.5zM1107 987.7h1.5v1.5h-1.5zM1079.5 974.3h1.5v1.5h-1.5zM1314.9 1024.3h1.5v1.5h-1.5zM1213.2 998.3h1.5v1.5h-1.5zM1136.4 1073.6h1.5v1.5h-1.5zM1137 1069h1.5v1.5h-1.5zM958.5 1086.8h1.5v1.5h-1.5zM1169 1026.2h1.5v1.5h-1.5zM1241.4 1053.6h1.5v1.5h-1.5zM1403.3 1025.7h1.5v1.5h-1.5zM1314 995.2h1.5v1.5h-1.5zM1154.6 1015h1.5v1.5h-1.5zM1440.9 1061.6h1.5v1.5h-1.5zM981.5 984.1h1.5v1.5h-1.5zM1000.8 1051.6h1.5v1.5h-1.5zM1098.2 1041.6h1.5v1.5h-1.5zM1307.4 1024.7h1.5v1.5h-1.5zM1202.3 1025.5h1.5v1.5h-1.5zM1369.9 995.1h1.5v1.5h-1.5zM1111.8 1041.9h1.5v1.5h-1.5zM1178.2 1075.5h1.5v1.5h-1.5zM1245.8 1064.2h1.5v1.5h-1.5zM963.1 1048.9h1.5v1.5h-1.5zM1140.5 1085.6h1.5v1.5h-1.5zM1343.9 1089h1.5v1.5h-1.5zM910.9 1081.5h1.5v1.5h-1.5zM1474.1 1037.4h1.5v1.5h-1.5zM866 1013.2h1.5v1.5h-1.5zM1358.1 1079.8h1.5v1.5h-1.5zM1156.1 984.4h1.5v1.5h-1.5zM1270.4 1018.3h1.5v1.5h-1.5zM908.8 1047.3h1.5v1.5h-1.5zM885.2 1040.7h1.5v1.5h-1.5zM1249.6 1064.7h1.5v1.5h-1.5zM994.8 1094.8h1.5v1.5h-1.5zM1298.3 1003.1h1.5v1.5h-1.5zM993 1092.6h1.5v1.5h-1.5zM947 1007.7h1.5v1.5h-1.5zM1189.4 1087.2h1.5v1.5h-1.5zM1190.3 1007.2h1.5v1.5h-1.5zM1054.2 1072.3h1.5v1.5h-1.5zM1078 1037.3h1.5v1.5h-1.5zM1289.8 1088.2h1.5v1.5h-1.5zM1119.2 1031.9h1.5v1.5h-1.5zM1274.5 1036.7h1.5v1.5h-1.5zM1089.8 1074.4h1.5v1.5h-1.5zM960.5 1069.8h1.5v1.5h-1.5zM945.9 1049.7h1.5v1.5h-1.5zM816.8 1027.1h1.5v1.5h-1.5zM1116.1 1081.8h1.5v1.5h-1.5zM1471.2 1055.6h1.5v1.5h-1.5zM1022.3 1036.2h1.5v1.5h-1.5zM1302.1 1039.2h1.5v1.5h-1.5zM1181.9 1002.5h1.5v1.5h-1.5zM1423.1 1089h1.5v1.5h-1.5zM1087.7 1056h1.5v1.5h-1.5zM987.9 1035.2h1.5v1.5h-1.5zM1114.2 1045.6h1.5v1.5h-1.5zM1215 1030.6h1.5v1.5h-1.5zM1193.7 998.4h1.5v1.5h-1.5zM1179.5 1058.3h1.5v1.5h-1.5zM937.1 1018.5h1.5v1.5h-1.5zM1043 1081h1.5v1.5h-1.5zM1178.7 1002.7h1.5v1.5h-1.5zM1009.6 1018h1.5v1.5h-1.5zM949.9 1051.1h1.5v1.5h-1.5zM1461.9 1037.8h1.5v1.5h-1.5zM980.4 1039.5h1.5v1.5h-1.5zM1193.1 1024.5h1.5v1.5h-1.5zM1294 1081.3h1.5v1.5h-1.5zM1134.3 1094.1h1.5v1.5h-1.5zM1465.5 990.5h1.5v1.5h-1.5zM926.6 1026.6h1.5v1.5h-1.5zM1442.7 1039.8h1.5v1.5h-1.5zM996.2 1038h1.5v1.5h-1.5zM1017.5 1052.2h1.5v1.5h-1.5zM1263.8 1083.8h1.5v1.5h-1.5zM1025.4 1087.8h1.5v1.5h-1.5zM1211.8 1030.4h1.5v1.5h-1.5zM1130.4 1071.1h1.5v1.5h-1.5zM1416.3 1058h1.5v1.5h-1.5zM1110.7 1063.2h1.5v1.5h-1.5zM1306.5 1039.5h1.5v1.5h-1.5zM1201.4 1088.4h1.5v1.5h-1.5zM1177.2 974.9h1.5v1.5h-1.5zM1135.2 1021h1.5v1.5h-1.5zM827 1035.1h1.5v1.5h-1.5zM1451.4 988.6h1.5v1.5h-1.5zM996.1 1002.3h1.5v1.5h-1.5zM1127.1 980.9h1.5v1.5h-1.5zM1308.4 978.9h1.5v1.5h-1.5zM860 1018.5h1.5v1.5h-1.5zM1279.8 1009.2h1.5v1.5h-1.5zM1136.7 1052.3h1.5v1.5h-1.5zM929.5 1028.6h1.5v1.5h-1.5zM1283.5 1072.5h1.5v1.5h-1.5zM1068.7 979.2h1.5v1.5h-1.5zM1222.4 1017h1.5v1.5h-1.5zM932.7 1020.1h1.5v1.5h-1.5zM885.4 1002.3h1.5v1.5h-1.5zM900.9 1061.5h1.5v1.5h-1.5zM1254.7 984.1h1.5v1.5h-1.5zM1124.5 982.6h1.5v1.5h-1.5zM1469 1029.4h1.5v1.5h-1.5zM1053 1021.5h1.5v1.5h-1.5zM968.1 1044h1.5v1.5h-1.5zM944.9 1092.6h1.5v1.5h-1.5zM840.7 1080.2h1.5v1.5h-1.5zM869.5 1029.7h1.5v1.5h-1.5zM1286.1 1032.3h1.5v1.5h-1.5zM1218.4 1081.9h1.5v1.5h-1.5zM1116.5 1039.9h1.5v1.5h-1.5zM1351.5 1054.8h1.5v1.5h-1.5zM859.4 1057.8h1.5v1.5h-1.5zM1084.8 1072h1.5v1.5h-1.5zM1036.9 1063.4h1.5v1.5h-1.5zM1156.8 989.7h1.5v1.5h-1.5zM1271.9 1078.1h1.5v1.5h-1.5zM1190.5 1069.2h1.5v1.5h-1.5zM1251.4 1081.9h1.5v1.5h-1.5zM1439.4 1085.1h1.5v1.5h-1.5zM1448.6 1089.4h1.5v1.5h-1.5zM1026.3 1053.6h1.5v1.5h-1.5zM1069.3 1059.9h1.5v1.5h-1.5zM818.1 985.1h1.5v1.5h-1.5zM1234.1 1028.6h1.5v1.5h-1.5zM1440.3 1002.7h1.5v1.5h-1.5zM935.6 1014.6h1.5v1.5h-1.5zM1309.8 1036.5h1.5v1.5h-1.5zM1118.2 1069h1.5v1.5h-1.5zM1208.5 978.5h1.5v1.5h-1.5zM1196.3 976h1.5v1.5h-1.5zM896.1 1034h1.5v1.5h-1.5zM1063.2 1006.3h1.5v1.5h-1.5zM1415.5 1057.2h1.5v1.5h-1.5zM1413.9 1032.4h1.5v1.5h-1.5zM1306.3 1048.2h1.5v1.5h-1.5zM1392.3 1087.3h1.5v1.5h-1.5zM897.9 1077h1.5v1.5h-1.5zM1045.1 1004h1.5v1.5h-1.5zM1009 1053.9h1.5v1.5h-1.5zM962.5 995.6h1.5v1.5h-1.5zM1333.4 1003.1h1.5v1.5h-1.5zM821.9 1034.6h1.5v1.5h-1.5zM1082.9 985.5h1.5v1.5h-1.5zM1200.4 1017.3h1.5v1.5h-1.5zM1225.1 1009h1.5v1.5h-1.5zM1174.9 1059.9h1.5v1.5h-1.5zM995.8 1034h1.5v1.5h-1.5zM1295.3 998.8h1.5v1.5h-1.5zM931.3 1085.2h1.5v1.5h-1.5zM1092.4 1012h1.5v1.5h-1.5zM1000.3 1081.2h1.5v1.5h-1.5zM1358 982.3h1.5v1.5h-1.5zM1186.7 1028.5h1.5v1.5h-1.5zM1365.4 1005.8h1.5v1.5h-1.5zM1378.2 1035h1.5v1.5h-1.5zM1038.1 1006.6h1.5v1.5h-1.5zM1452.8 1019.7h1.5v1.5h-1.5zM1267.2 980.2h1.5v1.5h-1.5zM831.3 1004.7h1.5v1.5h-1.5zM1116.9 1089.2h1.5v1.5h-1.5zM1269 1015.2h1.5v1.5h-1.5zM1208.4 997.7h1.5v1.5h-1.5zM848.4 1083.9h1.5v1.5h-1.5zM826.1 1081.9h1.5v1.5h-1.5zM1213.2 1091.7h1.5v1.5h-1.5zM1068.2 1042.7h1.5v1.5h-1.5zM1329.2 995.9h1.5v1.5h-1.5zM1360.6 987.6h1.5v1.5h-1.5zM1047.6 1027.6h1.5v1.5h-1.5zM1210.6 1028.3h1.5v1.5h-1.5zM1254.5 1028.2h1.5v1.5h-1.5zM1297.9 975.8h1.5v1.5h-1.5zM991.8 1006.6h1.5v1.5h-1.5zM1020.1 994.6h1.5v1.5h-1.5zM827.2 1041.4h1.5v1.5h-1.5zM1433.1 1075.5h1.5v1.5h-1.5zM1101.5 1019.5h1.5v1.5h-1.5zM1102.3 1048.7h1.5v1.5h-1.5zM915.4 996.4h1.5v1.5h-1.5zM1085.1 1068.2h1.5v1.5h-1.5zM878.7 1051.7h1.5v1.5h-1.5zM1230.6 1080.8h1.5v1.5h-1.5zM942.5 1000.3h1.5v1.5h-1.5zM1472.1 989.4h1.5v1.5h-1.5zM892.5 1045.2h1.5v1.5h-1.5zM1101.7 1069.7h1.5v1.5h-1.5zM1441.3 1046.4h1.5v1.5h-1.5zM860.4 975.4h1.5v1.5h-1.5zM1103.6 977.4h1.5v1.5h-1.5zM1458 1079.4h1.5v1.5h-1.5zM1173.9 1036.3h1.5v1.5h-1.5zM1430.2 1084h1.5v1.5h-1.5zM1139.8 1027.6h1.5v1.5h-1.5zM1108.9 986.1h1.5v1.5h-1.5zM1234.2 998h1.5v1.5h-1.5zM1008.8 990.3h1.5v1.5h-1.5zM1119.4 1083.4h1.5v1.5h-1.5zM1192.1 1090.9h1.5v1.5h-1.5zM903.1 1092.8h1.5v1.5h-1.5zM1433.4 1017.2h1.5v1.5h-1.5zM1173.6 972.3h1.5v1.5h-1.5zM1253 976.6h1.5v1.5h-1.5zM1284 995.9h1.5v1.5h-1.5zM1290.2 1091.1h1.5v1.5h-1.5zM1265.5 1004.6h1.5v1.5h-1.5zM1277.3 1028.7h1.5v1.5h-1.5zM963.4 1065.8h1.5v1.5h-1.5zM1299.9 1060.5h1.5v1.5h-1.5zM1301 1061.3h1.5v1.5h-1.5zM1088.3 1055.4h1.5v1.5h-1.5zM1157.7 1032.6h1.5v1.5h-1.5zM1057.8 1019.6h1.5v1.5h-1.5zM1112.3 976.1h1.5v1.5h-1.5zM1030.6 979h1.5v1.5h-1.5zM1244.5 1019.9h1.5v1.5h-1.5zM960.2 1073.8h1.5v1.5h-1.5zM1025.1 1004.9h1.5v1.5h-1.5zM1428.8 1012.4h1.5v1.5h-1.5zM1470.6 1092.4h1.5v1.5h-1.5zM1265.3 1028.9h1.5v1.5h-1.5zM1257.5 1023.1h1.5v1.5h-1.5zM887.7 1002.4h1.5v1.5h-1.5zM1377.3 986h1.5v1.5h-1.5zM1401.5 1080.9h1.5v1.5h-1.5zM1412.2 1051.4h1.5v1.5h-1.5zM1259.9 985.4h1.5v1.5h-1.5zM1096.7 997.6h1.5v1.5h-1.5zM1237.4 1036.9h1.5v1.5h-1.5zM1398.3 975.6h1.5v1.5h-1.5zM1382.9 1054h1.5v1.5h-1.5zM1324.8 1057.4h1.5v1.5h-1.5zM815.8 1079.7h1.5v1.5h-1.5zM1048.7 1000.6h1.5v1.5h-1.5zM1095.8 1044.3h1.5v1.5h-1.5zM1464.6 1087.1h1.5v1.5h-1.5zM1128.1 1057.2h1.5v1.5h-1.5zM1119.6 1027.5h1.5v1.5h-1.5zM1027.4 1057h1.5v1.5h-1.5zM1132.1 1079.5h1.5v1.5h-1.5zM1038.2 1038.4h1.5v1.5h-1.5zM848.6 989.1h1.5v1.5h-1.5zM1364.7 1058.9h1.5v1.5h-1.5zM1117 1088.4h1.5v1.5h-1.5zM1282.4 1046.6h1.5v1.5h-1.5zM885.6 1010.4h1.5v1.5h-1.5zM1275.5 1069.5h1.5v1.5h-1.5zM1265.9 1085.6h1.5v1.5h-1.5zM1457.6 1034.7h1.5v1.5h-1.5zM1418.4 1060.2h1.5v1.5h-1.5zM1240.9 997.4h1.5v1.5h-1.5zM1244.7 1034.9h1.5v1.5h-1.5zM1405.9 1024.1h1.5v1.5h-1.5zM1017.1 997h1.5v1.5h-1.5zM1338.1 1000.6h1.5v1.5h-1.5zM1189.3 1047h1.5v1.5h-1.5zM1284.2 978.1h1.5v1.5h-1.5zM1208.1 1026.9h1.5v1.5h-1.5zM930 1001.5h1.5v1.5h-1.5zM1181.9 1065.1h1.5v1.5h-1.5zM1127.1 1072.5h1.5v1.5h-1.5zM1153 1009h1.5v1.5h-1.5zM1057.5 1062.3h1.5v1.5h-1.5zM989.3 1009.8h1.5v1.5h-1.5zM1259.8 1067.6h1.5v1.5h-1.5zM1226.4 1030.4h1.5v1.5h-1.5zM1025.5 1055.1h1.5v1.5h-1.5zM914.4 1011.7h1.5v1.5h-1.5zM1270.5 983.1h1.5v1.5h-1.5zM1100.4 1032.1h1.5v1.5h-1.5zM874.9 1074.1h1.5v1.5h-1.5zM1317.9 986.6h1.5v1.5h-1.5zM926.3 996.6h1.5v1.5h-1.5zM1119.1 1075.3h1.5v1.5h-1.5zM1462.5 1077.1h1.5v1.5h-1.5zM841.3 1043.8h1.5v1.5h-1.5zM1054.8 1002.1h1.5v1.5h-1.5zM1256.4 1022.2h1.5v1.5h-1.5zM1218.7 1074h1.5v1.5h-1.5zM1011 1085.1h1.5v1.5h-1.5zM1261.6 1024.8h1.5v1.5h-1.5zM1305.1 1085.1h1.5v1.5h-1.5zM1077.2 1042.5h1.5v1.5h-1.5zM1169 984.5h1.5v1.5h-1.5zM1265.2 990.6h1.5v1.5h-1.5zM1152.8 1036h1.5v1.5h-1.5zM1327.7 976.7h1.5v1.5h-1.5zM1366.5 1088.7h1.5v1.5h-1.5zM1307.1 1065.6h1.5v1.5h-1.5zM1221.6 1006.5h1.5v1.5h-1.5zM1312.4 988.7h1.5v1.5h-1.5zM970.8 1000.6h1.5v1.5h-1.5zM889.4 1003.4h1.5v1.5h-1.5zM849.8 1063.7h1.5v1.5h-1.5zM1348.5 1063.1h1.5v1.5h-1.5zM1256.1 1078.2h1.5v1.5h-1.5zM1198.3 982.1h1.5v1.5h-1.5zM932.1 1007.6h1.5v1.5h-1.5zM1225.1 1069.5h1.5v1.5h-1.5zM1164.4 1045.7h1.5v1.5h-1.5zM869.8 1005.9h1.5v1.5h-1.5zM1454.8 988.9h1.5v1.5h-1.5zM1194.6 1007.2h1.5v1.5h-1.5zM961.7 1075.8h1.5v1.5h-1.5zM1430.4 996.6h1.5v1.5h-1.5zM1248.7 1046.7h1.5v1.5h-1.5zM1352.8 999.2h1.5v1.5h-1.5zM1244.8 1085.6h1.5v1.5h-1.5zM927.7 1064.9h1.5v1.5h-1.5zM983.6 1075.1h1.5v1.5h-1.5zM1458.4 1078.7h1.5v1.5h-1.5zM1252.6 1094.1h1.5v1.5h-1.5zM1398.7 1045h1.5v1.5h-1.5zM1241.9 1041.8h1.5v1.5h-1.5zM1306.4 1058.5h1.5v1.5h-1.5zM1301.8 979.1h1.5v1.5h-1.5zM932.9 1015.9h1.5v1.5h-1.5zM1016 1093.3h1.5v1.5h-1.5zM1294.9 1091.9h1.5v1.5h-1.5zM1326.3 1044.8h1.5v1.5h-1.5zM1309.2 1027.7h1.5v1.5h-1.5zM1461.3 974.5h1.5v1.5h-1.5zM1148.6 1070h1.5v1.5h-1.5zM1128.5 1053.4h1.5v1.5h-1.5zM1385.9 1087.5h1.5v1.5h-1.5zM1337.6 1042.9h1.5v1.5h-1.5zM1442 995.2h1.5v1.5h-1.5zM1044.5 1083.1h1.5v1.5h-1.5zM856 1006.3h1.5v1.5h-1.5zM1247.2 1055.4h1.5v1.5h-1.5zM1037.1 988.7h1.5v1.5h-1.5zM917.4 1082.8h1.5v1.5h-1.5zM1282.9 975.5h1.5v1.5h-1.5zM939.3 1014.4h1.5v1.5h-1.5zM1115.1 1013.4h1.5v1.5h-1.5zM1219.1 1078.5h1.5v1.5h-1.5zM1154.3 1031.1h1.5v1.5h-1.5zM999.5 1001.2h1.5v1.5h-1.5zM1126.5 1059.1h1.5v1.5h-1.5zM860.6 1073.7h1.5v1.5h-1.5zM1194.7 1074h1.5v1.5h-1.5zM1470.2 1052.7h1.5v1.5h-1.5zM1325 1073.9h1.5v1.5h-1.5zM905.6 1054.9h1.5v1.5h-1.5zM945.9 997.6h1.5v1.5h-1.5zM1342.9 1089.7h1.5v1.5h-1.5zM1351.3 1039.3h1.5v1.5h-1.5zM1355.2 1005.1h1.5v1.5h-1.5zM1106.6 1090.9h1.5v1.5h-1.5zM1048.8 1047.8h1.5v1.5h-1.5zM1105.1 1008h1.5v1.5h-1.5zM1191.6 1082.9h1.5v1.5h-1.5zM1200.3 1059.1h1.5v1.5h-1.5zM1160.1 1031.6h1.5v1.5h-1.5zM1057.6 1084.9h1.5v1.5h-1.5zM982 1090.3h1.5v1.5h-1.5zM1284.9 1074.8h1.5v1.5h-1.5zM1101.1 993.7h1.5v1.5h-1.5zM819.6 1011.6h1.5v1.5h-1.5zM1124.1 989.3h1.5v1.5h-1.5zM1285.9 1062.9h1.5v1.5h-1.5zM1259 1024.1h1.5v1.5h-1.5zM822 1042.4h1.5v1.5h-1.5zM1007 1068.4h1.5v1.5h-1.5zM1117.7 1044.2h1.5v1.5h-1.5zM919.2 1063.1h1.5v1.5h-1.5zM1412.7 1009.8h1.5v1.5h-1.5zM1203.3 1067.3h1.5v1.5h-1.5zM1185.8 1064h1.5v1.5h-1.5zM1416.7 994.4h1.5v1.5h-1.5zM876 1040h1.5v1.5h-1.5zM1071.7 1043.1h1.5v1.5h-1.5zM1175.7 980h1.5v1.5h-1.5zM1250.6 1004.3h1.5v1.5h-1.5zM1308.8 1065.3h1.5v1.5h-1.5zM1178.5 1033.9h1.5v1.5h-1.5zM1281.5 1055.9h1.5v1.5h-1.5zM1370.2 1048.8h1.5v1.5h-1.5zM987.6 1004.5h1.5v1.5h-1.5zM1380.2 1076.6h1.5v1.5h-1.5zM880.1 1004.3h1.5v1.5h-1.5zM1353.9 1037.3h1.5v1.5h-1.5zM1135.1 996.4h1.5v1.5h-1.5zM1039.3 979.4h1.5v1.5h-1.5zM1427.7 1078.1h1.5v1.5h-1.5zM1393.1 1038.5h1.5v1.5h-1.5zM1445.8 985h1.5v1.5h-1.5zM1396.8 1036h1.5v1.5h-1.5zM1076.2 1037.8h1.5v1.5h-1.5zM844.2 997.3h1.5v1.5h-1.5zM1163.7 987.3h1.5v1.5h-1.5zM1327.6 980.4h1.5v1.5h-1.5zM1252.9 1001h1.5v1.5h-1.5zM923.1 1043.1h1.5v1.5h-1.5zM972.6 1020.9h1.5v1.5h-1.5zM1448.9 1023.5h1.5v1.5h-1.5zM906.6 1064.9h1.5v1.5h-1.5zM907 1055.1h1.5v1.5h-1.5zM919.7 1068.6h1.5v1.5h-1.5zM1145.3 1035.5h1.5v1.5h-1.5zM1216.3 985.2h1.5v1.5h-1.5zM990.5 1089.8h1.5v1.5h-1.5zM949.9 1001.3h1.5v1.5h-1.5zM881.7 1013.6h1.5v1.5h-1.5zM1315.5 1000.7h1.5v1.5h-1.5zM1014.8 1010.7h1.5v1.5h-1.5zM1022.4 1092.8h1.5v1.5h-1.5zM996.5 1015.2h1.5v1.5h-1.5zM935.7 1031.9h1.5v1.5h-1.5zM1373.4 1076.9h1.5v1.5h-1.5zM1000.8 1078.7h1.5v1.5h-1.5zM1224.2 1055.2h1.5v1.5h-1.5zM1124.3 999.7h1.5v1.5h-1.5zM1199.9 1019.7h1.5v1.5h-1.5zM1162.8 1031.2h1.5v1.5h-1.5zM1193.7 1016.2h1.5v1.5h-1.5zM1314.8 997.9h1.5v1.5h-1.5zM1181 1011.8h1.5v1.5h-1.5zM830.6 1025.2h1.5v1.5h-1.5zM1277.3 1050.9h1.5v1.5h-1.5zM1101.4 1076.4h1.5v1.5h-1.5zM829.9 1008.1h1.5v1.5h-1.5zM898.2 1048.8h1.5v1.5h-1.5z"/>
<path fill="#0020ff" d="M815 1088h1.6v3h-1.6zM815 1085h1.6v3h-1.6zM815 1064h1.6v3h-1.6zM815 1006h1.6v2h-1.6zM816.6 1094h1.6v3h-1.6zM816.6 1088h1.6v3h-1.6zM818.2 1094h1.6v3h-1.6zM818.2 1091h1.6v3h-1.6zM818.2 1088h1.6v3h-1.6zM818.2 1079h1.6v3h-1.6zM818.2 1076h1.6v3h-1.6zM818.2 1073h1.6v3h-1.6zM818.2 1070h1.6v3h-1.6zM818.2 1067h1.6v3h-1.6zM818.2 1064h1.6v3h-1.6zM818.2 1061h1.6v3h-1.6zM818.2 1058h1.6v3h-1.6zM818.2 1056h1.6v2h-1.6zM818.2 1054h1.6v2h-1.6zM818.2 1052h1.6v2h-1.6zM818.2 1050h1.6v2h-1.6zM818.2 1046h1.6v2h-1.6zM818.2 1030h1.6v2h-1.6zM819.8 1088h1.6v3h-1.6zM819.8 1085h1.6v3h-1.6zM819.8 1082h1.6v3h-1.6zM819.8 1073h1.6v3h-1.6zM819.8 1034h1.6v2h-1.6zM823 1085h1.6v3h-1.6zM823 1082h1.6v3h-1.6zM823 1079h1.6v3h-1.6zM823 984h1.6v2h-1.6zM824.6 1094h1.6v3h-1.6zM824.6 1091h1.6v3h-1.6zM824.6 1088h1.6v3h-1.6zM824.6 1079h1.6v3h-1.6zM824.6 1076h1.6v3h-1.6zM824.6 1064h1.6v3h-1.6zM824.6 1004h1.6v2h-1.6zM826.2 1094h1.6v3h-1.6zM826.2 1091h1.6v3h-1.6zM826.2 1088h1.6v3h-1.6zM826.2 1076h1.6v3h-1.6zM826.2 1073h1.6v3h-1.6zM826.2 1070h1.6v3h-1.6zM826.2 1067h1.6v3h-1.6zM826.2 1058h1.6v3h-1.6zM826.2 1052h1.6v2h-1.6zM829.4 1030h1.6v2h-1.6zM832.6 1082h1.6v3h-1.6zM832.6 1079h1.6v3h-1.6zM832.6 1073h1.6v3h-1.6zM832.6 988h1.6v2h-1.6zM834.2 1094h1.6v3h-1.6zM834.2 1085h1.6v3h-1.6zM834.2 1082h1.6v3h-1.6zM834.2 1076h1.6v3h-1.6zM834.2 1030h1.6v2h-1.6zM834.2 1018h1.6v2h-1.6zM835.8 1097h1.6v9h-1.6zM835.8 1106h1.6v15h-1.6zM835.8 1091h1.6v3h-1.6zM835.8 1016h1.6v2h-1.6zM837.4 1085h1.6v3h-1.6zM837.4 1079h1.6v3h-1.6zM837.4 1010h1.6v2h-1.6zM839 1091h1.6v3h-1.6zM839 1088h1.6v3h-1.6zM840.6 1091h1.6v3h-1.6zM840.6 1034h1.6v2h-1.6zM843.8 1097h1.6v9h-1.6zM843.8 1106h1.6v15h-1.6zM843.8 1082h1.6v3h-1.6zM845.4 1091h1.6v3h-1.6zM845.4 1088h1.6v3h-1.6zM845.4 1085h1.6v3h-1.6zM845.4 1082h1.6v3h-1.6zM845.4 1052h1.6v2h-1.6zM845.4 986h1.6v2h-1.6zM847 976h1.6v2h-1.6zM848.6 1082h1.6v3h-1.6zM848.6 1079h1.6v3h-1.6zM848.6 1028h1.6v2h-1.6zM850.2 1070h1.6v3h-1.6zM850.2 1064h1.6v3h-1.6zM850.2 982h1.6v2h-1.6zM853.4 1002h1.6v2h-1.6zM855 1088h1.6v3h-1.6zM855 1085h1.6v3h-1.6zM855 1082h1.6v3h-1.6zM855 1079h1.6v3h-1.6zM855 1076h1.6v3h-1.6zM858.2 1097h1.6v9h-1.6zM858.2 1106h1.6v15h-1.6zM858.2 988h1.6v2h-1.6zM858.2 984h1.6v2h-1.6zM859.8 1094h1.6v3h-1.6zM859.8 1091h1.6v3h-1.6zM859.8 1030h1.6v2h-1.6zM861.4 1091h1.6v3h-1.6zM861.4 1088h1.6v3h-1.6zM861.4 1085h1.6v3h-1.6zM864.6 1088h1.6v3h-1.6zM864.6 1085h1.6v3h-1.6zM864.6 1082h1.6v3h-1.6zM864.6 1079h1.6v3h-1.6zM864.6 1076h1.6v3h-1.6zM864.6 1073h1.6v3h-1.6zM864.6 1070h1.6v3h-1.6zM864.6 1064h1.6v3h-1.6zM864.6 1061h1.6v3h-1.6zM864.6 1050h1.6v2h-1.6zM864.6 1044h1.6v2h-1.6zM864.6 1024h1.6v2h-1.6zM866.2 1091h1.6v3h-1.6zM866.2 1088h1.6v3h-1.6zM866.2 1085h1.6v3h-1.6zM866.2 1079h1.6v3h-1.6zM866.2 1044h1.6v2h-1.6zM867.8 1088h1.6v3h-1.6zM867.8 1085h1.6v3h-1.6zM867.8 1082h1.6v3h-1.6zM867.8 1036h1.6v2h-1.6zM869.4 1091h1.6v3h-1.6zM871 1091h1.6v3h-1.6zM871 1088h1.6v3h-1.6zM871 1082h1.6v3h-1.6zM871 1079h1.6v3h-1.6zM871 1076h1.6v3h-1.6zM872.6 1000h1.6v2h-1.6zM874.2 1091h1.6v3h-1.6zM874.2 1020h1.6v2h-1.6zM877.4 984h1.6v2h-1.6zM879 1000h1.6v2h-1.6zM883.8 1097h1.6v9h-1.6zM885.4 1106h1.6v15h-1.6zM885.4 1082h1.6v3h-1.6zM890.2 1094h1.6v3h-1.6zM890.2 1091h1.6v3h-1.6zM890.2 1085h1.6v3h-1.6zM890.2 1034h1.6v2h-1.6zM891.8 1054h1.6v2h-1.6zM893.4 1091h1.6v3h-1.6zM893.4 1088h1.6v3h-1.6zM895 1094h1.6v3h-1.6zM895 1091h1.6v3h-1.6zM895 1088h1.6v3h-1.6zM895 1085h1.6v3h-1.6zM896.6 1097h1.6v9h-1.6zM896.6 1106h1.6v15h-1.6zM898.2 1094h1.6v3h-1.6zM898.2 1016h1.6v2h-1.6zM899.8 1091h1.6v3h-1.6zM899.8 1082h1.6v3h-1.6zM899.8 1079h1.6v3h-1.6zM899.8 1076h1.6v3h-1.6zM899.8 1070h1.6v3h-1.6zM899.8 1064h1.6v3h-1.6zM903 1091h1.6v3h-1.6zM903 1085h1.6v3h-1.6zM903 1082h1.6v3h-1.6zM903 1073h1.6v3h-1.6zM903 1067h1.6v3h-1.6zM903 1036h1.6v2h-1.6zM903 988h1.6v2h-1.6zM907.8 1094h1.6v3h-1.6zM909.4 1091h1.6v3h-1.6zM911 1020h1.6v2h-1.6zM912.6 984h1.6v2h-1.6zM914.2 1094h1.6v3h-1.6zM914.2 1052h1.6v2h-1.6zM915.8 1094h1.6v3h-1.6zM915.8 1091h1.6v3h-1.6zM915.8 1088h1.6v3h-1.6zM915.8 1058h1.6v3h-1.6zM920.6 1097h1.6v9h-1.6zM920.6 1106h1.6v15h-1.6zM920.6 1082h1.6v3h-1.6zM922.2 1094h1.6v3h-1.6zM922.2 996h1.6v2h-1.6zM928.6 1088h1.6v3h-1.6zM928.6 996h1.6v2h-1.6zM933.4 1028h1.6v2h-1.6zM938.2 1097h1.6v9h-1.6zM938.2 1106h1.6v15h-1.6zM938.2 1024h1.6v2h-1.6zM943 1097h1.6v9h-1.6zM943 1106h1.6v15h-1.6zM947.8 1097h1.6v9h-1.6zM949.4 1024h1.6v2h-1.6zM951 1097h1.6v9h-1.6zM952.6 1036h1.6v2h-1.6zM952.6 996h1.6v2h-1.6zM954.2 1094h1.6v3h-1.6zM954.2 990h1.6v2h-1.6zM957.4 1091h1.6v3h-1.6zM957.4 1088h1.6v3h-1.6zM957.4 1079h1.6v3h-1.6zM957.4 1030h1.6v2h-1.6zM960.6 1088h1.6v3h-1.6zM960.6 1085h1.6v3h-1.6zM962.2 1091h1.6v3h-1.6zM962.2 1088h1.6v3h-1.6zM962.2 1085h1.6v3h-1.6zM962.2 1076h1.6v3h-1.6zM962.2 1073h1.6v3h-1.6zM962.2 1054h1.6v2h-1.6zM963.8 1097h1.6v9h-1.6zM963.8 1106h1.6v15h-1.6zM963.8 1094h1.6v3h-1.6zM963.8 1091h1.6v3h-1.6zM963.8 1088h1.6v3h-1.6zM963.8 1085h1.6v3h-1.6zM963.8 972h1.6v2h-1.6zM965.4 1082h1.6v3h-1.6zM965.4 1010h1.6v2h-1.6zM970.2 1018h1.6v2h-1.6zM971.8 1016h1.6v2h-1.6zM973.4 1094h1.6v3h-1.6zM973.4 1058h1.6v3h-1.6zM973.4 1014h1.6v2h-1.6zM975 1073h1.6v3h-1.6zM976.6 1079h1.6v3h-1.6zM976.6 1073h1.6v3h-1.6zM976.6 1070h1.6v3h-1.6zM976.6 1067h1.6v3h-1.6zM976.6 1064h1.6v3h-1.6zM976.6 1061h1.6v3h-1.6zM976.6 1058h1.6v3h-1.6zM976.6 1054h1.6v2h-1.6zM976.6 1044h1.6v2h-1.6zM976.6 972h1.6v2h-1.6zM978.2 1061h1.6v3h-1.6zM978.2 1058h1.6v3h-1.6zM978.2 1056h1.6v2h-1.6zM978.2 1054h1.6v2h-1.6zM978.2 1052h1.6v2h-1.6zM978.2 1050h1.6v2h-1.6zM978.2 1046h1.6v2h-1.6zM978.2 1044h1.6v2h-1.6zM978.2 984h1.6v2h-1.6zM981.4 1082h1.6v3h-1.6zM981.4 1052h1.6v2h-1.6zM981.4 1026h1.6v2h-1.6zM983 1091h1.6v3h-1.6zM983 1016h1.6v2h-1.6zM984.6 1091h1.6v3h-1.6zM984.6 1046h1.6v2h-1.6zM984.6 1028h1.6v2h-1.6zM986.2 1097h1.6v9h-1.6zM986.2 1106h1.6v15h-1.6zM986.2 1012h1.6v2h-1.6zM987.8 1094h1.6v3h-1.6zM987.8 1091h1.6v3h-1.6zM987.8 1088h1.6v3h-1.6zM987.8 1085h1.6v3h-1.6zM987.8 1079h1.6v3h-1.6zM989.4 1079h1.6v3h-1.6zM989.4 1076h1.6v3h-1.6zM989.4 1073h1.6v3h-1.6zM989.4 1070h1.6v3h-1.6zM989.4 1067h1.6v3h-1.6zM991 1088h1.6v3h-1.6zM991 1038h1.6v2h-1.6zM992.6 1088h1.6v3h-1.6zM992.6 986h1.6v2h-1.6zM997.4 976h1.6v2h-1.6zM999 1056h1.6v2h-1.6zM1000.6 1094h1.6v3h-1.6zM1000.6 1079h1.6v3h-1.6zM1000.6 1073h1.6v3h-1.6zM1000.6 1012h1.6v2h-1.6zM1002.2 1091h1.6v3h-1.6zM1002.2 1085h1.6v3h-1.6zM1002.2 1082h1.6v3h-1.6zM1002.2 1079h1.6v3h-1.6zM1002.2 1076h1.6v3h-1.6zM1002.2 1070h1.6v3h-1.6zM1002.2 1064h1.6v3h-1.6zM1003.8 1088h1.6v3h-1.6zM1003.8 1064h1.6v3h-1.6zM1003.8 990h1.6v2h-1.6zM1005.4 988h1.6v2h-1.6zM1007 1079h1.6v3h-1.6zM1007 994h1.6v2h-1.6zM1010.2 1079h1.6v3h-1.6zM1010.2 1073h1.6v3h-1.6zM1010.2 1070h1.6v3h-1.6zM1010.2 1064h1.6v3h-1.6zM1010.2 1061h1.6v3h-1.6zM1010.2 1058h1.6v3h-1.6zM1010.2 1056h1.6v2h-1.6zM1010.2 1054h1.6v2h-1.6zM1010.2 1016h1.6v2h-1.6zM1011.8 1094h1.6v3h-1.6zM1011.8 1091h1.6v3h-1.6zM1011.8 1088h1.6v3h-1.6zM1011.8 1085h1.6v3h-1.6zM1011.8 1082h1.6v3h-1.6zM1011.8 1079h1.6v3h-1.6zM1011.8 1076h1.6v3h-1.6zM1011.8 1070h1.6v3h-1.6zM1011.8 1067h1.6v3h-1.6zM1011.8 1064h1.6v3h-1.6zM1011.8 1058h1.6v3h-1.6zM1011.8 1056h1.6v2h-1.6zM1011.8 1054h1.6v2h-1.6zM1011.8 1052h1.6v2h-1.6zM1011.8 1050h1.6v2h-1.6zM1011.8 1046h1.6v2h-1.6zM1013.4 1091h1.6v3h-1.6zM1013.4 1088h1.6v3h-1.6zM1013.4 1061h1.6v3h-1.6zM1013.4 1048h1.6v2h-1.6zM1013.4 1026h1.6v2h-1.6zM1015 1014h1.6v2h-1.6zM1015 988h1.6v2h-1.6zM1016.6 1073h1.6v3h-1.6zM1016.6 1070h1.6v3h-1.6zM1016.6 1067h1.6v3h-1.6zM1018.2 1088h1.6v3h-1.6zM1019.8 1094h1.6v3h-1.6zM1023 1094h1.6v3h-1.6zM1024.6 1014h1.6v2h-1.6zM1026.2 1094h1.6v3h-1.6zM1026.2 1091h1.6v3h-1.6zM1026.2 1088h1.6v3h-1.6zM1026.2 1085h1.6v3h-1.6zM1026.2 1082h1.6v3h-1.6zM1026.2 1079h1.6v3h-1.6zM1026.2 1076h1.6v3h-1.6zM1026.2 1064h1.6v3h-1.6zM1026.2 1058h1.6v3h-1.6zM1026.2 1020h1.6v2h-1.6zM1027.8 1091h1.6v3h-1.6zM1027.8 1067h1.6v3h-1.6zM1027.8 1054h1.6v2h-1.6zM1029.4 1050h1.6v2h-1.6zM1029.4 1048h1.6v2h-1.6zM1029.4 1040h1.6v2h-1.6zM1029.4 1038h1.6v2h-1.6zM1029.4 1036h1.6v2h-1.6zM1029.4 1034h1.6v2h-1.6zM1029.4 1032h1.6v2h-1.6zM1029.4 1026h1.6v2h-1.6zM1029.4 1024h1.6v2h-1.6zM1029.4 1018h1.6v2h-1.6zM1029.4 1016h1.6v2h-1.6zM1029.4 1014h1.6v2h-1.6zM1029.4 1012h1.6v2h-1.6zM1029.4 1008h1.6v2h-1.6zM1029.4 998h1.6v2h-1.6zM1029.4 994h1.6v2h-1.6zM1029.4 984h1.6v2h-1.6zM1031 1106h1.6v15h-1.6zM1031 1064h1.6v3h-1.6zM1031 1061h1.6v3h-1.6zM1031 1058h1.6v3h-1.6zM1031 1056h1.6v2h-1.6zM1031 1054h1.6v2h-1.6zM1031 1050h1.6v2h-1.6zM1031 1046h1.6v2h-1.6zM1031 1042h1.6v2h-1.6zM1031 1030h1.6v2h-1.6zM1031 976h1.6v2h-1.6zM1032.6 1094h1.6v3h-1.6zM1032.6 1091h1.6v3h-1.6zM1032.6 1088h1.6v3h-1.6zM1032.6 1076h1.6v3h-1.6zM1032.6 1008h1.6v2h-1.6zM1034.2 1020h1.6v2h-1.6zM1034.2 984h1.6v2h-1.6zM1037.4 1094h1.6v3h-1.6zM1037.4 1032h1.6v2h-1.6zM1037.4 998h1.6v2h-1.6zM1037.4 984h1.6v2h-1.6zM1039 1079h1.6v3h-1.6zM1039 1076h1.6v3h-1.6zM1039 1067h1.6v3h-1.6zM1040.6 1076h1.6v3h-1.6zM1040.6 1067h1.6v3h-1.6zM1040.6 1064h1.6v3h-1.6zM1040.6 1061h1.6v3h-1.6zM1042.2 1082h1.6v3h-1.6zM1042.2 1079h1.6v3h-1.6zM1042.2 1076h1.6v3h-1.6zM1043.8 1091h1.6v3h-1.6zM1043.8 1082h1.6v3h-1.6zM1043.8 1076h1.6v3h-1.6zM1043.8 1073h1.6v3h-1.6zM1043.8 1070h1.6v3h-1.6zM1043.8 1067h1.6v3h-1.6zM1043.8 1064h1.6v3h-1.6zM1043.8 1061h1.6v3h-1.6zM1043.8 1056h1.6v2h-1.6zM1043.8 1046h1.6v2h-1.6zM1045.4 1094h1.6v3h-1.6zM1045.4 1091h1.6v3h-1.6zM1045.4 1088h1.6v3h-1.6zM1045.4 1082h1.6v3h-1.6zM1045.4 1076h1.6v3h-1.6zM1045.4 1073h1.6v3h-1.6zM1045.4 1067h1.6v3h-1.6zM1045.4 1064h1.6v3h-1.6zM1045.4 1056h1.6v2h-1.6zM1045.4 1054h1.6v2h-1.6zM1045.4 1052h1.6v2h-1.6zM1045.4 1050h1.6v2h-1.6zM1045.4 1044h1.6v2h-1.6zM1045.4 1038h1.6v2h-1.6zM1045.4 1028h1.6v2h-1.6zM1045.4 1026h1.6v2h-1.6zM1045.4 1024h1.6v2h-1.6zM1045.4 1022h1.6v2h-1.6zM1045.4 1006h1.6v2h-1.6zM1047 1048h1.6v2h-1.6zM1048.6 1052h1.6v2h-1.6zM1048.6 1050h1.6v2h-1.6zM1048.6 1048h1.6v2h-1.6zM1048.6 1042h1.6v2h-1.6zM1048.6 1038h1.6v2h-1.6zM1048.6 1036h1.6v2h-1.6zM1048.6 1032h1.6v2h-1.6zM1048.6 1024h1.6v2h-1.6zM1048.6 1022h1.6v2h-1.6zM1048.6 1012h1.6v2h-1.6zM1048.6 984h1.6v2h-1.6zM1050.2 1054h1.6v2h-1.6zM1050.2 1052h1.6v2h-1.6zM1050.2 1050h1.6v2h-1.6zM1050.2 1048h1.6v2h-1.6zM1050.2 1044h1.6v2h-1.6zM1050.2 998h1.6v2h-1.6zM1050.2 986h1.6v2h-1.6zM1050.2 976h1.6v2h-1.6zM1051.8 1085h1.6v3h-1.6zM1051.8 1079h1.6v3h-1.6zM1051.8 1076h1.6v3h-1.6zM1051.8 1073h1.6v3h-1.6zM1051.8 1052h1.6v2h-1.6zM1051.8 1026h1.6v2h-1.6zM1053.4 1079h1.6v3h-1.6zM1053.4 1070h1.6v3h-1.6zM1053.4 1064h1.6v3h-1.6zM1053.4 1061h1.6v3h-1.6zM1053.4 1058h1.6v3h-1.6zM1053.4 1056h1.6v2h-1.6zM1053.4 1054h1.6v2h-1.6zM1053.4 1052h1.6v2h-1.6zM1053.4 1050h1.6v2h-1.6zM1053.4 1048h1.6v2h-1.6zM1053.4 1046h1.6v2h-1.6zM1053.4 1044h1.6v2h-1.6zM1053.4 1038h1.6v2h-1.6zM1053.4 1014h1.6v2h-1.6zM1055 1052h1.6v2h-1.6zM1055 1048h1.6v2h-1.6zM1055 1044h1.6v2h-1.6zM1055 1042h1.6v2h-1.6zM1055 1040h1.6v2h-1.6zM1055 1038h1.6v2h-1.6zM1055 1034h1.6v2h-1.6zM1055 1030h1.6v2h-1.6zM1055 1028h1.6v2h-1.6zM1055 1026h1.6v2h-1.6zM1055 1024h1.6v2h-1.6zM1055 1016h1.6v2h-1.6zM1056.6 1044h1.6v2h-1.6zM1056.6 1028h1.6v2h-1.6zM1056.6 1026h1.6v2h-1.6zM1056.6 1024h1.6v2h-1.6zM1056.6 1022h1.6v2h-1.6zM1056.6 1020h1.6v2h-1.6zM1056.6 1016h1.6v2h-1.6zM1056.6 1014h1.6v2h-1.6zM1056.6 1012h1.6v2h-1.6zM1056.6 1008h1.6v2h-1.6zM1056.6 986h1.6v2h-1.6zM1056.6 978h1.6v2h-1.6zM1056.6 974h1.6v2h-1.6zM1058.2 1058h1.6v3h-1.6zM1059.8 1082h1.6v3h-1.6zM1063 1097h1.6v9h-1.6zM1063 1085h1.6v3h-1.6zM1063 1028h1.6v2h-1.6zM1064.6 1091h1.6v3h-1.6zM1064.6 1016h1.6v2h-1.6zM1064.6 972h1.6v2h-1.6zM1066.2 1088h1.6v3h-1.6zM1066.2 1085h1.6v3h-1.6zM1066.2 1040h1.6v2h-1.6zM1066.2 1008h1.6v2h-1.6zM1067.8 1012h1.6v2h-1.6zM1067.8 1000h1.6v2h-1.6zM1069.4 1076h1.6v3h-1.6zM1069.4 1070h1.6v3h-1.6zM1069.4 1067h1.6v3h-1.6zM1071 1088h1.6v3h-1.6zM1071 1085h1.6v3h-1.6zM1074.2 1094h1.6v3h-1.6zM1074.2 1091h1.6v3h-1.6zM1074.2 974h1.6v2h-1.6zM1075.8 1073h1.6v3h-1.6zM1075.8 1067h1.6v3h-1.6zM1075.8 1064h1.6v3h-1.6zM1075.8 1058h1.6v3h-1.6zM1075.8 1054h1.6v2h-1.6zM1075.8 1052h1.6v2h-1.6zM1075.8 1050h1.6v2h-1.6zM1075.8 1038h1.6v2h-1.6zM1075.8 1036h1.6v2h-1.6zM1075.8 1032h1.6v2h-1.6zM1077.4 996h1.6v2h-1.6zM1080.6 1091h1.6v3h-1.6zM1080.6 984h1.6v2h-1.6zM1082.2 1091h1.6v3h-1.6zM1082.2 1012h1.6v2h-1.6zM1083.8 1040h1.6v2h-1.6zM1087 1040h1.6v2h-1.6zM1087 990h1.6v2h-1.6zM1088.6 1082h1.6v3h-1.6zM1090.2 1091h1.6v3h-1.6zM1090.2 1088h1.6v3h-1.6zM1090.2 1085h1.6v3h-1.6zM1090.2 1082h1.6v3h-1.6zM1090.2 1079h1.6v3h-1.6zM1090.2 1058h1.6v3h-1.6zM1091.8 1091h1.6v3h-1.6zM1091.8 1073h1.6v3h-1.6zM1091.8 1014h1.6v2h-1.6zM1095 1097h1.6v9h-1.6zM1095 1106h1.6v15h-1.6zM1095 1085h1.6v3h-1.6zM1096.6 1097h1.6v9h-1.6zM1096.6 1106h1.6v15h-1.6zM1098.2 1097h1.6v9h-1.6zM1098.2 1106h1.6v15h-1.6zM1101.4 1034h1.6v2h-1.6zM1101.4 1018h1.6v2h-1.6zM1104.6 982h1.6v2h-1.6zM1106.2 1094h1.6v3h-1.6zM1107.8 1097h1.6v9h-1.6zM1107.8 1106h1.6v15h-1.6zM1107.8 1024h1.6v2h-1.6zM1109.4 1094h1.6v3h-1.6zM1109.4 1076h1.6v3h-1.6zM1111 1094h1.6v3h-1.6zM1111 1034h1.6v2h-1.6zM1114.2 1097h1.6v9h-1.6zM1114.2 1073h1.6v3h-1.6zM1114.2 1061h1.6v3h-1.6zM1114.2 996h1.6v2h-1.6zM1120.6 1097h1.6v9h-1.6zM1120.6 1106h1.6v15h-1.6zM1122.2 1097h1.6v9h-1.6zM1122.2 1106h1.6v15h-1.6zM1122.2 1091h1.6v3h-1.6zM1125.4 1094h1.6v3h-1.6zM1125.4 1091h1.6v3h-1.6zM1125.4 1042h1.6v2h-1.6zM1127 1094h1.6v3h-1.6zM1127 1091h1.6v3h-1.6zM1128.6 1052h1.6v2h-1.6zM1135 1097h1.6v9h-1.6zM1135 1106h1.6v15h-1.6zM1135 1094h1.6v3h-1.6zM1135 1091h1.6v3h-1.6zM1144.6 1094h1.6v3h-1.6zM1144.6 1091h1.6v3h-1.6zM1146.2 1020h1.6v2h-1.6zM1147.8 1028h1.6v2h-1.6zM1151 1097h1.6v9h-1.6zM1151 1106h1.6v15h-1.6zM1159 1094h1.6v3h-1.6zM1163.8 1097h1.6v9h-1.6zM1163.8 1106h1.6v15h-1.6zM1163.8 1091h1.6v3h-1.6zM1163.8 1088h1.6v3h-1.6zM1163.8 1032h1.6v2h-1.6zM1163.8 992h1.6v2h-1.6zM1167 1097h1.6v9h-1.6zM1167 1106h1.6v15h-1.6zM1171.8 1094h1.6v3h-1.6zM1171.8 1091h1.6v3h-1.6zM1171.8 1088h1.6v3h-1.6zM1171.8 1082h1.6v3h-1.6zM1171.8 1070h1.6v3h-1.6zM1173.4 1091h1.6v3h-1.6zM1175 1097h1.6v9h-1.6zM1175 1106h1.6v15h-1.6zM1175 1070h1.6v3h-1.6zM1176.6 1042h1.6v2h-1.6zM1181.4 1004h1.6v2h-1.6zM1187.8 1097h1.6v9h-1.6zM1187.8 1106h1.6v15h-1.6zM1189.4 1097h1.6v9h-1.6zM1189.4 1106h1.6v15h-1.6zM1189.4 1094h1.6v3h-1.6zM1189.4 1036h1.6v2h-1.6zM1191 1094h1.6v3h-1.6zM1192.6 1094h1.6v3h-1.6zM1195.8 1094h1.6v3h-1.6zM1200.6 992h1.6v2h-1.6zM1202.2 1094h1.6v3h-1.6zM1202.2 996h1.6v2h-1.6zM1205.4 1070h1.6v3h-1.6zM1210.2 1097h1.6v9h-1.6zM1210.2 1106h1.6v15h-1.6zM1210.2 1094h1.6v3h-1.6zM1211.8 1094h1.6v3h-1.6zM1211.8 1091h1.6v3h-1.6zM1215 1094h1.6v3h-1.6zM1216.6 1097h1.6v9h-1.6zM1216.6 1106h1.6v15h-1.6zM1216.6 1018h1.6v2h-1.6zM1218.2 1097h1.6v9h-1.6zM1218.2 1106h1.6v15h-1.6zM1218.2 988h1.6v2h-1.6zM1221.4 1094h1.6v3h-1.6zM1221.4 1091h1.6v3h-1.6zM1226.2 1094h1.6v3h-1.6zM1226.2 1061h1.6v3h-1.6zM1231 1094h1.6v3h-1.6zM1231 1061h1.6v3h-1.6zM1234.2 1058h1.6v3h-1.6zM1234.2 1042h1.6v2h-1.6zM1235.8 1094h1.6v3h-1.6zM1235.8 1018h1.6v2h-1.6zM1237.4 1094h1.6v3h-1.6zM1237.4 1091h1.6v3h-1.6zM1237.4 1088h1.6v3h-1.6zM1237.4 1085h1.6v3h-1.6zM1237.4 996h1.6v2h-1.6zM1242.2 1097h1.6v9h-1.6zM1242.2 1106h1.6v15h-1.6zM1245.4 1097h1.6v9h-1.6zM1245.4 1106h1.6v15h-1.6zM1245.4 1094h1.6v3h-1.6zM1248.6 1097h1.6v9h-1.6zM1248.6 1106h1.6v15h-1.6zM1250.2 1094h1.6v3h-1.6zM1250.2 1091h1.6v3h-1.6zM1250.2 1088h1.6v3h-1.6zM1251.8 1091h1.6v3h-1.6zM1251.8 1088h1.6v3h-1.6zM1256.6 1010h1.6v2h-1.6zM1256.6 994h1.6v2h-1.6zM1258.2 1097h1.6v9h-1.6zM1258.2 1106h1.6v15h-1.6zM1263 996h1.6v2h-1.6zM1274.2 1091h1.6v3h-1.6zM1274.2 1088h1.6v3h-1.6zM1274.2 1079h1.6v3h-1.6zM1275.8 1076h1.6v3h-1.6zM1277.4 1079h1.6v3h-1.6zM1279 986h1.6v2h-1.6zM1280.6 1094h1.6v3h-1.6zM1285.4 1094h1.6v3h-1.6zM1285.4 1004h1.6v2h-1.6zM1287 1097h1.6v9h-1.6zM1287 1106h1.6v15h-1.6zM1288.6 1094h1.6v3h-1.6zM1288.6 1091h1.6v3h-1.6zM1290.2 1097h1.6v9h-1.6zM1290.2 1106h1.6v15h-1.6zM1290.2 1094h1.6v3h-1.6zM1291.8 1091h1.6v3h-1.6zM1293.4 1094h1.6v3h-1.6zM1293.4 1091h1.6v3h-1.6zM1298.2 1058h1.6v3h-1.6zM1301.4 1097h1.6v9h-1.6zM1301.4 1106h1.6v15h-1.6zM1301.4 1082h1.6v3h-1.6zM1306.2 1030h1.6v2h-1.6zM1307.8 1094h1.6v3h-1.6zM1309.4 1094h1.6v3h-1.6zM1311 1008h1.6v2h-1.6zM1312.6 1094h1.6v3h-1.6zM1312.6 1012h1.6v2h-1.6zM1314.2 1094h1.6v3h-1.6zM1314.2 1091h1.6v3h-1.6zM1314.2 1088h1.6v3h-1.6zM1314.2 1082h1.6v3h-1.6zM1315.8 1079h1.6v3h-1.6zM1315.8 990h1.6v2h-1.6zM1317.4 1097h1.6v9h-1.6zM1317.4 1106h1.6v15h-1.6zM1317.4 1085h1.6v3h-1.6zM1319 1094h1.6v3h-1.6zM1319 1091h1.6v3h-1.6zM1319 1088h1.6v3h-1.6zM1319 1085h1.6v3h-1.6zM1319 1082h1.6v3h-1.6zM1319 1076h1.6v3h-1.6zM1323.8 1085h1.6v3h-1.6zM1323.8 1079h1.6v3h-1.6zM1323.8 1076h1.6v3h-1.6zM1323.8 1073h1.6v3h-1.6zM1323.8 1070h1.6v3h-1.6zM1323.8 1067h1.6v3h-1.6zM1323.8 1061h1.6v3h-1.6zM1327 1085h1.6v3h-1.6zM1327 1082h1.6v3h-1.6zM1327 1079h1.6v3h-1.6zM1327 1056h1.6v2h-1.6zM1327 1006h1.6v2h-1.6zM1327 990h1.6v2h-1.6zM1328.6 1038h1.6v2h-1.6zM1328.6 986h1.6v2h-1.6zM1330.2 1046h1.6v2h-1.6zM1330.2 1038h1.6v2h-1.6zM1330.2 1006h1.6v2h-1.6zM1331.8 1082h1.6v3h-1.6zM1335 1091h1.6v3h-1.6zM1335 1088h1.6v3h-1.6zM1335 1082h1.6v3h-1.6zM1335 1079h1.6v3h-1.6zM1335 1076h1.6v3h-1.6zM1335 1073h1.6v3h-1.6zM1335 1067h1.6v3h-1.6zM1335 1058h1.6v3h-1.6zM1335 994h1.6v2h-1.6zM1335 980h1.6v2h-1.6zM1336.6 1076h1.6v3h-1.6zM1336.6 1073h1.6v3h-1.6zM1336.6 1032h1.6v2h-1.6zM1336.6 1018h1.6v2h-1.6zM1338.2 1094h1.6v3h-1.6zM1338.2 1091h1.6v3h-1.6zM1338.2 1088h1.6v3h-1.6zM1338.2 1085h1.6v3h-1.6zM1338.2 1082h1.6v3h-1.6zM1338.2 1079h1.6v3h-1.6zM1338.2 1076h1.6v3h-1.6zM1338.2 1070h1.6v3h-1.6zM1338.2 1061h1.6v3h-1.6zM1338.2 1054h1.6v2h-1.6zM1338.2 1052h1.6v2h-1.6zM1338.2 1046h1.6v2h-1.6zM1338.2 1044h1.6v2h-1.6zM1338.2 1018h1.6v2h-1.6zM1338.2 992h1.6v2h-1.6zM1339.8 1082h1.6v3h-1.6zM1339.8 1079h1.6v3h-1.6zM1339.8 1076h1.6v3h-1.6zM1339.8 1073h1.6v3h-1.6zM1339.8 1070h1.6v3h-1.6zM1339.8 1048h1.6v2h-1.6zM1339.8 992h1.6v2h-1.6zM1341.4 1094h1.6v3h-1.6zM1341.4 1079h1.6v3h-1.6zM1341.4 1076h1.6v3h-1.6zM1341.4 1073h1.6v3h-1.6zM1341.4 1070h1.6v3h-1.6zM1341.4 1067h1.6v3h-1.6zM1341.4 1058h1.6v3h-1.6zM1341.4 1056h1.6v2h-1.6zM1341.4 992h1.6v2h-1.6zM1344.6 1091h1.6v3h-1.6zM1344.6 1088h1.6v3h-1.6zM1344.6 1030h1.6v2h-1.6zM1346.2 1067h1.6v3h-1.6zM1346.2 1010h1.6v2h-1.6zM1346.2 980h1.6v2h-1.6zM1347.8 1073h1.6v3h-1.6zM1347.8 1070h1.6v3h-1.6zM1347.8 1058h1.6v3h-1.6zM1347.8 1012h1.6v2h-1.6zM1349.4 1094h1.6v3h-1.6zM1349.4 1091h1.6v3h-1.6zM1349.4 1088h1.6v3h-1.6zM1349.4 1085h1.6v3h-1.6zM1349.4 1082h1.6v3h-1.6zM1349.4 1079h1.6v3h-1.6zM1349.4 1056h1.6v2h-1.6zM1349.4 1054h1.6v2h-1.6zM1349.4 998h1.6v2h-1.6zM1351 1091h1.6v3h-1.6zM1351 1034h1.6v2h-1.6zM1351 1020h1.6v2h-1.6zM1351 1006h1.6v2h-1.6zM1352.6 1026h1.6v2h-1.6zM1354.2 1079h1.6v3h-1.6zM1354.2 1010h1.6v2h-1.6zM1354.2 998h1.6v2h-1.6zM1354.2 994h1.6v2h-1.6zM1357.4 1076h1.6v3h-1.6zM1357.4 1073h1.6v3h-1.6zM1357.4 1070h1.6v3h-1.6zM1357.4 1067h1.6v3h-1.6zM1357.4 1064h1.6v3h-1.6zM1357.4 1061h1.6v3h-1.6zM1357.4 1056h1.6v2h-1.6zM1357.4 1054h1.6v2h-1.6zM1357.4 1052h1.6v2h-1.6zM1357.4 1048h1.6v2h-1.6zM1357.4 1046h1.6v2h-1.6zM1357.4 1004h1.6v2h-1.6zM1357.4 996h1.6v2h-1.6zM1357.4 986h1.6v2h-1.6zM1359 1094h1.6v3h-1.6zM1359 1091h1.6v3h-1.6zM1359 992h1.6v2h-1.6zM1360.6 1054h1.6v2h-1.6zM1360.6 1050h1.6v2h-1.6zM1360.6 1036h1.6v2h-1.6zM1360.6 1026h1.6v2h-1.6zM1360.6 1024h1.6v2h-1.6zM1360.6 1022h1.6v2h-1.6zM1360.6 1018h1.6v2h-1.6zM1360.6 1016h1.6v2h-1.6zM1360.6 1014h1.6v2h-1.6zM1360.6 1010h1.6v2h-1.6zM1360.6 1008h1.6v2h-1.6zM1360.6 1006h1.6v2h-1.6zM1360.6 1004h1.6v2h-1.6zM1360.6 1002h1.6v2h-1.6zM1360.6 1000h1.6v2h-1.6zM1360.6 998h1.6v2h-1.6zM1360.6 994h1.6v2h-1.6zM1360.6 992h1.6v2h-1.6zM1360.6 990h1.6v2h-1.6zM1360.6 988h1.6v2h-1.6zM1360.6 986h1.6v2h-1.6zM1360.6 982h1.6v2h-1.6zM1360.6 980h1.6v2h-1.6zM1360.6 978h1.6v2h-1.6zM1360.6 976h1.6v2h-1.6zM1360.6 972h1.6v2h-1.6zM1362.2 1046h1.6v2h-1.6zM1362.2 1044h1.6v2h-1.6zM1362.2 1036h1.6v2h-1.6zM1362.2 1030h1.6v2h-1.6zM1362.2 1028h1.6v2h-1.6zM1362.2 1026h1.6v2h-1.6zM1362.2 1024h1.6v2h-1.6zM1362.2 1020h1.6v2h-1.6zM1362.2 1018h1.6v2h-1.6zM1362.2 1016h1.6v2h-1.6zM1362.2 1002h1.6v2h-1.6zM1362.2 1000h1.6v2h-1.6zM1363.8 1088h1.6v3h-1.6zM1365.4 1052h1.6v2h-1.6zM1365.4 1048h1.6v2h-1.6zM1365.4 1040h1.6v2h-1.6zM1365.4 1038h1.6v2h-1.6zM1365.4 1036h1.6v2h-1.6zM1365.4 1034h1.6v2h-1.6zM1365.4 1032h1.6v2h-1.6zM1365.4 1026h1.6v2h-1.6zM1365.4 1022h1.6v2h-1.6zM1365.4 1018h1.6v2h-1.6zM1365.4 1014h1.6v2h-1.6zM1367 1067h1.6v3h-1.6zM1367 1064h1.6v3h-1.6zM1367 1061h1.6v3h-1.6zM1367 1058h1.6v3h-1.6zM1367 1056h1.6v2h-1.6zM1367 1052h1.6v2h-1.6zM1367 986h1.6v2h-1.6zM1368.6 1073h1.6v3h-1.6zM1368.6 1067h1.6v3h-1.6zM1368.6 1014h1.6v2h-1.6zM1370.2 1091h1.6v3h-1.6zM1370.2 1000h1.6v2h-1.6zM1371.8 1094h1.6v3h-1.6zM1371.8 1091h1.6v3h-1.6zM1371.8 1088h1.6v3h-1.6zM1371.8 1085h1.6v3h-1.6zM1371.8 1082h1.6v3h-1.6zM1371.8 1079h1.6v3h-1.6zM1371.8 1076h1.6v3h-1.6zM1371.8 1073h1.6v3h-1.6zM1373.4 1070h1.6v3h-1.6zM1373.4 1064h1.6v3h-1.6zM1375 1094h1.6v3h-1.6zM1375 1091h1.6v3h-1.6zM1375 1088h1.6v3h-1.6zM1375 1085h1.6v3h-1.6zM1375 1079h1.6v3h-1.6zM1375 1073h1.6v3h-1.6zM1375 1070h1.6v3h-1.6zM1375 1067h1.6v3h-1.6zM1375 1064h1.6v3h-1.6zM1375 1058h1.6v3h-1.6zM1375 1050h1.6v2h-1.6zM1375 1048h1.6v2h-1.6zM1375 1044h1.6v2h-1.6zM1375 1036h1.6v2h-1.6zM1375 1034h1.6v2h-1.6zM1375 1032h1.6v2h-1.6zM1375 1026h1.6v2h-1.6zM1375 1024h1.6v2h-1.6zM1375 1018h1.6v2h-1.6zM1375 1016h1.6v2h-1.6zM1375 1012h1.6v2h-1.6zM1375 1004h1.6v2h-1.6zM1375 1000h1.6v2h-1.6zM1375 988h1.6v2h-1.6zM1376.6 1082h1.6v3h-1.6zM1376.6 1070h1.6v3h-1.6zM1376.6 1016h1.6v2h-1.6zM1378.2 1091h1.6v3h-1.6zM1378.2 1012h1.6v2h-1.6zM1379.8 1097h1.6v9h-1.6zM1379.8 1040h1.6v2h-1.6zM1379.8 1036h1.6v2h-1.6zM1379.8 1032h1.6v2h-1.6zM1379.8 1030h1.6v2h-1.6zM1379.8 1026h1.6v2h-1.6zM1379.8 1024h1.6v2h-1.6zM1379.8 1020h1.6v2h-1.6zM1379.8 1018h1.6v2h-1.6zM1379.8 1016h1.6v2h-1.6zM1379.8 1014h1.6v2h-1.6zM1379.8 1012h1.6v2h-1.6zM1379.8 1010h1.6v2h-1.6zM1379.8 1008h1.6v2h-1.6zM1379.8 998h1.6v2h-1.6zM1379.8 992h1.6v2h-1.6zM1381.4 1088h1.6v3h-1.6zM1381.4 1085h1.6v3h-1.6zM1381.4 1082h1.6v3h-1.6zM1381.4 1010h1.6v2h-1.6zM1383 1076h1.6v3h-1.6zM1383 1070h1.6v3h-1.6zM1383 1067h1.6v3h-1.6zM1383 1064h1.6v3h-1.6zM1383 1058h1.6v3h-1.6zM1383 1014h1.6v2h-1.6zM1384.6 1094h1.6v3h-1.6zM1384.6 1091h1.6v3h-1.6zM1384.6 1082h1.6v3h-1.6zM1384.6 1076h1.6v3h-1.6zM1384.6 1073h1.6v3h-1.6zM1384.6 1067h1.6v3h-1.6zM1384.6 1064h1.6v3h-1.6zM1384.6 1058h1.6v3h-1.6zM1384.6 972h1.6v2h-1.6zM1386.2 1064h1.6v3h-1.6zM1386.2 1061h1.6v3h-1.6zM1386.2 1058h1.6v3h-1.6zM1386.2 1056h1.6v2h-1.6zM1386.2 1052h1.6v2h-1.6zM1386.2 1050h1.6v2h-1.6zM1386.2 1048h1.6v2h-1.6zM1386.2 996h1.6v2h-1.6zM1387.8 1085h1.6v3h-1.6zM1387.8 1058h1.6v3h-1.6zM1387.8 984h1.6v2h-1.6zM1389.4 1106h1.6v15h-1.6zM1389.4 1088h1.6v3h-1.6zM1389.4 1085h1.6v3h-1.6zM1389.4 1082h1.6v3h-1.6zM1389.4 1079h1.6v3h-1.6zM1389.4 1076h1.6v3h-1.6zM1389.4 1073h1.6v3h-1.6zM1391 1091h1.6v3h-1.6zM1391 1088h1.6v3h-1.6zM1391 1085h1.6v3h-1.6zM1391 1082h1.6v3h-1.6zM1391 1073h1.6v3h-1.6zM1391 1038h1.6v2h-1.6zM1391 988h1.6v2h-1.6zM1392.6 1085h1.6v3h-1.6zM1392.6 1073h1.6v3h-1.6zM1392.6 1026h1.6v2h-1.6zM1392.6 982h1.6v2h-1.6zM1394.2 1097h1.6v9h-1.6zM1394.2 1088h1.6v3h-1.6zM1394.2 1085h1.6v3h-1.6zM1394.2 1082h1.6v3h-1.6zM1394.2 1030h1.6v2h-1.6zM1395.8 1085h1.6v3h-1.6zM1395.8 1082h1.6v3h-1.6zM1395.8 978h1.6v2h-1.6zM1397.4 1079h1.6v3h-1.6zM1397.4 1067h1.6v3h-1.6zM1397.4 1048h1.6v2h-1.6zM1397.4 1012h1.6v2h-1.6zM1397.4 1010h1.6v2h-1.6zM1399 1022h1.6v2h-1.6zM1400.6 1085h1.6v3h-1.6zM1400.6 1082h1.6v3h-1.6zM1402.2 992h1.6v2h-1.6zM1403.8 1091h1.6v3h-1.6zM1403.8 1085h1.6v3h-1.6zM1403.8 1079h1.6v3h-1.6zM1403.8 1073h1.6v3h-1.6zM1403.8 1070h1.6v3h-1.6zM1403.8 1044h1.6v2h-1.6zM1405.4 1088h1.6v3h-1.6zM1405.4 1085h1.6v3h-1.6zM1405.4 1082h1.6v3h-1.6zM1405.4 1079h1.6v3h-1.6zM1405.4 1076h1.6v3h-1.6zM1405.4 1073h1.6v3h-1.6zM1405.4 1070h1.6v3h-1.6zM1405.4 1067h1.6v3h-1.6zM1405.4 1064h1.6v3h-1.6zM1405.4 1061h1.6v3h-1.6zM1405.4 1058h1.6v3h-1.6zM1405.4 1056h1.6v2h-1.6zM1405.4 1050h1.6v2h-1.6zM1405.4 1048h1.6v2h-1.6zM1405.4 998h1.6v2h-1.6zM1405.4 976h1.6v2h-1.6zM1407 1073h1.6v3h-1.6zM1407 1070h1.6v3h-1.6zM1407 1067h1.6v3h-1.6zM1407 1064h1.6v3h-1.6zM1407 1061h1.6v3h-1.6zM1407 1058h1.6v3h-1.6zM1407 1056h1.6v2h-1.6zM1408.6 1082h1.6v3h-1.6zM1408.6 1079h1.6v3h-1.6zM1410.2 972h1.6v2h-1.6zM1411.8 1064h1.6v3h-1.6zM1411.8 1058h1.6v3h-1.6zM1411.8 1054h1.6v2h-1.6zM1411.8 1050h1.6v2h-1.6zM1411.8 1048h1.6v2h-1.6zM1411.8 1044h1.6v2h-1.6zM1411.8 1042h1.6v2h-1.6zM1411.8 1040h1.6v2h-1.6zM1411.8 1038h1.6v2h-1.6zM1411.8 1036h1.6v2h-1.6zM1411.8 986h1.6v2h-1.6zM1413.4 1034h1.6v2h-1.6zM1415 1076h1.6v3h-1.6zM1415 1070h1.6v3h-1.6zM1415 1061h1.6v3h-1.6zM1415 1058h1.6v3h-1.6zM1415 1056h1.6v2h-1.6zM1416.6 1091h1.6v3h-1.6zM1416.6 1048h1.6v2h-1.6zM1416.6 1008h1.6v2h-1.6zM1418.2 1042h1.6v2h-1.6zM1418.2 1040h1.6v2h-1.6zM1418.2 1036h1.6v2h-1.6zM1418.2 1034h1.6v2h-1.6zM1418.2 1032h1.6v2h-1.6zM1418.2 1030h1.6v2h-1.6zM1418.2 1028h1.6v2h-1.6zM1418.2 1026h1.6v2h-1.6zM1418.2 1024h1.6v2h-1.6zM1418.2 1022h1.6v2h-1.6zM1418.2 1020h1.6v2h-1.6zM1418.2 1018h1.6v2h-1.6zM1418.2 1016h1.6v2h-1.6zM1418.2 1014h1.6v2h-1.6zM1418.2 1012h1.6v2h-1.6zM1418.2 1010h1.6v2h-1.6zM1418.2 1006h1.6v2h-1.6zM1418.2 1004h1.6v2h-1.6zM1418.2 1002h1.6v2h-1.6zM1418.2 998h1.6v2h-1.6zM1419.8 1064h1.6v3h-1.6zM1419.8 1058h1.6v3h-1.6zM1419.8 1054h1.6v2h-1.6zM1419.8 1052h1.6v2h-1.6zM1419.8 1046h1.6v2h-1.6zM1419.8 1042h1.6v2h-1.6zM1419.8 1040h1.6v2h-1.6zM1419.8 1038h1.6v2h-1.6zM1419.8 1036h1.6v2h-1.6zM1419.8 1034h1.6v2h-1.6zM1419.8 1030h1.6v2h-1.6zM1419.8 1028h1.6v2h-1.6zM1419.8 1022h1.6v2h-1.6zM1419.8 1018h1.6v2h-1.6zM1419.8 1016h1.6v2h-1.6zM1419.8 982h1.6v2h-1.6zM1423 1073h1.6v3h-1.6zM1423 1070h1.6v3h-1.6zM1423 1067h1.6v3h-1.6zM1423 1064h1.6v3h-1.6zM1423 1061h1.6v3h-1.6zM1423 1054h1.6v2h-1.6zM1423 1046h1.6v2h-1.6zM1423 994h1.6v2h-1.6zM1424.6 1073h1.6v3h-1.6zM1424.6 1070h1.6v3h-1.6zM1424.6 1067h1.6v3h-1.6zM1424.6 1064h1.6v3h-1.6zM1424.6 1058h1.6v3h-1.6zM1424.6 1052h1.6v2h-1.6zM1424.6 1040h1.6v2h-1.6zM1426.2 1094h1.6v3h-1.6zM1426.2 1008h1.6v2h-1.6zM1429.4 1036h1.6v2h-1.6zM1429.4 1022h1.6v2h-1.6zM1431 1091h1.6v3h-1.6zM1431 1070h1.6v3h-1.6zM1431 1067h1.6v3h-1.6zM1431 1028h1.6v2h-1.6zM1431 1020h1.6v2h-1.6zM1432.6 1094h1.6v3h-1.6zM1432.6 1088h1.6v3h-1.6zM1432.6 1020h1.6v2h-1.6zM1434.2 1085h1.6v3h-1.6zM1434.2 1082h1.6v3h-1.6zM1435.8 1091h1.6v3h-1.6zM1435.8 1038h1.6v2h-1.6zM1437.4 1091h1.6v3h-1.6zM1437.4 1085h1.6v3h-1.6zM1437.4 1082h1.6v3h-1.6zM1437.4 1079h1.6v3h-1.6zM1437.4 1073h1.6v3h-1.6zM1439 1079h1.6v3h-1.6zM1439 1076h1.6v3h-1.6zM1439 1073h1.6v3h-1.6zM1439 1070h1.6v3h-1.6zM1439 1067h1.6v3h-1.6zM1439 1064h1.6v3h-1.6zM1439 1058h1.6v3h-1.6zM1439 1010h1.6v2h-1.6zM1440.6 1046h1.6v2h-1.6zM1440.6 1044h1.6v2h-1.6zM1440.6 992h1.6v2h-1.6zM1443.8 1070h1.6v3h-1.6zM1443.8 1067h1.6v3h-1.6zM1443.8 1061h1.6v3h-1.6zM1443.8 1054h1.6v2h-1.6zM1443.8 1052h1.6v2h-1.6zM1443.8 1046h1.6v2h-1.6zM1443.8 1042h1.6v2h-1.6zM1443.8 1040h1.6v2h-1.6zM1443.8 1036h1.6v2h-1.6zM1443.8 1034h1.6v2h-1.6zM1443.8 1030h1.6v2h-1.6zM1443.8 1028h1.6v2h-1.6zM1443.8 1026h1.6v2h-1.6zM1443.8 1022h1.6v2h-1.6zM1443.8 1020h1.6v2h-1.6zM1443.8 1008h1.6v2h-1.6zM1447 1091h1.6v3h-1.6zM1447 1088h1.6v3h-1.6zM1448.6 1094h1.6v3h-1.6zM1448.6 1010h1.6v2h-1.6zM1450.2 1085h1.6v3h-1.6zM1450.2 1079h1.6v3h-1.6zM1450.2 1067h1.6v3h-1.6zM1451.8 1032h1.6v2h-1.6zM1453.4 1106h1.6v15h-1.6zM1453.4 1082h1.6v3h-1.6zM1453.4 1036h1.6v2h-1.6zM1455 1082h1.6v3h-1.6zM1456.6 1094h1.6v3h-1.6zM1458.2 1038h1.6v2h-1.6zM1458.2 1016h1.6v2h-1.6zM1459.8 1097h1.6v9h-1.6zM1459.8 1106h1.6v15h-1.6zM1463 1094h1.6v3h-1.6zM1463 1042h1.6v2h-1.6zM1464.6 1000h1.6v2h-1.6zM1466.2 1020h1.6v2h-1.6zM1471 1094h1.6v3h-1.6zM1471 992h1.6v2h-1.6zM1472.6 1088h1.6v3h-1.6zM1472.6 1085h1.6v3h-1.6zM1472.6 1082h1.6v3h-1.6zM1472.6 1079h1.6v3h-1.6zM1472.6 1073h1.6v3h-1.6zM1472.6 1061h1.6v3h-1.6zM1472.6 1042h1.6v2h-1.6zM1474.2 1097h1.6v9h-1.6zM1474.2 1106h1.6v15h-1.6zM853.6 985.8h1.5v1.5h-1.5zM1357 1076.1h1.5v1.5h-1.5zM1073.4 1075.9h1.5v1.5h-1.5zM995 1084.5h1.5v1.5h-1.5zM1058.1 1018.4h1.5v1.5h-1.5zM1071.8 1058.8h1.5v1.5h-1.5zM1365 1060.9h1.5v1.5h-1.5zM965.8 980.7h1.5v1.5h-1.5zM892 1021.4h1.5v1.5h-1.5zM1008 1023.7h1.5v1.5h-1.5zM1408.1 1027.6h1.5v1.5h-1.5zM1376.9 1006.7h1.5v1.5h-1.5zM986.1 1075.5h1.5v1.5h-1.5zM1342.9 1055.3h1.5v1.5h-1.5zM850.7 1078.4h1.5v1.5h-1.5zM1468.3 988.4h1.5v1.5h-1.5zM954.5 1011.9h1.5v1.5h-1.5zM1417 1033.9h1.5v1.5h-1.5zM986.5 1046.4h1.5v1.5h-1.5zM1058.7 989h1.5v1.5h-1.5zM829 1075.8h1.5v1.5h-1.5zM958.2 1055.5h1.5v1.5h-1.5zM1375.4 1013.5h1.5v1.5h-1.5zM885.7 1087.3h1.5v1.5h-1.5zM847.9 1002h1.5v1.5h-1.5zM1039.6 1020.8h1.5v1.5h-1.5zM1391.9 1072h1.5v1.5h-1.5zM1068.1 1020.6h1.5v1.5h-1.5zM978.9 1080.8h1.5v1.5h-1.5zM1451 1027.8h1.5v1.5h-1.5zM1418.9 988h1.5v1.5h-1.5zM989.8 1013.6h1.5v1.5h-1.5zM998.2 1083.8h1.5v1.5h-1.5zM1088 1035.3h1.5v1.5h-1.5zM1004.6 999.2h1.5v1.5h-1.5zM1417.8 1052.3h1.5v1.5h-1.5zM1088.3 1048.2h1.5v1.5h-1.5zM1370.5 1091h1.5v1.5h-1.5zM854.9 973.4h1.5v1.5h-1.5zM1090.3 995.7h1.5v1.5h-1.5zM1078.9 972.4h1.5v1.5h-1.5zM853.5 1060.1h1.5v1.5h-1.5zM851.3 1025.1h1.5v1.5h-1.5zM1001.3 1014.8h1.5v1.5h-1.5zM982.9 1033.9h1.5v1.5h-1.5zM1434.4 1070.6h1.5v1.5h-1.5zM918.2 1007.2h1.5v1.5h-1.5zM1454.1 1083.2h1.5v1.5h-1.5zM1079.4 1029.7h1.5v1.5h-1.5zM1051.4 1077.9h1.5v1.5h-1.5zM1469.4 1086.2h1.5v1.5h-1.5zM1421 1048.9h1.5v1.5h-1.5zM1024.9 1016.6h1.5v1.5h-1.5zM1431.8 1055.7h1.5v1.5h-1.5zM925.5 1085.6h1.5v1.5h-1.5zM1088.7 994.5h1.5v1.5h-1.5zM972.1 1004.3h1.5v1.5h-1.5zM1466.4 1032.8h1.5v1.5h-1.5zM1371.6 1051.6h1.5v1.5h-1.5zM1034.2 973.9h1.5v1.5h-1.5zM820.3 1046h1.5v1.5h-1.5zM978.3 985.3h1.5v1.5h-1.5zM982.6 1068.2h1.5v1.5h-1.5zM949.3 977.4h1.5v1.5h-1.5zM1026.8 976.7h1.5v1.5h-1.5zM1041.1 1045.1h1.5v1.5h-1.5zM850.7 1064.9h1.5v1.5h-1.5zM1066 986.7h1.5v1.5h-1.5zM1059.3 1001.9h1.5v1.5h-1.5zM1015.5 1012.7h1.5v1.5h-1.5zM842.4 1034.7h1.5v1.5h-1.5zM1030 1079.1h1.5v1.5h-1.5zM1441.1 974h1.5v1.5h-1.5zM896.1 1044h1.5v1.5h-1.5zM972.9 1060h1.5v1.5h-1.5zM1409.9 1045.8h1.5v1.5h-1.5zM1369.4 1012.4h1.5v1.5h-1.5zM988.6 1028.1h1.5v1.5h-1.5zM1428.3 1090.2h1.5v1.5h-1.5zM843.4 1053.9h1.5v1.5h-1.5zM979.3 990.6h1.5v1.5h-1.5zM1356.8 1083.7h1.5v1.5h-1.5zM1470.2 1074h1.5v1.5h-1.5zM904.3 1070.2h1.5v1.5h-1.5zM1082.2 1061.6h1.5v1.5h-1.5zM1036.5 998.6h1.5v1.5h-1.5zM884.9 1061.2h1.5v1.5h-1.5zM821.7 1055.8h1.5v1.5h-1.5zM817.7 1093.7h1.5v1.5h-1.5zM1436.3 987h1.5v1.5h-1.5zM1405.2 981.7h1.5v1.5h-1.5zM1403.9 1054.8h1.5v1.5h-1.5zM1371.1 1093h1.5v1.5h-1.5zM1432.1 1076.4h1.5v1.5h-1.5zM1380.2 1010.9h1.5v1.5h-1.5zM855.1 1010.2h1.5v1.5h-1.5zM1059 1005.7h1.5v1.5h-1.5zM841.8 1002.6h1.5v1.5h-1.5zM959.5 1090.7h1.5v1.5h-1.5zM1392.4 999.8h1.5v1.5h-1.5zM1064.4 1052.4h1.5v1.5h-1.5zM1344.1 980.6h1.5v1.5h-1.5zM1355.5 1046.2h1.5v1.5h-1.5zM1046.4 1077.7h1.5v1.5h-1.5zM957.4 1020.3h1.5v1.5h-1.5zM998.8 1069.1h1.5v1.5h-1.5zM861.4 1071.3h1.5v1.5h-1.5zM1453.7 983.7h1.5v1.5h-1.5zM1402.1 1076.7h1.5v1.5h-1.5zM988.8 1073.2h1.5v1.5h-1.5zM1011.4 1049h1.5v1.5h-1.5zM1040.2 1002.3h1.5v1.5h-1.5zM1060.5 979.3h1.5v1.5h-1.5zM1332.3 1004.3h1.5v1.5h-1.5zM1384 1093.5h1.5v1.5h-1.5zM930.1 1057.8h1.5v1.5h-1.5zM1346.9 1063.3h1.5v1.5h-1.5zM1450.8 976.3h1.5v1.5h-1.5zM1348.4 1082.8h1.5v1.5h-1.5zM1361.4 997.8h1.5v1.5h-1.5zM870.2 1084.5h1.5v1.5h-1.5zM1049.9 1034.7h1.5v1.5h-1.5zM978 1082.1h1.5v1.5h-1.5zM815.4 1009.1h1.5v1.5h-1.5zM1091.6 982.4h1.5v1.5h-1.5zM1340.7 1085h1.5v1.5h-1.5zM1393.2 1016.8h1.5v1.5h-1.5zM829.3 1052.7h1.5v1.5h-1.5zM1330 1042.3h1.5v1.5h-1.5zM1419 989.1h1.5v1.5h-1.5zM1052.2 1003.2h1.5v1.5h-1.5zM1024.2 1071.9h1.5v1.5h-1.5zM970.4 1060.5h1.5v1.5h-1.5zM1039.1 1008.2h1.5v1.5h-1.5zM1067 1066.5h1.5v1.5h-1.5zM1028.5 1093.6h1.5v1.5h-1.5zM1002.6 1073.3h1.5v1.5h-1.5zM1338 1036.6h1.5v1.5h-1.5zM1326.5 1008.3h1.5v1.5h-1.5zM879.7 1082.5h1.5v1.5h-1.5zM974.9 1050.5h1.5v1.5h-1.5zM1007 1089.6h1.5v1.5h-1.5zM982.5 1035.9h1.5v1.5h-1.5zM1088 1030.3h1.5v1.5h-1.5zM1353.3 973.3h1.5v1.5h-1.5zM1392.4 1064.1h1.5v1.5h-1.5zM1077.1 1013h1.5v1.5h-1.5zM1077 1013.3h1.5v1.5h-1.5zM1043.4 988.9h1.5v1.5h-1.5zM1020.6 1067.5h1.5v1.5h-1.5zM847.1 1017h1.5v1.5h-1.5zM1030.7 997.6h1.5v1.5h-1.5zM1338.7 1022.8h1.5v1.5h-1.5zM1351.9 1009.8h1.5v1.5h-1.5zM1042.5 1017.4h1.5v1.5h-1.5zM834.6 1052.7h1.5v1.5h-1.5zM1353.7 1030.1h1.5v1.5h-1.5zM1389.8 1055.4h1.5v1.5h-1.5zM886.9 1051.2h1.5v1.5h-1.5zM1061 1080.5h1.5v1.5h-1.5zM1348.2 975.7h1.5v1.5h-1.5zM1072.7 1078.6h1.5v1.5h-1.5zM1028.2 1001.8h1.5v1.5h-1.5zM1455.4 1033.2h1.5v1.5h-1.5zM1436.7 1015.4h1.5v1.5h-1.5zM989.5 1003.6h1.5v1.5h-1.5zM1450 1034.5h1.5v1.5h-1.5zM855.7 988h1.5v1.5h-1.5z"/>
<path fill="#0048ff" d="M815 1094h1.6v3h-1.6zM815 1091h1.6v3h-1.6zM818.2 1085h1.6v3h-1.6zM819.8 1097h1.6v9h-1.6zM819.8 1094h1.6v3h-1.6zM823 1091h1.6v3h-1.6zM823 1088h1.6v3h-1.6zM827.8 1094h1.6v3h-1.6zM832.6 1085h1.6v3h-1.6zM832.6 1064h1.6v3h-1.6zM832.6 978h1.6v2h-1.6zM834.2 1106h1.6v15h-1.6zM834.2 1091h1.6v3h-1.6zM834.2 1088h1.6v3h-1.6zM837.4 1091h1.6v3h-1.6zM840.6 1094h1.6v3h-1.6zM843.8 1091h1.6v3h-1.6zM843.8 1085h1.6v3h-1.6zM845.4 1094h1.6v3h-1.6zM847 1094h1.6v3h-1.6zM848.6 1091h1.6v3h-1.6zM848.6 1088h1.6v3h-1.6zM848.6 1085h1.6v3h-1.6zM855 1094h1.6v3h-1.6zM855 1091h1.6v3h-1.6zM856.6 1040h1.6v2h-1.6zM861.4 1094h1.6v3h-1.6zM864.6 1010h1.6v2h-1.6zM866.2 1094h1.6v3h-1.6zM867.8 1091h1.6v3h-1.6zM871 1094h1.6v3h-1.6zM874.2 1097h1.6v9h-1.6zM874.2 1106h1.6v15h-1.6zM874.2 1094h1.6v3h-1.6zM882.2 1097h1.6v9h-1.6zM882.2 1106h1.6v15h-1.6zM883.8 1106h1.6v15h-1.6zM885.4 1094h1.6v3h-1.6zM885.4 1091h1.6v3h-1.6zM885.4 1088h1.6v3h-1.6zM887 1097h1.6v9h-1.6zM887 1106h1.6v15h-1.6zM887 1018h1.6v2h-1.6zM891.8 1016h1.6v2h-1.6zM893.4 1094h1.6v3h-1.6zM899.8 1094h1.6v3h-1.6zM899.8 1088h1.6v3h-1.6zM899.8 1085h1.6v3h-1.6zM901.4 1064h1.6v3h-1.6zM901.4 1008h1.6v2h-1.6zM903 1088h1.6v3h-1.6zM909.4 1094h1.6v3h-1.6zM909.4 1032h1.6v2h-1.6zM912.6 1097h1.6v9h-1.6zM912.6 1106h1.6v15h-1.6zM917.4 1106h1.6v15h-1.6zM917.4 986h1.6v2h-1.6zM919 1097h1.6v9h-1.6zM919 1106h1.6v15h-1.6zM923.8 1097h1.6v9h-1.6zM923.8 1106h1.6v15h-1.6zM925.4 1097h1.6v9h-1.6zM925.4 1106h1.6v15h-1.6zM925.4 1034h1.6v2h-1.6zM931.8 1097h1.6v9h-1.6zM931.8 1106h1.6v15h-1.6zM931.8 1022h1.6v2h-1.6zM935 1050h1.6v2h-1.6zM939.8 984h1.6v2h-1.6zM946.2 1094h1.6v3h-1.6zM947.8 1106h1.6v15h-1.6zM951 1106h1.6v15h-1.6zM951 1094h1.6v3h-1.6zM952.6 994h1.6v2h-1.6zM952.6 988h1.6v2h-1.6zM955.8 1026h1.6v2h-1.6zM957.4 1097h1.6v9h-1.6zM957.4 1106h1.6v15h-1.6zM960.6 1094h1.6v3h-1.6zM960.6 1091h1.6v3h-1.6zM965.4 1024h1.6v2h-1.6zM968.6 1094h1.6v3h-1.6zM968.6 1050h1.6v2h-1.6zM975 1012h1.6v2h-1.6zM976.6 1082h1.6v3h-1.6zM976.6 1076h1.6v3h-1.6zM978.2 1070h1.6v3h-1.6zM979.8 1042h1.6v2h-1.6zM981.4 1097h1.6v9h-1.6zM983 1097h1.6v9h-1.6zM983 1106h1.6v15h-1.6zM983 1094h1.6v3h-1.6zM984.6 1106h1.6v15h-1.6zM984.6 1018h1.6v2h-1.6zM989.4 1091h1.6v3h-1.6zM989.4 1088h1.6v3h-1.6zM989.4 1085h1.6v3h-1.6zM989.4 1082h1.6v3h-1.6zM991 1097h1.6v9h-1.6zM991 1106h1.6v15h-1.6zM991 1094h1.6v3h-1.6zM991 1091h1.6v3h-1.6zM991 1082h1.6v3h-1.6zM991 1064h1.6v3h-1.6zM992.6 1091h1.6v3h-1.6zM994.2 1097h1.6v9h-1.6zM994.2 1014h1.6v2h-1.6zM999 1097h1.6v9h-1.6zM999 1106h1.6v15h-1.6zM1002.2 1094h1.6v3h-1.6zM1002.2 1088h1.6v3h-1.6zM1005.4 1032h1.6v2h-1.6zM1007 1097h1.6v9h-1.6zM1007 1106h1.6v15h-1.6zM1008.6 1097h1.6v9h-1.6zM1010.2 1091h1.6v3h-1.6zM1010.2 1088h1.6v3h-1.6zM1010.2 1082h1.6v3h-1.6zM1010.2 1076h1.6v3h-1.6zM1016.6 1091h1.6v3h-1.6zM1016.6 1082h1.6v3h-1.6zM1016.6 1079h1.6v3h-1.6zM1016.6 1076h1.6v3h-1.6zM1016.6 1044h1.6v2h-1.6zM1016.6 1006h1.6v2h-1.6zM1021.4 1030h1.6v2h-1.6zM1023 1040h1.6v2h-1.6zM1027.8 1097h1.6v9h-1.6zM1027.8 1106h1.6v15h-1.6zM1029.4 1076h1.6v3h-1.6zM1029.4 1073h1.6v3h-1.6zM1029.4 1070h1.6v3h-1.6zM1029.4 1064h1.6v3h-1.6zM1029.4 1058h1.6v3h-1.6zM1029.4 1056h1.6v2h-1.6zM1029.4 1054h1.6v2h-1.6zM1029.4 1052h1.6v2h-1.6zM1029.4 1046h1.6v2h-1.6zM1029.4 1042h1.6v2h-1.6zM1031 1097h1.6v9h-1.6zM1031 1067h1.6v3h-1.6zM1032.6 1010h1.6v2h-1.6zM1039 1085h1.6v3h-1.6zM1039 1082h1.6v3h-1.6zM1039 980h1.6v2h-1.6zM1040.6 1091h1.6v3h-1.6zM1040.6 1085h1.6v3h-1.6zM1040.6 1082h1.6v3h-1.6zM1040.6 1079h1.6v3h-1.6zM1042.2 1085h1.6v3h-1.6zM1042.2 1054h1.6v2h-1.6zM1043.8 1094h1.6v3h-1.6zM1043.8 1085h1.6v3h-1.6zM1043.8 982h1.6v2h-1.6zM1045.4 1085h1.6v3h-1.6zM1048.6 1073h1.6v3h-1.6zM1048.6 1061h1.6v3h-1.6zM1048.6 1056h1.6v2h-1.6zM1048.6 1044h1.6v2h-1.6zM1050.2 1064h1.6v3h-1.6zM1050.2 1061h1.6v3h-1.6zM1050.2 1058h1.6v3h-1.6zM1050.2 1056h1.6v2h-1.6zM1050.2 980h1.6v2h-1.6zM1051.8 1094h1.6v3h-1.6zM1051.8 1091h1.6v3h-1.6zM1053.4 1094h1.6v3h-1.6zM1053.4 1088h1.6v3h-1.6zM1053.4 1076h1.6v3h-1.6zM1053.4 1073h1.6v3h-1.6zM1053.4 1067h1.6v3h-1.6zM1055 1079h1.6v3h-1.6zM1055 1076h1.6v3h-1.6zM1055 1070h1.6v3h-1.6zM1055 1067h1.6v3h-1.6zM1055 1064h1.6v3h-1.6zM1055 1061h1.6v3h-1.6zM1055 1054h1.6v2h-1.6zM1055 1050h1.6v2h-1.6zM1055 1012h1.6v2h-1.6zM1056.6 1052h1.6v2h-1.6zM1056.6 1046h1.6v2h-1.6zM1056.6 1042h1.6v2h-1.6zM1056.6 1040h1.6v2h-1.6zM1056.6 1038h1.6v2h-1.6zM1056.6 1036h1.6v2h-1.6zM1056.6 994h1.6v2h-1.6zM1058.2 978h1.6v2h-1.6zM1061.4 1106h1.6v15h-1.6zM1061.4 1036h1.6v2h-1.6zM1063 1106h1.6v15h-1.6zM1064.6 1024h1.6v2h-1.6zM1067.8 1091h1.6v3h-1.6zM1067.8 1064h1.6v3h-1.6zM1069.4 1082h1.6v3h-1.6zM1071 1040h1.6v2h-1.6zM1072.6 1091h1.6v3h-1.6zM1072.6 1079h1.6v3h-1.6zM1075.8 1091h1.6v3h-1.6zM1075.8 1088h1.6v3h-1.6zM1075.8 1085h1.6v3h-1.6zM1075.8 1082h1.6v3h-1.6zM1075.8 1079h1.6v3h-1.6zM1080.6 1094h1.6v3h-1.6zM1080.6 980h1.6v2h-1.6zM1082.2 1067h1.6v3h-1.6zM1083.8 1106h1.6v15h-1.6zM1087 1094h1.6v3h-1.6zM1087 1012h1.6v2h-1.6zM1088.6 1088h1.6v3h-1.6zM1088.6 1000h1.6v2h-1.6zM1090.2 1097h1.6v9h-1.6zM1090.2 1094h1.6v3h-1.6zM1091.8 1094h1.6v3h-1.6zM1095 1094h1.6v3h-1.6zM1103 1006h1.6v2h-1.6zM1106.2 1016h1.6v2h-1.6zM1114.2 1106h1.6v15h-1.6zM1144.6 1014h1.6v2h-1.6zM1154.2 1085h1.6v3h-1.6zM1221.4 1046h1.6v2h-1.6zM1256.6 1064h1.6v3h-1.6zM1271 982h1.6v2h-1.6zM1274.2 1094h1.6v3h-1.6zM1280.6 1097h1.6v9h-1.6zM1280.6 1106h1.6v15h-1.6zM1287 1073h1.6v3h-1.6zM1295 1070h1.6v3h-1.6zM1298.2 984h1.6v2h-1.6zM1304.6 1097h1.6v9h-1.6zM1304.6 1106h1.6v15h-1.6zM1309.4 1091h1.6v3h-1.6zM1311 1097h1.6v9h-1.6zM1311 1106h1.6v15h-1.6zM1322.2 1097h1.6v9h-1.6zM1322.2 1106h1.6v15h-1.6zM1323.8 1088h1.6v3h-1.6zM1323.8 1082h1.6v3h-1.6zM1325.4 1082h1.6v3h-1.6zM1325.4 1002h1.6v2h-1.6zM1327 1094h1.6v3h-1.6zM1327 1091h1.6v3h-1.6zM1327 1088h1.6v3h-1.6zM1330.2 1106h1.6v15h-1.6zM1331.8 1088h1.6v3h-1.6zM1331.8 1085h1.6v3h-1.6zM1335 1094h1.6v3h-1.6zM1336.6 1085h1.6v3h-1.6zM1336.6 1082h1.6v3h-1.6zM1336.6 982h1.6v2h-1.6zM1339.8 1097h1.6v9h-1.6zM1339.8 1091h1.6v3h-1.6zM1339.8 1088h1.6v3h-1.6zM1339.8 1085h1.6v3h-1.6zM1341.4 1091h1.6v3h-1.6zM1341.4 1082h1.6v3h-1.6zM1346.2 1076h1.6v3h-1.6zM1346.2 1073h1.6v3h-1.6zM1346.2 1070h1.6v3h-1.6zM1346.2 1030h1.6v2h-1.6zM1347.8 1082h1.6v3h-1.6zM1349.4 986h1.6v2h-1.6zM1351 1094h1.6v3h-1.6zM1352.6 1010h1.6v2h-1.6zM1354.2 1091h1.6v3h-1.6zM1354.2 1085h1.6v3h-1.6zM1354.2 1032h1.6v2h-1.6zM1355.8 1052h1.6v2h-1.6zM1357.4 1094h1.6v3h-1.6zM1357.4 1091h1.6v3h-1.6zM1357.4 1088h1.6v3h-1.6zM1357.4 1085h1.6v3h-1.6zM1360.6 1094h1.6v3h-1.6zM1360.6 1082h1.6v3h-1.6zM1360.6 1079h1.6v3h-1.6zM1360.6 1076h1.6v3h-1.6zM1360.6 1073h1.6v3h-1.6zM1360.6 1070h1.6v3h-1.6zM1360.6 1067h1.6v3h-1.6zM1360.6 1064h1.6v3h-1.6zM1360.6 1061h1.6v3h-1.6zM1360.6 1058h1.6v3h-1.6zM1360.6 1056h1.6v2h-1.6zM1360.6 1048h1.6v2h-1.6zM1360.6 1046h1.6v2h-1.6zM1360.6 1044h1.6v2h-1.6zM1360.6 1040h1.6v2h-1.6zM1360.6 1032h1.6v2h-1.6zM1360.6 1030h1.6v2h-1.6zM1360.6 1028h1.6v2h-1.6zM1362.2 1070h1.6v3h-1.6zM1362.2 1067h1.6v3h-1.6zM1362.2 1061h1.6v3h-1.6zM1362.2 1056h1.6v2h-1.6zM1362.2 1054h1.6v2h-1.6zM1362.2 1052h1.6v2h-1.6zM1362.2 1050h1.6v2h-1.6zM1362.2 1042h1.6v2h-1.6zM1362.2 1034h1.6v2h-1.6zM1362.2 1032h1.6v2h-1.6zM1363.8 1094h1.6v3h-1.6zM1365.4 1082h1.6v3h-1.6zM1365.4 1079h1.6v3h-1.6zM1365.4 1076h1.6v3h-1.6zM1365.4 1073h1.6v3h-1.6zM1365.4 1070h1.6v3h-1.6zM1365.4 1067h1.6v3h-1.6zM1365.4 1064h1.6v3h-1.6zM1365.4 1061h1.6v3h-1.6zM1365.4 1056h1.6v2h-1.6zM1365.4 1050h1.6v2h-1.6zM1367 1079h1.6v3h-1.6zM1367 1028h1.6v2h-1.6zM1367 1024h1.6v2h-1.6zM1368.6 1079h1.6v3h-1.6zM1368.6 1076h1.6v3h-1.6zM1370.2 1094h1.6v3h-1.6zM1370.2 988h1.6v2h-1.6zM1371.8 1097h1.6v9h-1.6zM1371.8 1106h1.6v15h-1.6zM1371.8 994h1.6v2h-1.6zM1373.4 1079h1.6v3h-1.6zM1373.4 1073h1.6v3h-1.6zM1373.4 976h1.6v2h-1.6zM1376.6 1106h1.6v15h-1.6zM1376.6 1034h1.6v2h-1.6zM1378.2 1085h1.6v3h-1.6zM1378.2 996h1.6v2h-1.6zM1379.8 1106h1.6v15h-1.6zM1379.8 1064h1.6v3h-1.6zM1379.8 1054h1.6v2h-1.6zM1379.8 1048h1.6v2h-1.6zM1379.8 1046h1.6v2h-1.6zM1379.8 1044h1.6v2h-1.6zM1379.8 1042h1.6v2h-1.6zM1379.8 1038h1.6v2h-1.6zM1379.8 1034h1.6v2h-1.6zM1379.8 1028h1.6v2h-1.6zM1381.4 1091h1.6v3h-1.6zM1383 1082h1.6v3h-1.6zM1383 1079h1.6v3h-1.6zM1386.2 1073h1.6v3h-1.6zM1389.4 1097h1.6v9h-1.6zM1391 1056h1.6v2h-1.6zM1394.2 1106h1.6v15h-1.6zM1394.2 1091h1.6v3h-1.6zM1394.2 1073h1.6v3h-1.6zM1395.8 1088h1.6v3h-1.6zM1397.4 1094h1.6v3h-1.6zM1397.4 1091h1.6v3h-1.6zM1397.4 1088h1.6v3h-1.6zM1400.6 1091h1.6v3h-1.6zM1400.6 1088h1.6v3h-1.6zM1403.8 1020h1.6v2h-1.6zM1405.4 1097h1.6v9h-1.6zM1405.4 1106h1.6v15h-1.6zM1405.4 1094h1.6v3h-1.6zM1405.4 1091h1.6v3h-1.6zM1407 1088h1.6v3h-1.6zM1407 1085h1.6v3h-1.6zM1407 1079h1.6v3h-1.6zM1407 1076h1.6v3h-1.6zM1408.6 1085h1.6v3h-1.6zM1410.2 1067h1.6v3h-1.6zM1410.2 1014h1.6v2h-1.6zM1410.2 1012h1.6v2h-1.6zM1411.8 1076h1.6v3h-1.6zM1411.8 1073h1.6v3h-1.6zM1411.8 1070h1.6v3h-1.6zM1411.8 1067h1.6v3h-1.6zM1411.8 1061h1.6v3h-1.6zM1411.8 1056h1.6v2h-1.6zM1413.4 1067h1.6v3h-1.6zM1415 1085h1.6v3h-1.6zM1415 1082h1.6v3h-1.6zM1415 1079h1.6v3h-1.6zM1416.6 1097h1.6v9h-1.6zM1416.6 1106h1.6v15h-1.6zM1418.2 1097h1.6v9h-1.6zM1418.2 1106h1.6v15h-1.6zM1418.2 1094h1.6v3h-1.6zM1418.2 1088h1.6v3h-1.6zM1418.2 1085h1.6v3h-1.6zM1418.2 1082h1.6v3h-1.6zM1418.2 1079h1.6v3h-1.6zM1418.2 1076h1.6v3h-1.6zM1418.2 1073h1.6v3h-1.6zM1418.2 1070h1.6v3h-1.6zM1418.2 1067h1.6v3h-1.6zM1418.2 1064h1.6v3h-1.6zM1418.2 1061h1.6v3h-1.6zM1418.2 1058h1.6v3h-1.6zM1418.2 1056h1.6v2h-1.6zM1418.2 1054h1.6v2h-1.6zM1418.2 1052h1.6v2h-1.6zM1418.2 1046h1.6v2h-1.6zM1418.2 1038h1.6v2h-1.6zM1419.8 1091h1.6v3h-1.6zM1419.8 1082h1.6v3h-1.6zM1419.8 1079h1.6v3h-1.6zM1419.8 1076h1.6v3h-1.6zM1419.8 1073h1.6v3h-1.6zM1419.8 1070h1.6v3h-1.6zM1419.8 1061h1.6v3h-1.6zM1419.8 1056h1.6v2h-1.6zM1419.8 1012h1.6v2h-1.6zM1423 1085h1.6v3h-1.6zM1423 1082h1.6v3h-1.6zM1423 1079h1.6v3h-1.6zM1423 1076h1.6v3h-1.6zM1424.6 1079h1.6v3h-1.6zM1424.6 1076h1.6v3h-1.6zM1427.8 996h1.6v2h-1.6zM1431 1094h1.6v3h-1.6zM1431 1016h1.6v2h-1.6zM1431 988h1.6v2h-1.6zM1434.2 1094h1.6v3h-1.6zM1434.2 1091h1.6v3h-1.6zM1434.2 1088h1.6v3h-1.6zM1437.4 1094h1.6v3h-1.6zM1437.4 1028h1.6v2h-1.6zM1439 1091h1.6v3h-1.6zM1439 1088h1.6v3h-1.6zM1439 1082h1.6v3h-1.6zM1443.8 1085h1.6v3h-1.6zM1443.8 1082h1.6v3h-1.6zM1443.8 1079h1.6v3h-1.6zM1443.8 1076h1.6v3h-1.6zM1443.8 1073h1.6v3h-1.6zM1443.8 1064h1.6v3h-1.6zM1443.8 1048h1.6v2h-1.6zM1447 1097h1.6v9h-1.6zM1447 1106h1.6v15h-1.6zM1448.6 1058h1.6v3h-1.6zM1450.2 1006h1.6v2h-1.6zM1453.4 1097h1.6v9h-1.6zM1453.4 1094h1.6v3h-1.6zM1453.4 1091h1.6v3h-1.6zM1453.4 1085h1.6v3h-1.6zM1453.4 1024h1.6v2h-1.6zM1455 1097h1.6v9h-1.6zM1455 1106h1.6v15h-1.6zM1458.2 1006h1.6v2h-1.6zM1461.4 1022h1.6v2h-1.6zM1463 1106h1.6v15h-1.6zM1464.6 1097h1.6v9h-1.6zM1464.6 1106h1.6v15h-1.6zM1464.6 1094h1.6v3h-1.6zM1467.8 1088h1.6v3h-1.6zM1472.6 1094h1.6v3h-1.6zM1472.6 1091h1.6v3h-1.6zM1472.6 1046h1.6v2h-1.6z"/>
<path fill="#0078ff" d="M815 1106h1.6v15h-1.6zM816.6 1097h1.6v9h-1.6zM816.6 1106h1.6v15h-1.6zM819.8 1106h1.6v15h-1.6zM824.6 1097h1.6v9h-1.6zM832.6 1094h1.6v3h-1.6zM832.6 1091h1.6v3h-1.6zM832.6 1088h1.6v3h-1.6zM834.2 1097h1.6v9h-1.6zM840.6 1097h1.6v9h-1.6zM842.2 1097h1.6v9h-1.6zM842.2 1106h1.6v15h-1.6zM843.8 1094h1.6v3h-1.6zM845.4 1097h1.6v9h-1.6zM845.4 1106h1.6v15h-1.6zM853.4 1094h1.6v3h-1.6zM863 1106h1.6v15h-1.6zM869.4 1097h1.6v9h-1.6zM869.4 1106h1.6v15h-1.6zM879 1106h1.6v15h-1.6zM903 1097h1.6v9h-1.6zM903 1106h1.6v15h-1.6zM917.4 1097h1.6v9h-1.6zM935 1097h1.6v9h-1.6zM935 1106h1.6v15h-1.6zM936.6 1097h1.6v9h-1.6zM936.6 1106h1.6v15h-1.6zM954.2 1097h1.6v9h-1.6zM954.2 1106h1.6v15h-1.6zM970.2 1097h1.6v9h-1.6zM970.2 1106h1.6v15h-1.6zM976.6 1091h1.6v3h-1.6zM976.6 1088h1.6v3h-1.6zM976.6 1085h1.6v3h-1.6zM978.2 1094h1.6v3h-1.6zM978.2 1091h1.6v3h-1.6zM978.2 1088h1.6v3h-1.6zM978.2 1082h1.6v3h-1.6zM981.4 1106h1.6v15h-1.6zM984.6 1097h1.6v9h-1.6zM987.8 1097h1.6v9h-1.6zM987.8 1106h1.6v15h-1.6zM989.4 1094h1.6v3h-1.6zM992.6 1094h1.6v3h-1.6zM994.2 1106h1.6v15h-1.6zM1003.8 1094h1.6v3h-1.6zM1008.6 1106h1.6v15h-1.6zM1010.2 1097h1.6v9h-1.6zM1010.2 1106h1.6v15h-1.6zM1013.4 1097h1.6v9h-1.6zM1013.4 1106h1.6v15h-1.6zM1016.6 1088h1.6v3h-1.6zM1024.6 1097h1.6v9h-1.6zM1024.6 1106h1.6v15h-1.6zM1026.2 1097h1.6v9h-1.6zM1026.2 1106h1.6v15h-1.6zM1029.4 1094h1.6v3h-1.6zM1029.4 1088h1.6v3h-1.6zM1029.4 1082h1.6v3h-1.6zM1029.4 1079h1.6v3h-1.6zM1031 1094h1.6v3h-1.6zM1031 1091h1.6v3h-1.6zM1031 1088h1.6v3h-1.6zM1031 1085h1.6v3h-1.6zM1031 1082h1.6v3h-1.6zM1031 1079h1.6v3h-1.6zM1031 1076h1.6v3h-1.6zM1039 1094h1.6v3h-1.6zM1040.6 1094h1.6v3h-1.6zM1042.2 1106h1.6v15h-1.6zM1042.2 1088h1.6v3h-1.6zM1048.6 1082h1.6v3h-1.6zM1048.6 1070h1.6v3h-1.6zM1048.6 1067h1.6v3h-1.6zM1048.6 1064h1.6v3h-1.6zM1048.6 1058h1.6v3h-1.6zM1050.2 1079h1.6v3h-1.6zM1050.2 1076h1.6v3h-1.6zM1050.2 1073h1.6v3h-1.6zM1055 1094h1.6v3h-1.6zM1055 1091h1.6v3h-1.6zM1055 1088h1.6v3h-1.6zM1055 1085h1.6v3h-1.6zM1055 1082h1.6v3h-1.6zM1055 1073h1.6v3h-1.6zM1056.6 1073h1.6v3h-1.6zM1056.6 1064h1.6v3h-1.6zM1056.6 1061h1.6v3h-1.6zM1056.6 1058h1.6v3h-1.6zM1056.6 1054h1.6v2h-1.6zM1059.8 1097h1.6v9h-1.6zM1059.8 1106h1.6v15h-1.6zM1061.4 1097h1.6v9h-1.6zM1063 1088h1.6v3h-1.6zM1067.8 1094h1.6v3h-1.6zM1069.4 1091h1.6v3h-1.6zM1069.4 1085h1.6v3h-1.6zM1071 1091h1.6v3h-1.6zM1072.6 1094h1.6v3h-1.6zM1083.8 1097h1.6v9h-1.6zM1087 1097h1.6v9h-1.6zM1088.6 1091h1.6v3h-1.6zM1090.2 1106h1.6v15h-1.6zM1093.4 1097h1.6v9h-1.6zM1093.4 1106h1.6v15h-1.6zM1328.6 1106h1.6v15h-1.6zM1330.2 1097h1.6v9h-1.6zM1331.8 1097h1.6v9h-1.6zM1331.8 1106h1.6v15h-1.6zM1331.8 1094h1.6v3h-1.6zM1336.6 1091h1.6v3h-1.6zM1339.8 1106h1.6v15h-1.6zM1339.8 1094h1.6v3h-1.6zM1343 1097h1.6v9h-1.6zM1343 1106h1.6v15h-1.6zM1346.2 1091h1.6v3h-1.6zM1346.2 1088h1.6v3h-1.6zM1346.2 1085h1.6v3h-1.6zM1346.2 1082h1.6v3h-1.6zM1347.8 1094h1.6v3h-1.6zM1347.8 1091h1.6v3h-1.6zM1354.2 1094h1.6v3h-1.6zM1362.2 1094h1.6v3h-1.6zM1362.2 1091h1.6v3h-1.6zM1362.2 1085h1.6v3h-1.6zM1362.2 1079h1.6v3h-1.6zM1362.2 1073h1.6v3h-1.6zM1365.4 1094h1.6v3h-1.6zM1365.4 1091h1.6v3h-1.6zM1365.4 1088h1.6v3h-1.6zM1367 1091h1.6v3h-1.6zM1367 1085h1.6v3h-1.6zM1367 1082h1.6v3h-1.6zM1368.6 1094h1.6v3h-1.6zM1368.6 1088h1.6v3h-1.6zM1368.6 1085h1.6v3h-1.6zM1370.2 1097h1.6v9h-1.6zM1370.2 1106h1.6v15h-1.6zM1373.4 1106h1.6v15h-1.6zM1373.4 1088h1.6v3h-1.6zM1373.4 1085h1.6v3h-1.6zM1373.4 1082h1.6v3h-1.6zM1375 1097h1.6v9h-1.6zM1375 1106h1.6v15h-1.6zM1376.6 1097h1.6v9h-1.6zM1378.2 1094h1.6v3h-1.6zM1379.8 1085h1.6v3h-1.6zM1379.8 1082h1.6v3h-1.6zM1379.8 1079h1.6v3h-1.6zM1379.8 1076h1.6v3h-1.6zM1379.8 1073h1.6v3h-1.6zM1379.8 1070h1.6v3h-1.6zM1379.8 1061h1.6v3h-1.6zM1379.8 1058h1.6v3h-1.6zM1379.8 1050h1.6v2h-1.6zM1381.4 1094h1.6v3h-1.6zM1383 1094h1.6v3h-1.6zM1383 1091h1.6v3h-1.6zM1383 1088h1.6v3h-1.6zM1383 1085h1.6v3h-1.6zM1386.2 1091h1.6v3h-1.6zM1386.2 1088h1.6v3h-1.6zM1386.2 1085h1.6v3h-1.6zM1386.2 1082h1.6v3h-1.6zM1386.2 1079h1.6v3h-1.6zM1386.2 1076h1.6v3h-1.6zM1387.8 1106h1.6v15h-1.6zM1387.8 1091h1.6v3h-1.6zM1392.6 1091h1.6v3h-1.6zM1394.2 1094h1.6v3h-1.6zM1395.8 1091h1.6v3h-1.6zM1402.2 1094h1.6v3h-1.6zM1407 1091h1.6v3h-1.6zM1408.6 1088h1.6v3h-1.6zM1411.8 1094h1.6v3h-1.6zM1411.8 1091h1.6v3h-1.6zM1411.8 1082h1.6v3h-1.6zM1415 1094h1.6v3h-1.6zM1415 1091h1.6v3h-1.6zM1418.2 1091h1.6v3h-1.6zM1419.8 1094h1.6v3h-1.6zM1419.8 1088h1.6v3h-1.6zM1423 1094h1.6v3h-1.6zM1423 1091h1.6v3h-1.6zM1424.6 1094h1.6v3h-1.6zM1424.6 1091h1.6v3h-1.6zM1424.6 1088h1.6v3h-1.6zM1426.2 1097h1.6v9h-1.6zM1426.2 1106h1.6v15h-1.6zM1427.8 1106h1.6v15h-1.6zM1434.2 1106h1.6v15h-1.6zM1435.8 1094h1.6v3h-1.6zM1440.6 1097h1.6v9h-1.6zM1440.6 1106h1.6v15h-1.6zM1442.2 1097h1.6v9h-1.6zM1442.2 1106h1.6v15h-1.6zM1463 1097h1.6v9h-1.6zM1466.2 1097h1.6v9h-1.6zM1466.2 1106h1.6v15h-1.6zM1467.8 1094h1.6v3h-1.6z"/>
<path fill="#00a8ff" d="M815 1097h1.6v9h-1.6zM824.6 1106h1.6v15h-1.6zM827.8 1097h1.6v9h-1.6zM827.8 1106h1.6v15h-1.6zM840.6 1106h1.6v15h-1.6zM848.6 1097h1.6v9h-1.6zM848.6 1106h1.6v15h-1.6zM861.4 1097h1.6v9h-1.6zM861.4 1106h1.6v15h-1.6zM863 1097h1.6v9h-1.6zM871 1097h1.6v9h-1.6zM871 1106h1.6v15h-1.6zM879 1097h1.6v9h-1.6zM975 1097h1.6v9h-1.6zM975 1106h1.6v15h-1.6zM992.6 1097h1.6v9h-1.6zM992.6 1106h1.6v15h-1.6zM1000.6 1097h1.6v9h-1.6zM1000.6 1106h1.6v15h-1.6zM1002.2 1097h1.6v9h-1.6zM1002.2 1106h1.6v15h-1.6zM1011.8 1097h1.6v9h-1.6zM1011.8 1106h1.6v15h-1.6zM1021.4 1106h1.6v15h-1.6zM1029.4 1097h1.6v9h-1.6zM1029.4 1106h1.6v15h-1.6zM1042.2 1097h1.6v9h-1.6zM1042.2 1094h1.6v3h-1.6zM1045.4 1097h1.6v9h-1.6zM1045.4 1106h1.6v15h-1.6zM1048.6 1088h1.6v3h-1.6zM1048.6 1085h1.6v3h-1.6zM1048.6 1079h1.6v3h-1.6zM1050.2 1094h1.6v3h-1.6zM1050.2 1088h1.6v3h-1.6zM1050.2 1085h1.6v3h-1.6zM1050.2 1082h1.6v3h-1.6zM1053.4 1106h1.6v15h-1.6zM1056.6 1097h1.6v9h-1.6zM1056.6 1091h1.6v3h-1.6zM1056.6 1088h1.6v3h-1.6zM1056.6 1085h1.6v3h-1.6zM1056.6 1082h1.6v3h-1.6zM1056.6 1079h1.6v3h-1.6zM1056.6 1070h1.6v3h-1.6zM1056.6 1067h1.6v3h-1.6zM1058.2 1106h1.6v15h-1.6zM1063 1094h1.6v3h-1.6zM1064.6 1097h1.6v9h-1.6zM1064.6 1106h1.6v15h-1.6zM1066.2 1097h1.6v9h-1.6zM1066.2 1106h1.6v15h-1.6zM1069.4 1094h1.6v3h-1.6zM1071 1097h1.6v9h-1.6zM1071 1106h1.6v15h-1.6zM1079 1097h1.6v9h-1.6zM1082.2 1097h1.6v9h-1.6zM1082.2 1106h1.6v15h-1.6zM1087 1106h1.6v15h-1.6zM1088.6 1097h1.6v9h-1.6zM1088.6 1106h1.6v15h-1.6zM1328.6 1097h1.6v9h-1.6zM1333.4 1097h1.6v9h-1.6zM1333.4 1106h1.6v15h-1.6zM1336.6 1094h1.6v3h-1.6zM1352.6 1097h1.6v9h-1.6zM1352.6 1106h1.6v15h-1.6zM1360.6 1097h1.6v9h-1.6zM1362.2 1097h1.6v9h-1.6zM1362.2 1106h1.6v15h-1.6zM1362.2 1088h1.6v3h-1.6zM1367 1094h1.6v3h-1.6zM1367 1088h1.6v3h-1.6zM1373.4 1097h1.6v9h-1.6zM1373.4 1091h1.6v3h-1.6zM1379.8 1094h1.6v3h-1.6zM1379.8 1088h1.6v3h-1.6zM1383 1097h1.6v9h-1.6zM1386.2 1106h1.6v15h-1.6zM1386.2 1094h1.6v3h-1.6zM1387.8 1097h1.6v9h-1.6zM1387.8 1094h1.6v3h-1.6zM1392.6 1094h1.6v3h-1.6zM1395.8 1094h1.6v3h-1.6zM1397.4 1097h1.6v9h-1.6zM1397.4 1106h1.6v15h-1.6zM1400.6 1097h1.6v9h-1.6zM1400.6 1106h1.6v15h-1.6zM1400.6 1094h1.6v3h-1.6zM1402.2 1097h1.6v9h-1.6zM1402.2 1106h1.6v15h-1.6zM1407 1106h1.6v15h-1.6zM1408.6 1094h1.6v3h-1.6zM1410.2 1106h1.6v15h-1.6zM1411.8 1097h1.6v9h-1.6zM1421.4 1094h1.6v3h-1.6zM1427.8 1097h1.6v9h-1.6zM1429.4 1097h1.6v9h-1.6zM1429.4 1106h1.6v15h-1.6zM1434.2 1097h1.6v9h-1.6zM1450.2 1097h1.6v9h-1.6zM1450.2 1106h1.6v15h-1.6zM1451.8 1097h1.6v9h-1.6zM1451.8 1106h1.6v15h-1.6zM1456.6 1097h1.6v9h-1.6zM1456.6 1106h1.6v15h-1.6z"/>
<path fill="#00d8ff" d="M971.8 1097h1.6v9h-1.6zM971.8 1106h1.6v15h-1.6zM978.2 1097h1.6v9h-1.6zM978.2 1106h1.6v15h-1.6zM997.4 1097h1.6v9h-1.6zM997.4 1106h1.6v15h-1.6zM1003.8 1097h1.6v9h-1.6zM1003.8 1106h1.6v15h-1.6zM1015 1097h1.6v9h-1.6zM1015 1106h1.6v15h-1.6zM1021.4 1097h1.6v9h-1.6zM1032.6 1097h1.6v9h-1.6zM1032.6 1106h1.6v15h-1.6zM1035.8 1097h1.6v9h-1.6zM1035.8 1106h1.6v15h-1.6zM1037.4 1106h1.6v15h-1.6zM1039 1097h1.6v9h-1.6zM1039 1106h1.6v15h-1.6zM1050.2 1097h1.6v9h-1.6zM1050.2 1106h1.6v15h-1.6zM1050.2 1091h1.6v3h-1.6zM1053.4 1097h1.6v9h-1.6zM1056.6 1106h1.6v15h-1.6zM1056.6 1094h1.6v3h-1.6zM1058.2 1097h1.6v9h-1.6zM1069.4 1097h1.6v9h-1.6zM1072.6 1097h1.6v9h-1.6zM1072.6 1106h1.6v15h-1.6zM1079 1106h1.6v15h-1.6zM1085.4 1097h1.6v9h-1.6zM1085.4 1106h1.6v15h-1.6zM1344.6 1097h1.6v9h-1.6zM1344.6 1106h1.6v15h-1.6zM1347.8 1106h1.6v15h-1.6zM1355.8 1097h1.6v9h-1.6zM1355.8 1106h1.6v15h-1.6zM1359 1097h1.6v9h-1.6zM1359 1106h1.6v15h-1.6zM1360.6 1106h1.6v15h-1.6zM1363.8 1097h1.6v9h-1.6zM1363.8 1106h1.6v15h-1.6zM1381.4 1097h1.6v9h-1.6zM1381.4 1106h1.6v15h-1.6zM1383 1106h1.6v15h-1.6zM1384.6 1097h1.6v9h-1.6zM1384.6 1106h1.6v15h-1.6zM1386.2 1097h1.6v9h-1.6zM1395.8 1097h1.6v9h-1.6zM1407 1097h1.6v9h-1.6zM1410.2 1097h1.6v9h-1.6zM1411.8 1106h1.6v15h-1.6zM1413.4 1097h1.6v9h-1.6zM1413.4 1106h1.6v15h-1.6zM1423 1106h1.6v15h-1.6z"/>
<path fill="#40ffc0" d="M1037.4 1097h1.6v9h-1.6zM1048.6 1097h1.6v9h-1.6zM1048.6 1106h1.6v15h-1.6zM1051.8 1097h1.6v9h-1.6zM1051.8 1106h1.6v15h-1.6zM1055 1097h1.6v9h-1.6zM1055 1106h1.6v15h-1.6zM1069.4 1106h1.6v15h-1.6zM1347.8 1097h1.6v9h-1.6zM1351 1097h1.6v9h-1.6zM1351 1106h1.6v15h-1.6zM1368.6 1097h1.6v9h-1.6zM1368.6 1106h1.6v15h-1.6zM1378.2 1097h1.6v9h-1.6zM1378.2 1106h1.6v15h-1.6zM1391 1097h1.6v9h-1.6zM1391 1106h1.6v15h-1.6zM1395.8 1106h1.6v15h-1.6zM1423 1097h1.6v9h-1.6z"/>
<rect x="980" y="1012" width="1.6" height="109" fill="url(#stk2)"/>
<rect x="1044.7" y="1000" width="1.6" height="121" fill="url(#stk2)"/>
<rect x="1061.7" y="995" width="1.6" height="126" fill="url(#stk2)"/>
<rect x="1055" y="1003" width="1.6" height="118" fill="url(#stk2)"/>
<rect x="1049" y="1006" width="1.6" height="115" fill="url(#stk2)"/>
<rect x="1066" y="1008" width="1.6" height="113" fill="url(#stk2)"/>
<rect x="1262" y="1013" width="1.2" height="108" fill="url(#stk2)"/>
<rect x="1283.7" y="1027" width="1.6" height="94" fill="url(#stk2)"/>
<rect x="1343" y="1040" width="1.6" height="81" fill="url(#stk2)"/>
<rect x="1349" y="1045" width="1.6" height="76" fill="url(#stk2)"/>
<rect x="1392" y="1040" width="1.6" height="81" fill="url(#stk2)"/>
<rect x="1385" y="1045" width="1.6" height="76" fill="url(#stk2)"/>
<rect x="1398" y="1042" width="1.6" height="79" fill="url(#stk2)"/>
<rect x="1406" y="1050" width="1.6" height="71" fill="url(#stk2)"/>
<line x1="880" y1="975.5" x2="1000" y2="975.5" stroke="#4070ff" stroke-width="1" stroke-dasharray="2 4" opacity="0.6"/>
<line x1="930" y1="984.5" x2="1110" y2="984.5" stroke="#4070ff" stroke-width="1" stroke-dasharray="2 4" opacity="0.6"/>
<line x1="1030" y1="1000.5" x2="1330" y2="1000.5" stroke="#4070ff" stroke-width="1" stroke-dasharray="2 4" opacity="0.6"/>
<line x1="1150" y1="1009.5" x2="1230" y2="1009.5" stroke="#4070ff" stroke-width="1" stroke-dasharray="2 4" opacity="0.6"/>
<rect x="980" y="1097" width="2" height="24" fill="#c0ff40"/>
<rect x="1044.5" y="1097" width="2" height="24" fill="#ff6000"/>
<rect x="1060" y="1097" width="2" height="24" fill="#ffff00"/>
<rect x="1062" y="1097" width="2" height="24" fill="#ffee00"/>
<rect x="1064" y="1097" width="2" height="24" fill="#f0ff20"/>
<rect x="1283.5" y="1097" width="2" height="24" fill="#a0ff60"/>
<rect x="1392" y="1097" width="2" height="24" fill="#c0ff40"/>
<rect x="1340" y="1097" width="2" height="24" fill="#40ffc0"/>
<rect x="1396" y="1097" width="2" height="24" fill="#80ff80"/>
</g>
<g shape-rendering="crispEdges">
<rect x="259.5" y="969.5" width="1551" height="153" fill="none" stroke="#000" stroke-width="1"/>
</g>
<text x="202.7" y="1005" font-size="28" fill="#000" textLength="31.6" lengthAdjust="spacingAndGlyphs">10</text>
<text x="234.2" y="988.2" font-size="18.5" fill="#000" style="stroke-width:0.1">-1</text>
<text x="202.7" y="1056" font-size="28" fill="#000" textLength="31.6" lengthAdjust="spacingAndGlyphs">10</text>
<text x="235.9" y="1039.2" font-size="18.5" fill="#000" style="stroke-width:0.1">0</text>
<text x="202.7" y="1107" font-size="28" fill="#000" textLength="31.6" lengthAdjust="spacingAndGlyphs">10</text>
<text x="237.2" y="1090.2" font-size="18.5" fill="#000" style="stroke-width:0.1">1</text>
<g transform="translate(183.8,1152) rotate(-90)">
<text x="-0.1" y="0" font-size="28" fill="#000" textLength="213.7" lengthAdjust="spacingAndGlyphs">Wavelength (km)</text>
</g>
<g shape-rendering="crispEdges">
<line x1="264.5" y1="1179.5" x2="1810.5" y2="1179.5" stroke="#000" stroke-width="1" stroke-dasharray="1 4" stroke-dashoffset="0"/>
<line x1="264.5" y1="1244.5" x2="1810.5" y2="1244.5" stroke="#000" stroke-width="1" stroke-dasharray="1 4" stroke-dashoffset="0"/>
<line x1="264.5" y1="1309.5" x2="1810.5" y2="1309.5" stroke="#000" stroke-width="1" stroke-dasharray="1 4" stroke-dashoffset="0"/>
<line x1="441.5" y1="1138.5" x2="441.5" y2="1355.5" stroke="#000" stroke-width="1" stroke-dasharray="1 4" stroke-dashoffset="0"/>
<line x1="622.5" y1="1138.5" x2="622.5" y2="1355.5" stroke="#000" stroke-width="1" stroke-dasharray="1 4" stroke-dashoffset="0"/>
<line x1="908.5" y1="1138.5" x2="908.5" y2="1355.5" stroke="#000" stroke-width="1" stroke-dasharray="1 4" stroke-dashoffset="0"/>
<line x1="1089.5" y1="1138.5" x2="1089.5" y2="1355.5" stroke="#000" stroke-width="1" stroke-dasharray="1 4" stroke-dashoffset="0"/>
<line x1="1269.5" y1="1138.5" x2="1269.5" y2="1355.5" stroke="#000" stroke-width="1" stroke-dasharray="1 4" stroke-dashoffset="0"/>
<line x1="1449.5" y1="1138.5" x2="1449.5" y2="1355.5" stroke="#000" stroke-width="1" stroke-dasharray="1 4" stroke-dashoffset="0"/>
<line x1="1629.5" y1="1138.5" x2="1629.5" y2="1355.5" stroke="#000" stroke-width="1" stroke-dasharray="1 4" stroke-dashoffset="0"/>
</g>
<g fill="none" stroke="#000" stroke-width="2" stroke-linejoin="round" stroke-linecap="round">
<polyline points="292.6,1134 296,1137 301.4,1141.6 299.4,1144 296,1140.4 293,1136.4"/>
<polyline points="305,1134 310,1138 315,1144 319,1150 317,1156 323,1162 331,1165 341,1170 351,1175 363,1173 371,1178 379,1183 387,1186 395,1188 401,1194 405,1201 411,1204 417,1208 423,1211 425,1213 427,1210 431,1207 435,1209 438,1214 438,1224 436,1232 431,1238 427,1244 423,1248 424,1256 427,1258 425,1260 421,1264 422,1270 426,1276 431,1282 435,1288 438,1294 440,1302 443,1306 447,1310 455,1314 463,1318 469,1324 470,1338 468,1355.4"/>
<polyline points="351,1134 350,1144 353,1150 357,1156 363,1163 371,1164 379,1160 381,1152 387,1149 397,1149 395,1158 393,1166 391,1174 399,1175 409,1176 413,1180 412,1188 411,1196 415,1203 423,1205 429,1203.6 435,1204 439,1206 441,1208 445,1200 453,1194 461,1192 465,1190 471,1194 479,1198 491,1197 501,1198 508,1197 509,1207 515,1208 521,1214 527,1218 539,1220 549,1224 555,1232 557,1240 555,1244 551,1248 559,1247 565,1248 575,1250 583,1253 595,1256 605,1260 611,1264 619,1268 622,1276 621,1284 615,1290 611,1296 605,1302 603,1310 604,1318 601,1326 599,1334 595,1340 587,1344 579,1348 571,1352 567,1355.4"/>
<polyline points="407,1147.6 413,1143 421,1141 429,1144 439,1148 447,1152 452,1156 447,1157 439,1153 431,1149 423,1146.4 415,1148 409,1149.2 407,1147.6"/>
<polyline points="454,1157 463,1155.6 471,1158 475,1162.4 467,1164.4 459,1162.4 454,1160 454,1157"/>
<polyline points="435,1164 440,1163.2 443.4,1165.2 439,1166.4 435,1165.6 435,1164"/>
<polyline points="482,1164 488,1163.6 489,1165.6 483,1166 482,1164"/>
<polyline points="445,1136 448,1140"/>
<polyline points="452,1143 455,1145"/>
<polyline points="457,1147 463,1148"/>
<polyline points="435,1135 438,1137"/>
<polyline points="505,1173.6 506.2,1174.8"/>
<polyline points="508.6,1179.6 510,1181"/>
<polyline points="463,1191 467,1190"/>
<polyline points="471,1191.6 475,1192.4"/>
<polyline points="463,1202 464.6,1205"/>
<polyline points="378,1246 380,1248"/>
<polyline points="551,1248 555,1246 558,1249"/>
<polyline points="561,1248 564,1250.4"/>
<polyline points="706,1134 700,1142 698,1148 701,1154 700,1160 702,1168 699,1174 697,1180 700,1186 701,1190 706,1194 712,1200 715,1206 714,1210 720,1214 728,1218 734,1223 740,1226 748,1223 756,1221 764,1222 772,1219 780,1217 790,1216 794,1220 796,1224 800,1226 808,1226 812,1230 814,1236 812,1243 811,1248 810,1252 816,1256 820,1260 822,1268 826,1274 829,1280 829,1288 831,1294 827,1300 824,1306 823,1314 822,1320 824,1326 828,1332 832,1338 834,1344 835,1355.4"/>
<polyline points="923,1134 926,1140 932,1146 934,1154 938,1162 942,1168 948,1174 954,1180 956,1186 958,1192 960,1194"/>
<polyline points="932,1134 937,1140 940,1148 946,1158 952,1168 956,1178 958,1188 970,1186 980,1182 992,1178 1000,1174 1008,1170 1014,1166 1020,1158 1024,1150 1029,1145 1024,1140 1016,1134"/>
<polyline points="992,1134 996,1137 1002,1136 1006,1134"/>
<polyline points="960,1194 970,1197 980,1194 992,1192 988,1204 984,1216 976,1228 968,1236 960,1243 952,1250 946,1256 942,1264 939,1270 942,1280 945,1288 947,1298 948,1308 942,1318 932,1326 922,1333 922,1344 924,1355.4"/>
<polyline points="960,1355.4 958,1340 962,1328 960,1318 968,1313 976,1307 982,1298 985,1297 989,1310 985,1328 980,1340 975,1355.4"/>
<polyline points="910,1245 917,1243.6 919.4,1248 917,1254 909,1255 907.6,1250 910,1245"/>
<polyline points="897,1259 899,1268 903,1277 905.6,1282"/>
<polyline points="918.4,1286 921,1296 923.6,1306"/>
<polyline points="828,1182.4 832,1184 837,1186 833,1189 830,1186"/>
<polyline points="808,1227 809.6,1229"/>
<polyline points="1009,1337 1011,1336"/>
<polyline points="1018,1333 1020,1332"/>
<polyline points="1060,1134 1065,1139 1070,1143 1073,1143.6 1071,1146.4 1078,1153 1083,1146.4 1084,1154 1086,1166 1089,1176 1092,1186 1096,1194 1100,1202 1105,1208 1107,1209"/>
<polyline points="1107,1209 1111,1203 1115,1198 1118,1188 1116,1177 1122,1172 1130,1166 1139,1159 1146,1152 1147,1148 1158,1148 1165,1144 1168,1150 1174,1156 1178,1166 1179,1174"/>
<polyline points="1115,1201 1119,1204 1123,1212 1123,1217 1118,1219 1115,1214 1115.6,1206 1115,1201"/>
<polyline points="1303,1288 1310,1285 1320,1280 1314,1286 1306,1289"/>
<polyline points="1326,1257 1334,1258"/>
<polyline points="1314,1259 1318,1258"/>
<polyline points="1334,1246 1342,1244 1350,1250 1358,1252 1370,1254 1382,1258 1394,1264 1406,1268 1410,1272 1414,1280 1420,1288 1410,1286 1400,1280 1390,1276 1380,1276 1370,1274 1366,1268 1360,1264 1350,1262 1342,1256 1336,1250 1334,1246"/>
<polyline points="1410,1268 1418,1266 1424,1262 1428,1258"/>
<polyline points="1422,1256 1428,1260"/>
<polyline points="1260,1355.4 1262,1342 1270,1336 1280,1332 1290,1328 1296,1320 1302,1318 1310,1308 1316,1306 1324,1308 1330,1304 1334,1296 1342,1294 1350,1296 1358,1298 1356,1308 1364,1316 1374,1322 1380,1316 1384,1302 1386,1292 1390,1300 1396,1308 1402,1324 1410,1334 1418,1342 1424,1348 1428,1355.4"/>
<polyline points="1184,1232 1186,1233"/>
<polyline points="1190,1237 1191,1239"/>
<polyline points="1197,1248 1199,1251"/>
<polyline points="1234,1255 1237,1257"/>
<polyline points="1350,1268 1351,1271"/>
<polyline points="1337,1276 1338,1278"/>
<polyline points="1356,1248 1358,1249"/>
<polyline points="1404,1253 1405,1253.6"/>
<polyline points="1631.7,1147.2 1634.8,1146.6"/>
<polyline points="1639.9,1148.3 1644.9,1150.3 1650,1153.3 1655,1158.4 1652,1161.4 1650,1156.4"/>
<polyline points="1410,1267.7 1418.1,1269.8 1426.2,1267.7 1430.3,1262.7 1426.2,1257.6 1421.1,1256.6 1425.2,1261.7 1422.2,1265.7 1416.1,1267.7"/>
<polyline points="1437.3,1267.7 1442.4,1271.8 1447.5,1276.8 1450.5,1279.9"/>
<polyline points="1453.5,1277.9 1458.6,1279.9"/>
<polyline points="1458.6,1284.9 1463.7,1282.9 1466.7,1286 1470.8,1290"/>
<polyline points="1410,1281.9 1416.1,1286 1420.1,1289 1414.1,1289 1410,1287"/>
<polyline points="1489,1309.2 1492,1313.3 1494.6,1316.7"/>
<polyline points="1535.6,1320.4 1539.6,1317.3 1543.7,1316.3 1546.7,1315.3 1541.6,1319.4 1537.6,1323.4 1534.5,1321.4"/>
<polyline points="1478.9,1334.6 1484.9,1338.6 1492,1342.7 1485.9,1339.6 1479.9,1336.6"/>
<polyline points="1577.1,1302.2 1584.2,1304.8"/>
<polyline points="1677.3,1320.4 1679.3,1322.4"/>
<polyline points="1410,1332.5 1416.1,1338.6 1420.1,1344.7 1424.2,1348.7 1428.2,1353.8"/>
<polyline points="1180,1175.2 1189.4,1170.5 1192.2,1174.2 1194.1,1182.7 1195.1,1190.2 1195.5,1197.8 1194.1,1205.3 1197.9,1211.9 1203.5,1218.5 1204.9,1226.9 1208.2,1233.5 1215.8,1238.2 1220.5,1237.3"/>
<polyline points="1220.5,1237.3 1217.6,1228.8 1215.8,1221.3 1211.1,1216.6 1204.5,1212.8 1199.8,1205.3 1198.8,1199.6 1201.6,1195.9 1208.2,1194.9 1213.9,1195.9 1219.5,1197.8 1223.3,1201.5 1223.3,1205.3 1228.9,1203.4 1232.7,1199.6 1236.5,1197.8 1240.2,1192.1 1242.1,1184.6 1242.1,1178.9 1239.3,1173.3 1234.6,1167.6 1228.9,1163.9 1226.1,1160.1 1228,1156.4 1232.7,1150.7 1240.2,1147.9 1244,1148.8 1245.9,1151.6 1249.6,1149.8 1255.3,1146.9 1261.9,1144.1 1269.4,1143.2 1274.1,1140.4 1278.8,1136.6 1283.5,1134.2"/>
<polyline points="1239.3,1158.2 1245.9,1155.4 1250.1,1158.2 1245.9,1164.8 1240.2,1162.9 1239.3,1158.2"/>
<polyline points="1289.6,1135.6 1296.7,1134.7 1295.8,1141.3 1292.9,1146.9 1289.2,1144.1 1289.6,1135.6"/>
<polyline points="1291.1,1162.9 1298.6,1163.4 1300,1170.5 1296.2,1177.1 1300,1181.8 1306.1,1185.5 1311.8,1190.2 1314.6,1195.9 1315.5,1201.5 1311.8,1205.3 1305.2,1202.5 1300.5,1195.9 1296.7,1191.2 1292.9,1190.2 1290.1,1182.7 1287.3,1174.2 1291.1,1162.9"/>
<polyline points="1300.5,1212.8 1305.2,1216.6 1311.8,1219.4 1315.5,1214.7 1313.6,1210.9"/>
<polyline points="1181.9,1220.4 1189.4,1220.4 1194.1,1223.2 1198.8,1227.9 1204.5,1233.5 1211.1,1237.3 1215.8,1239.2 1219.5,1246.7 1225.2,1252.4 1228,1256.1 1227.1,1268.4 1221.4,1268.4 1215.8,1263.6 1208.2,1256.1 1203.5,1248.6 1198.8,1241.1 1192.2,1233.5 1185.6,1226.9 1181.9,1220.4"/>
<polyline points="1226.1,1269.3 1232.7,1271.2 1245.9,1274 1260,1276.8 1274.1,1279.6 1288.2,1281.5 1302.4,1280.6 1311.8,1279.6 1319.3,1280.6 1316.5,1284.4 1307.1,1285.3 1292.9,1286.2 1274.1,1284.4 1260,1281.5 1245.9,1278.7 1232.7,1274.9 1226.1,1269.3"/>
<polyline points="1240.2,1238.2 1247.8,1235.4 1251.5,1231.6 1260,1227.9 1266.6,1224.1 1272.2,1219.4 1275.1,1214.7 1279.8,1216.6 1284.5,1221.3 1281.6,1228.8 1279.8,1234.5 1283.5,1241.1 1279.8,1243.9 1277.9,1250.5 1274.1,1255.2 1270.4,1258 1264.7,1259.9 1255.3,1257.1 1247.8,1256.1 1244.9,1250.5 1242.1,1245.8 1240.2,1238.2"/>
<polyline points="1288.2,1241.1 1292.9,1239.2 1302.4,1238.2 1309.9,1237.3 1310.8,1240.1 1302.4,1242 1294.8,1243.9 1292,1248.6 1295.8,1252.4 1302.4,1250.5 1304.2,1254.2 1298.6,1255.2 1299.5,1259.9 1301.4,1265.5 1298.6,1267.4 1294.8,1261.8 1291.1,1257.1 1289.2,1261.8 1286.4,1267.4 1284.5,1261.8 1283.5,1254.2 1286.4,1248.6 1288.2,1241.1"/>
<polyline points="1321.2,1235.4 1324.9,1238.2 1323.1,1242.9 1324.9,1250.5"/>
<polyline points="1184.7,1232.6 1186.6,1233.5"/>
<polyline points="1190.4,1237.3 1193.2,1241.1"/>
<polyline points="1196.9,1247.6 1198.8,1251.4"/>
<polyline points="1234.6,1254.2 1236.5,1256.1"/>
<polyline points="1307.1,1251.4 1311.8,1252.4"/>
<polyline points="1313.6,1258 1317.4,1259.9"/>
<polyline points="1323.1,1256.1 1334.4,1258.9"/>
<polyline points="1335.3,1274.9 1337.2,1278.7"/>
</g>
<polyline points="260,1267 295,1275 335,1282 385,1291 441,1297 447,1298 475,1290 513,1283 535,1268 575,1248 615,1228 645,1214 704,1198.5 760,1196 820,1197 880,1202 930,1208 960,1211 1000,1213 1040,1213.5 1090,1212 1150,1209.5 1210,1209 1270,1210 1330,1209.5 1390,1211 1430,1213 1491,1221 1572,1235.3 1632.8,1244.4 1713.8,1255.6 1810.5,1267.7" fill="none" stroke="#00ee00" stroke-width="4.6" stroke-linejoin="round"/>
<polyline points="260,1299 263,1299.2 266,1299.5 269,1299.7 272,1300 275,1300.2 278,1300.4 281,1300.6 284,1300.7 287,1300.8 290,1300.9 293,1301 296,1301 299,1301 302,1301 305,1301 308,1301 311,1301 314,1301 317,1301 320,1301 323,1301 326,1301 329,1301 332,1301 335,1301 338,1301 341,1301 344,1301 347,1300.9 350,1300.8 353,1300.6 356,1300.4 359,1300.2 362,1300 365,1299.8 368,1299.5 371,1299.3 374,1299.1 377,1298.8 380,1298.6 383,1298.3 386,1298.1 389,1297.8 392,1297.4 395,1297.1 398,1296.8 401,1296.5 404,1296.2 407,1295.8 410,1295.5 413,1295.2 416,1294.9 419,1294.6 422,1294.3 425,1294 428,1293.8 431,1293.5 434,1293.2 437,1292.9 440,1292.6 443,1292.3 446,1292 449,1291.7 452,1291.4 455,1291 458,1290.6 461,1290.2 464,1289.8 467,1289.4 470,1288.9 473,1288.5 476,1288 479,1287.5 482,1287 485,1286.5 488,1286 491,1285.4 494,1284.9 497,1284.4 500,1283.8 503,1283.3 506,1282.7 509,1282.1 512,1281.6 515,1281 518,1280.4 521,1279.8 524,1279.3 527,1278.6 530,1278 533,1277.4 536,1276.8 539,1276.1 542,1275.5 545,1274.8 548,1274.2 551,1273.5 554,1272.8 557,1272.2 560,1271.5 563,1270.8 566,1270.1 569,1269.4 572,1268.7 575,1268 578,1267.3 581,1266.6 584,1265.8 587,1265 590,1264.3 593,1263.5 596,1262.7 599,1261.9 602,1261.1 605,1260.4 608,1259.6 611,1258.9 614,1258.2 617,1257.6 620,1256.9 623,1256.3 626,1255.7 629,1255.1 632,1254.6 635,1254 638,1253.4 641,1252.8 644,1252.3 647,1251.7 650,1251.1 653,1250.4 656,1249.8 659,1249.1 662,1248.4 665,1247.7 668,1247 671,1246.3 674,1245.5 677,1244.8 680,1244" fill="none" stroke="#c00000" stroke-width="1.3" stroke-linejoin="round"/>
<polyline points="788,1244 816,1237.6" fill="none" stroke="#c00000" stroke-width="1.3" stroke-linejoin="round"/>
<polyline points="816,1237.6 817,1237.1 818,1236.6 819,1236.2 820,1235.7 821,1235.3 822,1235 823,1234.7 824,1234.4 825,1234.1 826,1233.9 827,1233.6 828,1233.4 829,1233.2 830,1233 831,1232.7 832,1232.5 833,1232.3 834,1232.1 835,1231.8 836,1231.6 837,1231.3 838,1231.1 839,1230.8 840,1230.6 841,1230.3 842,1230 843,1229.8 844,1229.5 845,1229.2 846,1229 847,1228.7 848,1228.5 849,1228.2 850,1228 851,1227.8 852,1227.5 853,1227.3 854,1227.1 855,1226.9 856,1226.7 857,1226.5 858,1226.3 859,1226 860,1225.8 861,1225.6 862,1225.4 863,1225.2 864,1225 865,1224.8 866,1224.6 867,1224.4 868,1224.1 869,1223.9 870,1223.7 871,1223.5 872,1223.3 873,1223.1 874,1222.9 875,1222.6 876,1222.4 877,1222.2 878,1222 879,1221.8 880,1221.6 881,1221.4 882,1221.1 883,1220.9 884,1220.7 885,1220.5 886,1220.3 887,1220.1 888,1219.9 889,1219.6 890,1219.4 891,1219.2 892,1219 893,1218.8 894,1218.6 895,1218.4 896,1218.1 897,1217.9 898,1217.7 899,1217.5 900,1217.3 901,1217.1 902,1216.9 903,1216.6 904,1216.4 905,1216.2 906,1216 907,1215.8 908,1215.6 909,1215.4 910,1215.1 911,1214.9 912,1214.7 913,1214.5 914,1214.3 915,1214.1 916,1213.9 917,1213.6 918,1213.4 919,1213.2 920,1213 921,1212.8 922,1212.6 923,1212.4 924,1212.1 925,1211.9 926,1211.7 927,1211.5 928,1211.3 929,1211.1 930,1210.9 931,1210.6 932,1210.4 933,1210.2 934,1210 935,1209.8 936,1209.6 937,1209.3 938,1209.1 939,1208.9 940,1208.7 941,1208.5 942,1208.2 943,1208 944,1207.8 945,1207.6 946,1207.4 947,1207.2 948,1207 949,1206.8 950,1206.6 951,1206.5 952,1206.3 953,1206.1 954,1205.9 955,1205.8 956,1205.6 957,1205.4 958,1205.3 959,1205.1 960,1204.9 961,1204.8 962,1204.6 963,1204.4 964,1204.2 965,1204.1 966,1203.9 967,1203.7 968,1203.5 969,1203.3 970,1203.1 971,1202.9 972,1202.7 973,1202.5 974,1202.4 975,1202.2 976,1202 977,1201.8 978,1201.6 979,1201.5 980,1201.3 981,1201.1 982,1201 983,1200.8 984,1200.6 985,1200.5 986,1200.3 987,1200.1 988,1200 989,1199.8 990,1199.6 991,1199.4 992,1199.2 993,1199 994,1198.8 995,1198.6 996,1198.4 997,1198.2 998,1198 999,1197.8 1000,1197.6 1001,1197.5 1002,1197.3 1003,1197.1 1004,1197 1005,1196.9 1006,1196.7 1007,1196.6 1008,1196.5 1009,1196.4 1010,1196.3 1011,1196.2 1012,1196.1 1013,1196 1014,1195.9 1015,1195.8 1016,1195.7 1017,1195.7 1018,1195.6 1019,1195.5 1020,1195.5 1021,1195.5 1022,1195.4 1023,1195.4 1024,1195.4 1025,1195.3 1026,1195.3 1027,1195.3 1028,1195.3 1029,1195.2 1030,1195.2 1031,1195.2 1032,1195.1 1033,1195.1 1034,1195 1035,1194.9 1036,1194.8 1037,1194.6 1038,1194.4 1039,1194.2 1040,1193.9 1041,1193.7 1042,1193.4 1043,1193.2 1044,1193 1045,1192.7 1046,1192.6 1047,1192.4 1048,1192.3 1049,1192.2 1050,1192 1051,1191.9 1052,1191.8 1053,1191.7 1054,1191.6 1055,1191.6 1056,1191.5 1057,1191.4 1058,1191.3 1059,1191.2 1060,1191.1 1061,1191 1062,1190.9 1063,1190.8 1064,1190.7 1065,1190.6 1066,1190.5 1067,1190.4 1068,1190.3 1069,1190.2 1070,1190.1 1071,1190 1072,1189.9 1073,1189.8 1074,1189.7 1075,1189.6 1076,1189.5 1077,1189.4 1078,1189.4 1079,1189.3 1080,1189.2 1081,1189.1 1082,1189 1083,1189 1084,1188.9 1085,1188.8 1086,1188.8 1087,1188.7 1088,1188.7 1089,1188.6 1090,1188.5 1091,1188.5 1092,1188.4 1093,1188.4 1094,1188.4 1095,1188.3 1096,1188.3 1097,1188.2 1098,1188.2 1099,1188.1 1100,1188.1 1101,1188.1 1102,1188 1103,1188 1104,1188 1105,1187.9 1106,1187.9 1107,1187.9 1108,1187.8 1109,1187.8 1110,1187.8 1111,1187.8 1112,1187.7 1113,1187.7 1114,1187.7 1115,1187.7 1116,1187.6 1117,1187.6 1118,1187.6 1119,1187.5 1120,1187.5 1121,1187.5 1122,1187.4 1123,1187.4 1124,1187.3 1125,1187.3 1126,1187.3 1127,1187.3 1128,1187.2 1129,1187.2 1130,1187.2 1131,1187.2 1132,1187.2 1133,1187.2 1134,1187.2 1135,1187.2 1136,1187.2 1137,1187.2 1138,1187.2 1139,1187.2 1140,1187.2 1141,1187.2 1142,1187.2 1143,1187.2 1144,1187.2 1145,1187.2 1146,1187.2 1147,1187.2 1148,1187.2 1149,1187.2 1150,1187.2 1151,1187.2 1152,1187.2 1153,1187.2 1154,1187.2 1155,1187.2 1156,1187.2 1157,1187.2 1158,1187.2 1159,1187.2 1160,1187.2 1161,1187.2 1162,1187.2 1163,1187.3 1164,1187.3 1165,1187.3 1166,1187.3 1167,1187.4 1168,1187.4 1169,1187.5 1170,1187.5 1171,1187.5 1172,1187.6 1173,1187.6 1174,1187.6 1175,1187.7 1176,1187.7 1177,1187.7 1178,1187.7 1179,1187.8 1180,1187.8 1181,1187.8 1182,1187.8 1183,1187.9 1184,1187.9 1185,1187.9 1186,1188 1187,1188 1188,1188 1189,1188.1 1190,1188.1 1191,1188.1 1192,1188.2 1193,1188.2 1194,1188.3 1195,1188.3 1196,1188.4 1197,1188.4 1198,1188.4 1199,1188.5 1200,1188.5 1201,1188.6 1202,1188.7 1203,1188.7 1204,1188.8 1205,1188.8 1206,1188.9 1207,1189 1208,1189.1 1209,1189.1 1210,1189.2 1211,1189.3 1212,1189.4 1213,1189.5 1214,1189.5 1215,1189.6 1216,1189.7 1217,1189.7 1218,1189.8 1219,1189.9 1220,1190 1221,1190 1222,1190.1 1223,1190.2 1224,1190.2 1225,1190.3 1226,1190.4 1227,1190.5 1228,1190.5 1229,1190.6 1230,1190.7 1231,1190.7 1232,1190.8 1233,1190.9 1234,1190.9 1235,1191 1236,1191 1237,1191.1 1238,1191.2 1239,1191.3 1240,1191.3 1241,1191.4 1242,1191.5 1243,1191.6 1244,1191.7 1245,1191.8 1246,1192 1247,1192.2 1248,1192.3 1249,1192.5 1250,1192.7 1251,1192.8 1252,1193 1253,1193.1 1254,1193.3 1255,1193.4 1256,1193.6 1257,1193.7 1258,1193.8 1259,1194 1260,1194.1 1261,1194.2 1262,1194.4 1263,1194.5 1264,1194.6 1265,1194.8 1266,1194.9 1267,1195 1268,1195.1 1269,1195.2 1270,1195.4 1271,1195.5 1272,1195.6 1273,1195.7 1274,1195.8 1275,1195.9 1276,1196 1277,1196.1 1278,1196.2 1279,1196.4 1280,1196.5 1281,1196.6 1282,1196.7 1283,1196.8 1284,1197 1285,1197.1 1286,1197.2 1287,1197.3 1288,1197.5 1289,1197.6 1290,1197.7 1291,1197.9 1292,1198 1293,1198.1 1294,1198.3 1295,1198.4 1296,1198.5 1297,1198.7 1298,1198.8 1299,1199 1300,1199.2 1301,1199.3 1302,1199.5 1303,1199.6 1304,1199.8 1305,1200 1306,1200.1 1307,1200.3 1308,1200.4 1309,1200.6 1310,1200.7 1311,1200.9 1312,1201 1313,1201.2 1314,1201.3 1315,1201.4 1316,1201.6 1317,1201.7 1318,1201.9 1319,1202 1320,1202.1 1321,1202.3 1322,1202.4 1323,1202.6 1324,1202.8 1325,1202.9 1326,1203.1 1327,1203.3 1328,1203.5 1329,1203.6 1330,1203.8 1331,1204 1332,1204.2 1333,1204.4 1334,1204.6 1335,1204.8 1336,1205" fill="none" stroke="#c00000" stroke-width="1.3" stroke-linejoin="round"/>
<polyline points="1336,1205 1339,1206.3 1342,1207.2 1345,1208 1348,1208.8 1351,1209.5 1354,1210.2 1357,1210.9 1360,1211.5 1363,1212.1 1366,1212.7 1369,1213.2 1372,1213.7 1375,1214.3 1378,1214.8 1381,1215.3 1384.1,1215.8 1387.1,1216.3 1390.1,1216.8 1393.1,1217.3 1396.1,1217.9 1399.1,1218.4 1402.1,1219 1405.1,1219.6 1408.1,1220.3 1411.1,1220.9 1414.1,1221.7 1417.1,1222.4 1420.1,1223.1 1423.1,1223.9 1426.1,1224.6 1429.1,1225.4 1432.1,1226.2 1435.1,1227 1438.1,1227.8 1441.1,1228.6 1444.1,1229.4 1447.1,1230.2 1450.1,1231.1 1453.1,1231.9 1456.1,1232.8 1459.1,1233.6 1462.1,1234.4 1465.1,1235.3 1468.1,1236.1 1471.1,1237 1474.1,1237.8 1477.1,1238.6 1480.2,1239.5 1483.2,1240.3 1486.2,1241.1 1489.2,1241.9 1492.2,1242.7 1495.2,1243.5 1498.2,1244.3 1501.2,1245.2 1504.2,1246 1507.2,1246.8 1510.2,1247.7 1513.2,1248.5 1516.2,1249.4 1519.2,1250.2 1522.2,1251.1 1525.2,1251.9 1528.2,1252.8 1531.2,1253.6 1534.2,1254.4 1537.2,1255.3 1540.2,1256.1 1543.2,1256.9 1546.2,1257.7 1549.2,1258.4 1552.2,1259.2 1555.2,1259.9 1558.2,1260.7 1561.2,1261.4 1564.2,1262.1 1567.2,1262.7 1570.2,1263.3 1573.2,1263.9 1576.3,1264.5 1579.3,1265.1 1582.3,1265.6 1585.3,1266.2 1588.3,1266.7 1591.3,1267.2 1594.3,1267.7 1597.3,1268.2 1600.3,1268.7 1603.3,1269.1 1606.3,1269.6 1609.3,1270.1 1612.3,1270.5 1615.3,1271 1618.3,1271.4 1621.3,1271.9 1624.3,1272.4 1627.3,1272.9 1630.3,1273.4 1633.3,1273.9 1636.3,1274.4 1639.3,1274.9 1642.3,1275.5 1645.3,1276 1648.3,1276.5 1651.3,1277.1 1654.3,1277.6 1657.3,1278.2 1660.3,1278.8 1663.3,1279.3 1666.3,1279.9 1669.4,1280.4 1672.4,1281 1675.4,1281.5 1678.4,1282.1 1681.4,1282.6 1684.4,1283.2 1687.4,1283.7 1690.4,1284.2 1693.4,1284.8 1696.4,1285.3 1699.4,1285.8 1702.4,1286.3 1705.4,1286.7 1708.4,1287.2 1711.4,1287.6 1714.4,1288.1 1717.4,1288.5 1720.4,1288.9 1723.4,1289.4 1726.4,1289.8 1729.4,1290.2 1732.4,1290.6 1735.4,1291 1738.4,1291.4 1741.4,1291.8 1744.4,1292.2 1747.4,1292.6 1750.4,1293 1753.4,1293.4 1756.4,1293.8 1759.4,1294.2 1762.4,1294.5 1765.5,1294.9 1768.5,1295.2 1771.5,1295.6 1774.5,1296 1777.5,1296.3 1780.5,1296.6 1783.5,1297 1786.5,1297.3 1789.5,1297.6 1792.5,1297.9 1795.5,1298.2 1798.5,1298.5 1801.5,1298.8 1804.5,1299.1 1807.5,1299.4 1810.5,1299.7" fill="none" stroke="#c00000" stroke-width="1.3" stroke-linejoin="round"/>
<path d="M829.9 1239.6L826.1 1226.7L816.1 1229.7L819.9 1242.7ZM843.7 1236.6L840.3 1223.5L830.3 1226.1L833.7 1239.2ZM857.5 1233.2L854.5 1220L844.5 1222.3L847.5 1235.5ZM871.4 1230.3L868.6 1217.1L858.6 1219.3L861.4 1232.5ZM885.4 1227.3L882.6 1214.1L872.6 1216.3L875.4 1229.5ZM899.4 1224.3L896.6 1211.1L886.6 1213.3L889.4 1226.5ZM913.4 1221.3L910.6 1208.1L900.6 1210.3L903.4 1223.5ZM927.4 1218.3L924.6 1205.1L914.6 1207.3L917.4 1220.5ZM941.4 1215.3L938.6 1202.1L928.6 1204.3L931.4 1217.5ZM955.2 1212.5L952.8 1199.3L942.8 1201.1L945.2 1214.4ZM969.2 1210.2L966.8 1196.9L956.8 1198.7L959.2 1212ZM983.2 1207.6L980.8 1194.3L970.8 1196.1L973.2 1209.3ZM997.2 1205.1L994.8 1191.8L984.8 1193.7L987.2 1207ZM1010.9 1202.9L1009.1 1189.5L999.1 1190.8L1000.9 1204.2ZM1024.3 1202.1L1023.7 1188.6L1013.7 1189L1014.3 1202.5ZM1038.4 1201.5L1037.6 1188L1027.6 1188.6L1028.4 1202.1ZM1052.9 1198.4L1051.1 1185L1041.1 1186.4L1042.9 1199.8ZM1066.7 1197.2L1065.3 1183.8L1055.3 1184.8L1056.7 1198.2ZM1080.6 1195.9L1079.4 1182.5L1069.4 1183.3L1070.6 1196.7ZM1094.4 1195.1L1093.6 1181.6L1083.6 1182.1L1084.4 1195.6ZM1108.2 1194.6L1107.8 1181.1L1097.8 1181.4L1098.2 1194.9ZM1122.2 1194.2L1121.8 1180.7L1111.8 1181L1112.2 1194.5ZM1136 1193.9L1136 1180.4L1126 1180.5L1126 1194ZM1150 1194L1150 1180.5L1140 1180.5L1140 1194ZM1164 1194L1164 1180.5L1154 1180.4L1154 1193.9ZM1177.8 1194.5L1178.2 1181L1168.2 1180.7L1167.8 1194.2ZM1191.8 1194.9L1192.2 1181.4L1182.2 1181.1L1181.8 1194.6ZM1205.6 1195.6L1206.4 1182.1L1196.4 1181.6L1195.6 1195.1ZM1219.5 1196.7L1220.5 1183.2L1210.5 1182.5L1209.5 1196ZM1233.5 1197.7L1234.5 1184.2L1224.5 1183.5L1223.5 1197ZM1247.3 1198.8L1248.7 1185.4L1238.7 1184.4L1237.3 1197.8ZM1257.6 1200.6L1259.4 1187.2L1249.4 1185.8L1247.6 1199.2ZM1271.7 1202.4L1273.3 1189L1263.3 1187.8L1261.7 1201.2ZM1285.7 1204L1287.3 1190.6L1277.3 1189.4L1275.7 1202.8ZM1299.5 1205.9L1301.5 1192.5L1291.5 1191.1L1289.5 1204.4ZM1313.5 1208.1L1315.5 1194.7L1305.5 1193.3L1303.5 1206.6ZM1327.4 1210.2L1329.6 1196.8L1319.6 1195.2L1317.4 1208.5Z" fill="#ff0000"/>
<path d="M1339 1212.5L1341.8 1199.3L1333.8 1197.6L1331 1210.9Z" fill="#ff0000"/>
<polygon points="440.5,1288.5 442.4,1293.5 447.6,1293.7 443.5,1297 444.9,1302.1 440.5,1299.2 436.1,1302.1 437.5,1297 433.4,1293.7 438.6,1293.5" fill="none" stroke="#e000e0" stroke-width="1.2"/>
<polygon points="580.5,1247.5 582.4,1252.5 587.6,1252.7 583.5,1256 584.9,1261.1 580.5,1258.2 576.1,1261.1 577.5,1256 573.4,1252.7 578.6,1252.5" fill="none" stroke="#e000e0" stroke-width="1.2"/>
<polygon points="1395,1177.5 1396.9,1182.5 1402.1,1182.7 1398,1186 1399.4,1191.1 1395,1188.2 1390.6,1191.1 1392,1186 1387.9,1182.7 1393.1,1182.5" fill="none" stroke="#e000e0" stroke-width="1.2"/>
<polygon points="1492,1195 1493.9,1200 1499.1,1200.2 1495,1203.5 1496.4,1208.6 1492,1205.7 1487.6,1208.6 1489,1203.5 1484.9,1200.2 1490.1,1200" fill="none" stroke="#e000e0" stroke-width="1.2"/>
<polygon points="1643.9,1226.8 1645.8,1231.8 1651,1232 1646.9,1235.3 1648.3,1240.4 1643.9,1237.5 1639.5,1240.4 1640.9,1235.3 1636.8,1232 1642,1231.8" fill="none" stroke="#e000e0" stroke-width="1.2"/>
<g shape-rendering="crispEdges">
<line x1="259.5" y1="1179.5" x2="275.5" y2="1179.5" stroke="#000" stroke-width="1"/>
<line x1="1794.5" y1="1179.5" x2="1810.5" y2="1179.5" stroke="#000" stroke-width="1"/>
<line x1="259.5" y1="1244.5" x2="275.5" y2="1244.5" stroke="#000" stroke-width="1"/>
<line x1="1794.5" y1="1244.5" x2="1810.5" y2="1244.5" stroke="#000" stroke-width="1"/>
<line x1="259.5" y1="1309.5" x2="275.5" y2="1309.5" stroke="#000" stroke-width="1"/>
<line x1="1794.5" y1="1309.5" x2="1810.5" y2="1309.5" stroke="#000" stroke-width="1"/>
<line x1="441.5" y1="1133.5" x2="441.5" y2="1148.5" stroke="#000" stroke-width="1"/>
<line x1="441.5" y1="1340.5" x2="441.5" y2="1355.5" stroke="#000" stroke-width="1"/>
<line x1="622.5" y1="1133.5" x2="622.5" y2="1148.5" stroke="#000" stroke-width="1"/>
<line x1="622.5" y1="1340.5" x2="622.5" y2="1355.5" stroke="#000" stroke-width="1"/>
<line x1="908.5" y1="1133.5" x2="908.5" y2="1148.5" stroke="#000" stroke-width="1"/>
<line x1="908.5" y1="1340.5" x2="908.5" y2="1355.5" stroke="#000" stroke-width="1"/>
<line x1="1089.5" y1="1133.5" x2="1089.5" y2="1148.5" stroke="#000" stroke-width="1"/>
<line x1="1089.5" y1="1340.5" x2="1089.5" y2="1355.5" stroke="#000" stroke-width="1"/>
<line x1="1269.5" y1="1133.5" x2="1269.5" y2="1148.5" stroke="#000" stroke-width="1"/>
<line x1="1269.5" y1="1340.5" x2="1269.5" y2="1355.5" stroke="#000" stroke-width="1"/>
<line x1="1449.5" y1="1133.5" x2="1449.5" y2="1148.5" stroke="#000" stroke-width="1"/>
<line x1="1449.5" y1="1340.5" x2="1449.5" y2="1355.5" stroke="#000" stroke-width="1"/>
<line x1="1629.5" y1="1133.5" x2="1629.5" y2="1148.5" stroke="#000" stroke-width="1"/>
<line x1="1629.5" y1="1340.5" x2="1629.5" y2="1355.5" stroke="#000" stroke-width="1"/>
<rect x="259.5" y="1133.5" width="1551" height="222" fill="none" stroke="#000" stroke-width="1"/>
</g>
<text x="186.9" y="1192.8" font-size="28" fill="#000" textLength="31.6" lengthAdjust="spacingAndGlyphs">15</text>
<text x="219.2" y="1178.3" font-size="18.5" fill="#000" style="stroke-width:0.1">o</text>
<text x="231.7" y="1192.8" font-size="28" fill="#000" textLength="20.5" lengthAdjust="spacingAndGlyphs">N</text>
<text x="215.1" y="1257.6" font-size="28" fill="#000" textLength="15.8" lengthAdjust="spacingAndGlyphs">0</text>
<text x="231.2" y="1245" font-size="18.5" fill="#000" style="stroke-width:0.1">o</text>
<text x="186.9" y="1322.6" font-size="28" fill="#000" textLength="31.6" lengthAdjust="spacingAndGlyphs">15</text>
<text x="219.2" y="1308.3" font-size="18.5" fill="#000" style="stroke-width:0.1">o</text>
<text x="233.2" y="1322.6" font-size="28" fill="#000" textLength="19" lengthAdjust="spacingAndGlyphs">S</text>
<text x="214.1" y="1410" font-size="28" fill="#000" textLength="80.5" lengthAdjust="spacingAndGlyphs">GLON</text>
<text x="404.8" y="1410" font-size="28" fill="#000" textLength="71.1" lengthAdjust="spacingAndGlyphs">283.3</text>
<text x="585.8" y="1410" font-size="28" fill="#000" textLength="71.1" lengthAdjust="spacingAndGlyphs">325.4</text>
<text x="872.1" y="1410" font-size="28" fill="#000" textLength="71.1" lengthAdjust="spacingAndGlyphs">031.7</text>
<text x="1053.1" y="1410" font-size="28" fill="#000" textLength="71.1" lengthAdjust="spacingAndGlyphs">073.7</text>
<text x="1233.5" y="1410" font-size="28" fill="#000" textLength="69" lengthAdjust="spacingAndGlyphs">115.6</text>
<text x="1412.5" y="1410" font-size="28" fill="#000" textLength="71.1" lengthAdjust="spacingAndGlyphs">157.3</text>
<text x="1592.6" y="1410" font-size="28" fill="#000" textLength="71.1" lengthAdjust="spacingAndGlyphs">199.1</text>
<text x="1773.9" y="1410" font-size="28" fill="#000" textLength="71.1" lengthAdjust="spacingAndGlyphs">241.1</text>
<text x="217.3" y="1450.7" font-size="28" fill="#000" textLength="72.1" lengthAdjust="spacingAndGlyphs">GLAT</text>
<text x="409.1" y="1450.7" font-size="28" fill="#000" textLength="62.7" lengthAdjust="spacingAndGlyphs">-11.3</text>
<text x="589.1" y="1450.7" font-size="28" fill="#000" textLength="64.8" lengthAdjust="spacingAndGlyphs">-03.3</text>
<text x="871.5" y="1450.7" font-size="28" fill="#000" textLength="71.9" lengthAdjust="spacingAndGlyphs">+06.7</text>
<text x="1052.5" y="1450.7" font-size="28" fill="#000" textLength="71.9" lengthAdjust="spacingAndGlyphs">+12.7</text>
<text x="1233.5" y="1450.7" font-size="28" fill="#000" textLength="69.8" lengthAdjust="spacingAndGlyphs">+11.3</text>
<text x="1412.4" y="1450.7" font-size="28" fill="#000" textLength="71.9" lengthAdjust="spacingAndGlyphs">+03.3</text>
<text x="1596.2" y="1450.7" font-size="28" fill="#000" textLength="64.8" lengthAdjust="spacingAndGlyphs">-06.7</text>
<text x="1777.2" y="1450.7" font-size="28" fill="#000" textLength="64.8" lengthAdjust="spacingAndGlyphs">-12.7</text>
<text x="221.6" y="1491.4" font-size="28" fill="#000" textLength="72.1" lengthAdjust="spacingAndGlyphs">GALT</text>
<text x="420.9" y="1491.4" font-size="28" fill="#000" textLength="47.4" lengthAdjust="spacingAndGlyphs">416</text>
<text x="602" y="1491.4" font-size="28" fill="#000" textLength="47.4" lengthAdjust="spacingAndGlyphs">422</text>
<text x="887.6" y="1491.4" font-size="28" fill="#000" textLength="47.4" lengthAdjust="spacingAndGlyphs">545</text>
<text x="1068.5" y="1491.4" font-size="28" fill="#000" textLength="47.4" lengthAdjust="spacingAndGlyphs">709</text>
<text x="1248.7" y="1491.4" font-size="28" fill="#000" textLength="47.4" lengthAdjust="spacingAndGlyphs">822</text>
<text x="1428.5" y="1491.4" font-size="28" fill="#000" textLength="47.4" lengthAdjust="spacingAndGlyphs">813</text>
<text x="1608.5" y="1491.4" font-size="28" fill="#000" textLength="47.4" lengthAdjust="spacingAndGlyphs">682</text>
<text x="1789.5" y="1491.4" font-size="28" fill="#000" textLength="47.4" lengthAdjust="spacingAndGlyphs">520</text>
<text x="213.2" y="1532.1" font-size="28" fill="#000" textLength="82.1" lengthAdjust="spacingAndGlyphs">MLON</text>
<text x="405.1" y="1532.1" font-size="28" fill="#000" textLength="71.1" lengthAdjust="spacingAndGlyphs">354.1</text>
<text x="586.1" y="1532.1" font-size="28" fill="#000" textLength="71.1" lengthAdjust="spacingAndGlyphs">037.7</text>
<text x="871.6" y="1532.1" font-size="28" fill="#000" textLength="71.1" lengthAdjust="spacingAndGlyphs">103.1</text>
<text x="1052.5" y="1532.1" font-size="28" fill="#000" textLength="71.1" lengthAdjust="spacingAndGlyphs">145.3</text>
<text x="1232.5" y="1532.1" font-size="28" fill="#000" textLength="71.1" lengthAdjust="spacingAndGlyphs">186.3</text>
<text x="1412.9" y="1532.1" font-size="28" fill="#000" textLength="71.1" lengthAdjust="spacingAndGlyphs">228.1</text>
<text x="1592.9" y="1532.1" font-size="28" fill="#000" textLength="71.1" lengthAdjust="spacingAndGlyphs">270.9</text>
<text x="1774" y="1532.1" font-size="28" fill="#000" textLength="71.1" lengthAdjust="spacingAndGlyphs">313.3</text>
<text x="217.7" y="1572.8" font-size="28" fill="#000" textLength="73.7" lengthAdjust="spacingAndGlyphs">MLAT</text>
<text x="404.4" y="1572.8" font-size="28" fill="#000" textLength="71.9" lengthAdjust="spacingAndGlyphs">+01.5</text>
<text x="589.2" y="1572.8" font-size="28" fill="#000" textLength="64.8" lengthAdjust="spacingAndGlyphs">-02.9</text>
<text x="875.1" y="1572.8" font-size="28" fill="#000" textLength="64.8" lengthAdjust="spacingAndGlyphs">-04.0</text>
<text x="1052.4" y="1572.8" font-size="28" fill="#000" textLength="71.9" lengthAdjust="spacingAndGlyphs">+04.5</text>
<text x="1232.5" y="1572.8" font-size="28" fill="#000" textLength="71.9" lengthAdjust="spacingAndGlyphs">+03.1</text>
<text x="1416.1" y="1572.8" font-size="28" fill="#000" textLength="64.8" lengthAdjust="spacingAndGlyphs">-03.8</text>
<text x="1596.2" y="1572.8" font-size="28" fill="#000" textLength="64.8" lengthAdjust="spacingAndGlyphs">-06.1</text>
<text x="1777.1" y="1572.8" font-size="28" fill="#000" textLength="64.8" lengthAdjust="spacingAndGlyphs">-07.3</text>
<text x="235.3" y="1613.5" font-size="28" fill="#000" textLength="37.9" lengthAdjust="spacingAndGlyphs">UT</text>
<text x="404.9" y="1613.5" font-size="28" fill="#000" textLength="71.1" lengthAdjust="spacingAndGlyphs">20:19</text>
<text x="585.8" y="1613.5" font-size="28" fill="#000" textLength="71.1" lengthAdjust="spacingAndGlyphs">20:30</text>
<text x="871.5" y="1613.5" font-size="28" fill="#000" textLength="71.1" lengthAdjust="spacingAndGlyphs">19:05</text>
<text x="1052.6" y="1613.5" font-size="28" fill="#000" textLength="71.1" lengthAdjust="spacingAndGlyphs">19:17</text>
<text x="1232.4" y="1613.5" font-size="28" fill="#000" textLength="71.1" lengthAdjust="spacingAndGlyphs">19:30</text>
<text x="1412.5" y="1613.5" font-size="28" fill="#000" textLength="71.1" lengthAdjust="spacingAndGlyphs">19:43</text>
<text x="1592.5" y="1613.5" font-size="28" fill="#000" textLength="71.1" lengthAdjust="spacingAndGlyphs">19:56</text>
<text x="1773.9" y="1613.5" font-size="28" fill="#000" textLength="71.1" lengthAdjust="spacingAndGlyphs">20:07</text>
<text x="224.7" y="1654.2" font-size="28" fill="#000" textLength="50" lengthAdjust="spacingAndGlyphs">SLT</text>
<text x="404.4" y="1654.2" font-size="28" fill="#000" textLength="71.1" lengthAdjust="spacingAndGlyphs">15:00</text>
<text x="585.4" y="1654.2" font-size="28" fill="#000" textLength="71.1" lengthAdjust="spacingAndGlyphs">18:00</text>
<text x="871.8" y="1654.2" font-size="28" fill="#000" textLength="71.1" lengthAdjust="spacingAndGlyphs">21:00</text>
<text x="1052.9" y="1654.2" font-size="28" fill="#000" textLength="71.1" lengthAdjust="spacingAndGlyphs">00:00</text>
<text x="1232.9" y="1654.2" font-size="28" fill="#000" textLength="71.1" lengthAdjust="spacingAndGlyphs">03:00</text>
<text x="1412.9" y="1654.2" font-size="28" fill="#000" textLength="71.1" lengthAdjust="spacingAndGlyphs">06:00</text>
<text x="1592.9" y="1654.2" font-size="28" fill="#000" textLength="71.1" lengthAdjust="spacingAndGlyphs">09:00</text>
<text x="1773.4" y="1654.2" font-size="28" fill="#000" textLength="71.1" lengthAdjust="spacingAndGlyphs">12:00</text>
<g transform="translate(1899.5,1661.7) rotate(-90)">
<text x="-1.8" y="0" font-size="21.5" fill="#000" style="stroke-width:0.1" textLength="391" lengthAdjust="spacingAndGlyphs">Preliminary corrected calibration, 2/11/09</text>
</g>
<g transform="translate(1925.3,1661.7) rotate(-90)">
<text x="-1.7" y="0" font-size="21.2" fill="#000" style="stroke-width:0.1" textLength="301" lengthAdjust="spacingAndGlyphs">Produced 15-Mar-2010 12:30:33</text>
</g>
</svg></body></html>
